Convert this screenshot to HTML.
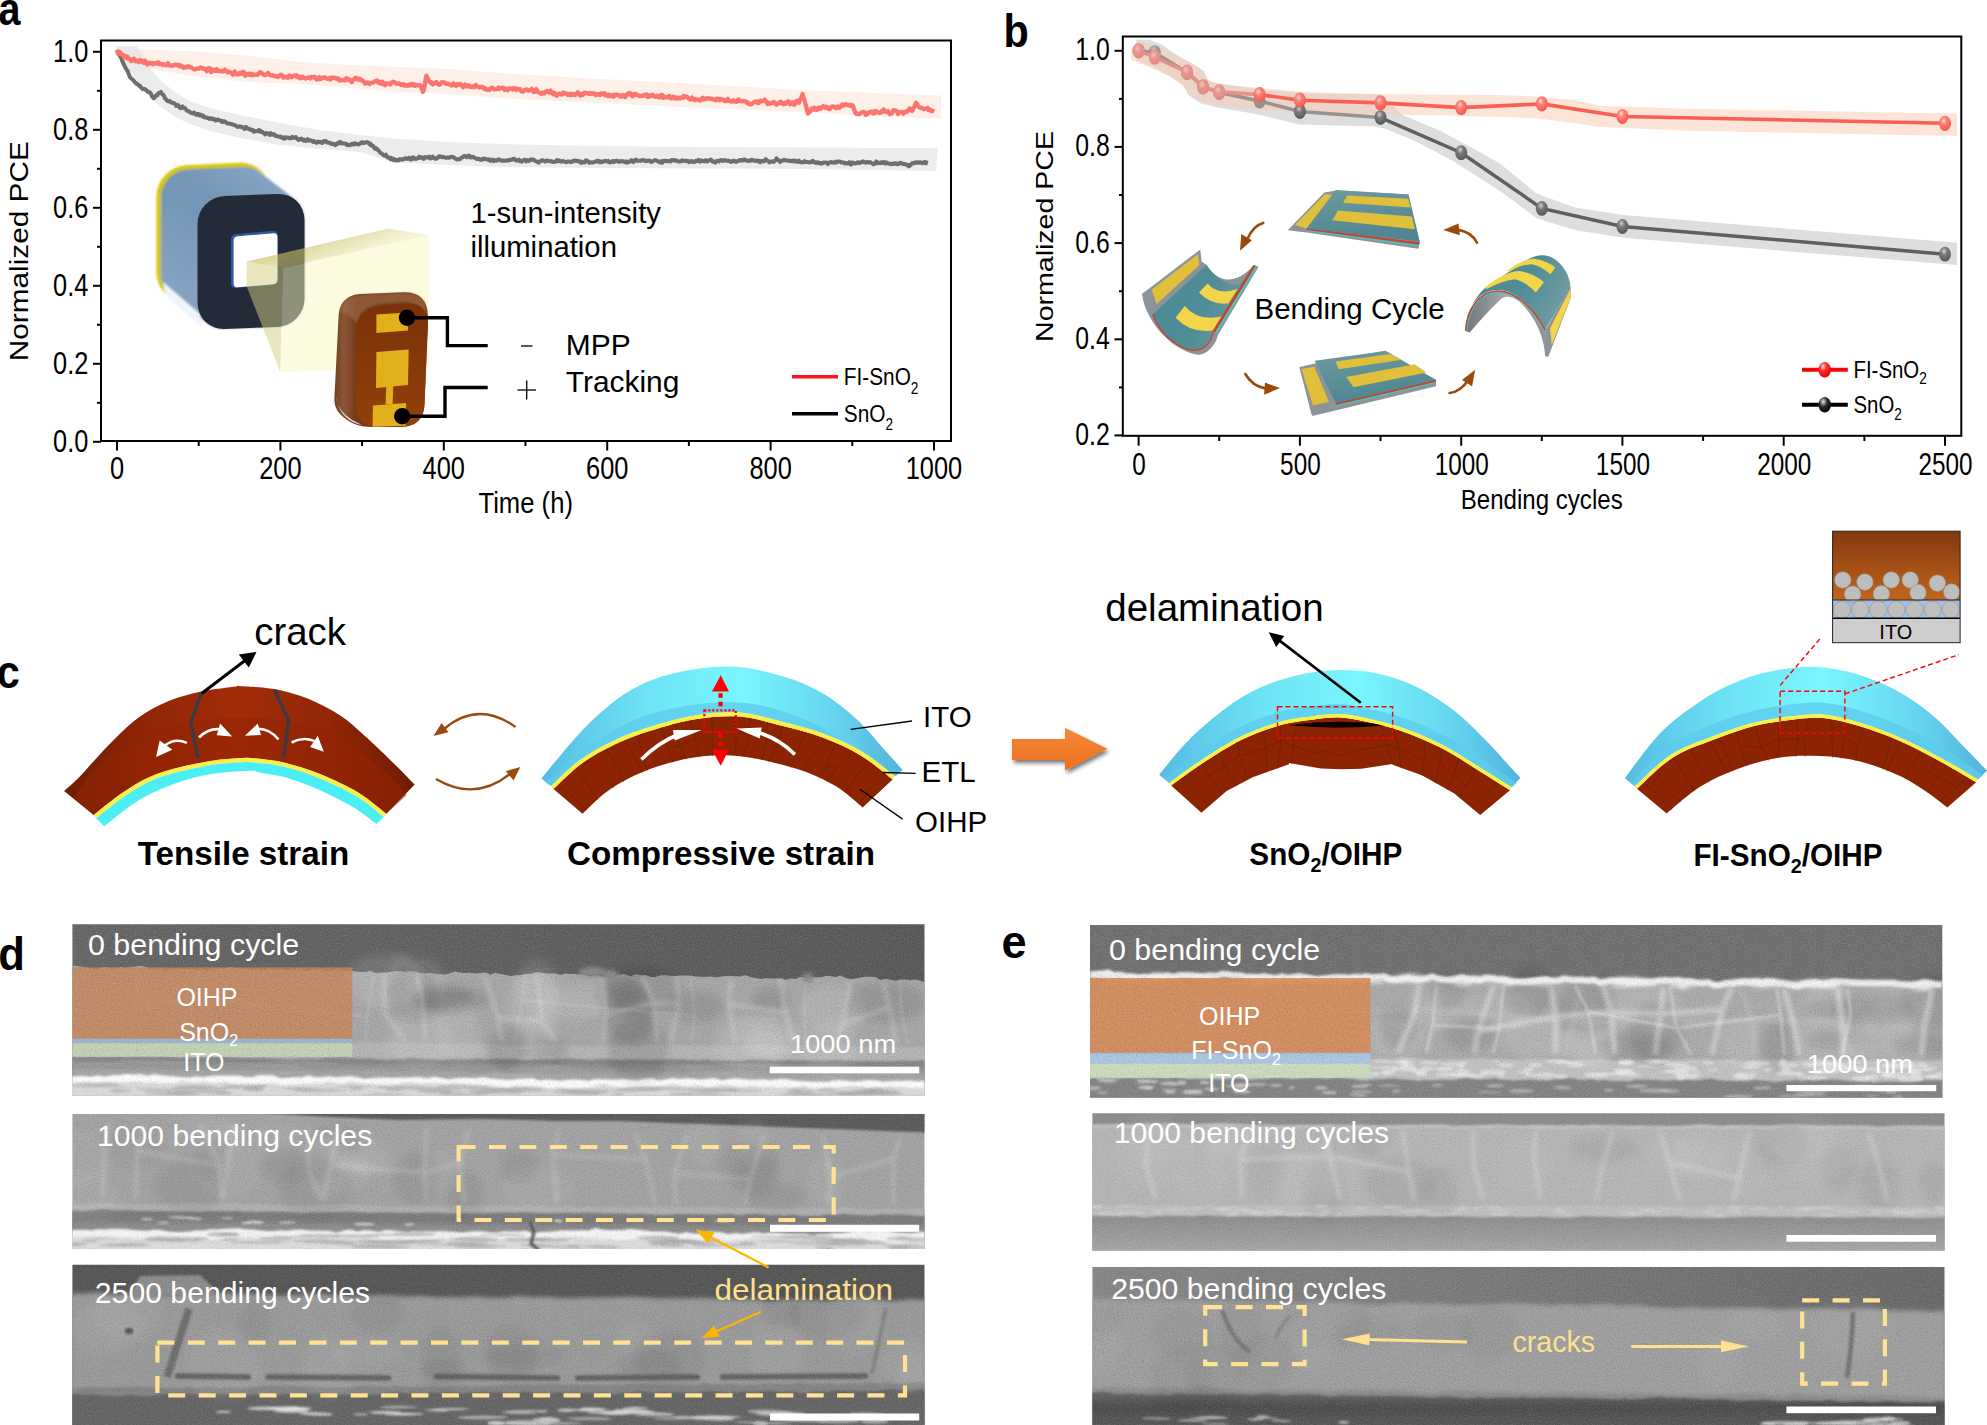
<!DOCTYPE html>
<html lang="en"><head><meta charset="utf-8"><title>Figure</title>
<style>
html,body{margin:0;padding:0;background:#fff;}
body{width:1987px;height:1425px;overflow:hidden;}
svg{display:block;font-family:"Liberation Sans", sans-serif;}
</style></head><body>
<svg width="1987" height="1425" viewBox="0 0 1987 1425">
<defs>

<linearGradient id="lampSide" x1="0" y1="0" x2="1" y2="1">
 <stop offset="0" stop-color="#7293b5"/><stop offset="0.45" stop-color="#86a4c2"/><stop offset="1" stop-color="#9bb5cd"/>
</linearGradient>
<linearGradient id="devSide" x1="0" y1="0" x2="1" y2="0">
 <stop offset="0" stop-color="#70401f"/><stop offset="0.1" stop-color="#8c5636"/><stop offset="0.24" stop-color="#74391a"/><stop offset="1" stop-color="#7c3a10"/>
</linearGradient>
<linearGradient id="devFace" x1="0" y1="0" x2="0" y2="1">
 <stop offset="0" stop-color="#7a3208"/><stop offset="1" stop-color="#93400a"/>
</linearGradient>
<linearGradient id="beamTop" gradientUnits="userSpaceOnUse" x1="330" y1="236" x2="340" y2="262"><stop offset="0" stop-color="#c9c060" stop-opacity="0.62"/><stop offset="1" stop-color="#e6e09a" stop-opacity="0.42"/></linearGradient>
<filter id="blur1"><feGaussianBlur stdDeviation="0.8"/></filter>


<radialGradient id="mkRed" cx="0.4" cy="0.32" r="0.7"><stop offset="0" stop-color="#fdd8d2"/><stop offset="0.35" stop-color="#fb8078"/><stop offset="1" stop-color="#f9544a"/></radialGradient>
<radialGradient id="mkRedP" cx="0.4" cy="0.35" r="0.7"><stop offset="0" stop-color="#eec4be"/><stop offset="0.4" stop-color="#e8958e"/><stop offset="1" stop-color="#e48880"/></radialGradient>
<radialGradient id="mkGrey" cx="0.42" cy="0.3" r="0.65"><stop offset="0" stop-color="#d0d0d0"/><stop offset="0.4" stop-color="#7a7a7a"/><stop offset="1" stop-color="#5c5c5c"/></radialGradient>
<radialGradient id="mkGreyP" cx="0.42" cy="0.3" r="0.65"><stop offset="0" stop-color="#c8c2bc"/><stop offset="0.5" stop-color="#9c948e"/><stop offset="1" stop-color="#948c86"/></radialGradient>
<radialGradient id="lgRed" cx="0.38" cy="0.3" r="0.7"><stop offset="0" stop-color="#ffe0e0"/><stop offset="0.4" stop-color="#fa3030"/><stop offset="1" stop-color="#f00000"/></radialGradient>
<radialGradient id="lgBlk" cx="0.38" cy="0.3" r="0.7"><stop offset="0" stop-color="#e8e8e8"/><stop offset="0.45" stop-color="#303030"/><stop offset="1" stop-color="#000"/></radialGradient>


<linearGradient id="teal1" x1="0" y1="0" x2="0.3" y2="1"><stop offset="0" stop-color="#6e9aa1"/><stop offset="1" stop-color="#4f8690"/></linearGradient>
<linearGradient id="teal2" x1="0" y1="0" x2="1" y2="0.4"><stop offset="0" stop-color="#4a8a94"/><stop offset="0.6" stop-color="#4f8d97"/><stop offset="1" stop-color="#6f9aa0"/></linearGradient>
<linearGradient id="greyIn" x1="0" y1="0" x2="1" y2="0"><stop offset="0" stop-color="#6f777c"/><stop offset="0.5" stop-color="#a4aaae"/><stop offset="1" stop-color="#8c9398"/></linearGradient>


<linearGradient id="brTop" x1="0" y1="0" x2="1" y2="0"><stop offset="0" stop-color="#6e1c04"/><stop offset="0.25" stop-color="#932606"/><stop offset="0.5" stop-color="#a22c08"/><stop offset="0.75" stop-color="#932606"/><stop offset="1" stop-color="#6e1c04"/></linearGradient>
<linearGradient id="brFront" x1="0" y1="0" x2="1" y2="0"><stop offset="0" stop-color="#902404"/><stop offset="0.5" stop-color="#962604"/><stop offset="1" stop-color="#902404"/></linearGradient>
<linearGradient id="cyTop" x1="0" y1="0" x2="1" y2="0"><stop offset="0" stop-color="#56bce2"/><stop offset="0.3" stop-color="#6ee4f6"/><stop offset="0.55" stop-color="#7af6fd"/><stop offset="0.8" stop-color="#66d6f0"/><stop offset="1" stop-color="#52b4dc"/></linearGradient>
<linearGradient id="cyFront" x1="0" y1="0" x2="1" y2="0"><stop offset="0" stop-color="#5cc8ea"/><stop offset="0.5" stop-color="#62d6f2"/><stop offset="1" stop-color="#5cc8ea"/></linearGradient>
<linearGradient id="orArrow" x1="0" y1="0" x2="0" y2="1"><stop offset="0" stop-color="#f28a3c"/><stop offset="1" stop-color="#ee6e1c"/></linearGradient>
<linearGradient id="insBrown" x1="0" y1="0" x2="0" y2="1"><stop offset="0" stop-color="#84380f"/><stop offset="1" stop-color="#c2651a"/></linearGradient>
<filter id="shadow" x="-20%" y="-30%" width="150%" height="170%"><feGaussianBlur in="SourceAlpha" stdDeviation="2.2"/><feOffset dx="1.5" dy="3"/><feComponentTransfer><feFuncA type="linear" slope="0.55"/></feComponentTransfer><feMerge><feMergeNode/><feMergeNode in="SourceGraphic"/></feMerge></filter>


<filter id="semNoise" x="0" y="0" width="100%" height="100%" color-interpolation-filters="sRGB">
 <feTurbulence type="fractalNoise" baseFrequency="0.85" numOctaves="2" seed="11" result="n"/>
 <feColorMatrix in="n" type="matrix" values="0 0 0 0 1  0 0 0 0 1  0 0 0 0 1  1.1 0 0 0 -0.55" result="w"/>
 <feColorMatrix in="n" type="matrix" values="0 0 0 0 0  0 0 0 0 0  0 0 0 0 0  -1.1 0 0 0 0.55" result="k"/>
 <feMerge><feMergeNode in="w"/><feMergeNode in="k"/></feMerge>
</filter>
<filter id="b1" x="-5%" y="-60%" width="110%" height="220%"><feGaussianBlur stdDeviation="1.1"/></filter>
<filter id="b1c" x="-100%" y="-30%" width="300%" height="160%"><feGaussianBlur stdDeviation="1.1"/></filter>
<filter id="b2" x="-5%" y="-30%" width="110%" height="160%"><feGaussianBlur stdDeviation="2.2"/></filter>
<filter id="b4" x="-5%" y="-40%" width="110%" height="180%"><feGaussianBlur stdDeviation="4"/></filter>

<linearGradient id="d1top" x1="0" y1="0" x2="1" y2="0"><stop offset="0" stop-color="#686868"/><stop offset="1" stop-color="#5a5a5a"/></linearGradient>
<linearGradient id="d1sub" x1="0" y1="0" x2="0" y2="1"><stop offset="0" stop-color="#7c7c7c"/><stop offset="0.45" stop-color="#8e8e8e"/><stop offset="1" stop-color="#a4a4a4"/></linearGradient>


<linearGradient id="e2sub" x1="0" y1="0" x2="0" y2="1"><stop offset="0" stop-color="#8c8c8c"/><stop offset="1" stop-color="#a9a9a9"/></linearGradient>
<linearGradient id="e3top" x1="0" y1="0" x2="1" y2="0"><stop offset="0" stop-color="#888"/><stop offset="1" stop-color="#6a6a6a"/></linearGradient>
<linearGradient id="e3bot" x1="0" y1="0" x2="0" y2="1"><stop offset="0" stop-color="#6a6a6a"/><stop offset="0.4" stop-color="#4e4e4e"/><stop offset="1" stop-color="#5a5a5a"/></linearGradient>

</defs>
<rect width="1987" height="1425" fill="#fff"/>
<g id="labels">
<text transform="translate(-1.5,24.5) scale(0.84,1)" font-size="47" text-anchor="start" fill="#000" font-weight="bold" >a</text>
<text transform="translate(1003.5,46.5) scale(0.9,1)" font-size="46" text-anchor="start" fill="#000" font-weight="bold" >b</text>
<text transform="translate(-3.2,688.0) scale(0.9,1)" font-size="46" text-anchor="start" fill="#000" font-weight="bold" >c</text>
<text transform="translate(-1.8,969.6) scale(0.95,1)" font-size="46" text-anchor="start" fill="#000" font-weight="bold" >d</text>
<text transform="translate(1001.6,957.6) scale(0.98,1)" font-size="46" text-anchor="start" fill="#000" font-weight="bold" >e</text>
</g>
<g id="panel_a">
<polygon points="116.0,46.0 135.0,49.0 160.0,50.0 200.0,51.5 250.0,56.0 300.0,62.0 350.0,65.0 400.0,67.0 450.0,69.0 500.0,73.0 600.0,79.0 700.0,84.0 800.0,90.0 900.0,94.0 941.0,95.6 941.0,119.0 900.0,117.5 800.0,112.0 700.0,108.0 600.0,103.0 500.0,98.0 450.0,94.0 400.0,92.0 350.0,88.0 300.0,84.0 250.0,82.0 200.0,77.0 160.0,71.0 135.0,66.0 120.0,58.0 116.0,54.0" fill="#fdf0e8"/>
<polygon points="116.0,47.0 125.0,46.0 136.0,45.5 141.0,52.0 150.0,68.0 160.0,80.0 175.0,92.0 190.0,101.0 210.0,108.0 240.0,115.0 280.0,123.0 320.0,130.0 360.0,135.0 400.0,139.0 450.0,142.0 500.0,144.0 600.0,146.0 700.0,147.0 800.0,147.5 900.0,148.0 938.0,147.8 936.0,171.0 900.0,170.5 800.0,169.0 700.0,168.5 600.0,168.0 500.0,167.0 450.0,165.0 400.0,163.0 380.0,158.0 360.0,152.0 320.0,149.0 280.0,145.0 240.0,138.0 210.0,131.0 190.0,124.0 175.0,117.0 160.0,106.0 150.0,96.0 140.0,85.0 130.0,71.0 120.0,58.0 116.0,52.0" fill="#e4e4e4" fill-opacity="0.72"/>
<polyline points="116.8,50.3 117.7,52.4 118.6,53.8 119.5,55.3 120.4,56.5 121.3,58.4 122.2,60.9 123.1,62.7 124.0,65.0 124.9,66.6 125.8,68.4 126.7,70.1 127.6,70.8 128.5,73.5 129.4,75.7 130.3,77.7 131.2,78.3 132.1,79.2 133.0,79.9 133.9,80.8 134.8,82.1 135.7,82.8 136.6,83.9 137.5,84.0 138.4,84.9 139.3,85.8 140.2,85.9 141.1,87.7 142.0,88.2 142.9,89.2 143.8,88.9 144.7,89.0 145.6,89.6 146.5,90.3 147.4,91.4 148.3,92.1 149.2,92.3 150.1,92.5 151.0,93.9 151.9,96.4 152.8,97.1 153.7,98.3 154.6,97.7 155.5,95.7 156.4,95.2 157.3,95.4 158.2,93.4 159.1,93.0 160.0,92.7 160.9,91.8 161.8,93.5 162.7,94.7 163.6,95.1 164.5,97.3 165.4,98.7 166.3,99.7 167.2,100.8 168.1,101.1 169.0,101.4 169.9,101.0 170.8,102.2 171.7,102.4 172.6,102.9 173.5,103.0 174.4,103.4 175.3,104.3 176.2,106.0 177.1,105.1 178.0,105.0 178.9,106.2 179.8,107.7 180.7,108.2 181.6,107.2 182.5,106.4 183.4,107.8 184.3,108.1 185.2,108.2 186.1,109.7 187.0,110.8 187.9,110.9 188.8,111.3 189.7,111.7 190.6,112.8 191.5,113.0 192.4,113.2 193.3,113.5 194.2,112.6 195.1,113.9 196.0,114.6 196.9,114.9 197.8,113.8 198.7,114.1 199.6,115.3 200.5,114.5 201.4,115.2 202.3,116.4 203.2,115.7 204.1,117.2 205.0,117.5 205.9,117.3 206.8,117.6 207.7,118.1 208.6,118.1 209.5,118.9 210.4,118.3 211.3,118.2 212.2,119.2 213.1,119.2 214.0,118.8 214.9,119.7 215.8,120.7 216.7,120.1 217.6,119.4 218.5,119.8 219.4,120.2 220.3,120.4 221.2,121.6 222.1,120.9 223.0,122.0 223.9,121.2 224.8,121.2 225.7,122.1 226.6,123.0 227.5,123.5 228.4,123.6 229.3,123.6 230.2,123.8 231.1,124.2 232.0,124.1 232.9,124.5 233.8,125.0 234.7,125.0 235.6,125.6 236.5,126.0 237.4,127.1 238.3,126.9 239.2,126.4 240.1,126.3 241.0,126.6 241.9,127.4 242.8,127.3 243.7,127.7 244.6,129.0 245.5,127.1 246.4,127.1 247.3,128.0 248.2,128.8 249.1,129.2 250.0,129.1 250.9,129.9 251.8,130.2 252.7,129.9 253.6,131.7 254.5,131.5 255.4,130.9 256.3,131.0 257.2,131.0 258.1,131.3 259.0,129.9 259.9,130.6 260.8,132.0 261.7,131.5 262.6,132.0 263.5,133.0 264.4,133.6 265.3,134.4 266.2,133.0 267.1,133.2 268.0,133.4 268.9,134.1 269.8,134.9 270.7,133.2 271.6,134.6 272.5,134.0 273.4,135.0 274.3,134.4 275.2,135.1 276.1,136.2 277.0,136.1 277.9,136.3 278.8,136.8 279.7,136.7 280.6,136.6 281.5,137.6 282.4,137.9 283.3,137.3 284.2,138.8 285.1,137.4 286.0,137.9 286.9,137.6 287.8,137.6 288.7,138.1 289.6,138.1 290.5,138.4 291.4,137.4 292.3,136.8 293.2,137.9 294.1,137.6 295.0,137.4 295.9,137.1 296.8,138.6 297.7,139.2 298.6,140.0 299.5,139.1 300.4,139.2 301.3,138.6 302.2,139.5 303.1,140.5 304.0,139.7 304.9,140.7 305.8,141.0 306.7,140.5 307.6,139.2 308.5,140.6 309.4,140.5 310.3,140.2 311.2,140.7 312.1,141.0 313.0,141.9 313.9,140.9 314.8,141.7 315.7,142.4 316.6,142.8 317.5,142.1 318.4,141.5 319.3,142.2 320.2,142.1 321.1,142.1 322.0,143.0 322.9,142.5 323.8,141.0 324.7,141.4 325.6,140.8 326.5,142.2 327.4,142.6 328.3,142.4 329.2,142.7 330.1,143.4 331.0,143.3 331.9,144.1 332.8,143.7 333.7,144.1 334.6,144.7 335.5,145.1 336.4,143.9 337.3,144.3 338.2,142.8 339.1,142.6 340.0,141.9 340.9,143.4 341.8,142.8 342.7,143.3 343.6,143.5 344.5,143.7 345.4,143.5 346.3,143.9 347.2,145.1 348.1,144.7 349.0,144.8 349.9,145.2 350.8,144.7 351.7,143.8 352.6,143.7 353.5,144.6 354.4,143.3 355.3,143.3 356.2,144.1 357.1,144.4 358.0,144.1 358.9,144.3 359.8,144.0 360.7,143.0 361.6,142.2 362.5,142.2 363.4,143.2 364.3,142.9 365.2,142.6 366.1,142.5 367.0,142.0 367.9,142.6 368.8,142.9 369.7,144.3 370.6,143.8 371.5,145.5 372.4,146.1 373.3,146.0 374.2,147.9 375.1,148.7 376.0,148.0 376.9,148.8 377.8,150.1 378.7,150.6 379.6,151.9 380.5,152.8 381.4,153.5 382.3,154.0 383.2,155.0 384.1,155.5 385.0,155.8 385.9,154.7 386.8,156.2 387.7,157.5 388.6,157.4 389.5,157.6 390.4,159.2 391.3,157.8 392.2,158.5 393.1,160.1 394.0,159.0 394.9,159.5 395.8,160.6 396.7,160.0 397.6,160.2 398.5,160.4 399.4,159.3 400.3,159.2 401.2,159.3 402.1,159.7 403.0,159.3 403.9,159.0 404.8,158.3 405.7,158.2 406.6,158.9 407.5,158.8 408.4,158.1 409.3,157.7 410.2,159.6 411.1,159.6 412.0,159.3 412.9,157.2 413.8,157.9 414.7,158.2 415.6,159.0 416.5,158.7 417.4,158.2 418.3,158.2 419.2,156.7 420.1,157.6 421.0,157.8 421.9,157.2 422.8,158.1 423.7,158.9 424.6,157.4 425.5,157.0 426.4,157.4 427.3,157.5 428.2,157.2 429.1,156.7 430.0,158.3 430.9,158.5 431.8,157.3 432.7,156.5 433.6,157.9 434.5,158.3 435.4,158.9 436.3,158.7 437.2,157.6 438.1,157.6 439.0,156.2 439.9,156.2 440.8,156.7 441.7,157.3 442.6,156.8 443.5,157.0 444.4,157.4 445.3,157.5 446.2,157.8 447.1,157.7 448.0,157.3 448.9,157.7 449.8,157.5 450.7,156.9 451.6,156.7 452.5,156.9 453.4,157.2 454.3,157.9 455.2,158.4 456.1,159.0 457.0,159.4 457.9,159.2 458.8,159.2 459.7,159.3 460.6,158.6 461.5,157.6 462.4,157.4 463.3,156.7 464.2,155.8 465.1,156.5 466.0,156.3 466.9,157.3 467.8,156.7 468.7,155.5 469.6,155.9 470.5,157.6 471.4,157.5 472.3,156.8 473.2,156.8 474.1,157.7 475.0,158.1 475.9,158.2 476.8,159.1 477.7,159.1 478.6,158.7 479.5,158.9 480.4,159.7 481.3,159.7 482.2,159.8 483.1,158.6 484.0,158.6 484.9,159.1 485.8,158.8 486.7,159.5 487.6,159.6 488.5,159.9 489.4,159.4 490.3,160.8 491.2,160.8 492.1,160.0 493.0,159.8 493.9,161.2 494.8,160.2 495.7,160.4 496.6,160.7 497.5,160.2 498.4,159.3 499.3,159.6 500.2,160.0 501.1,160.6 502.0,160.8 502.9,160.5 503.8,160.8 504.7,160.8 505.6,160.6 506.5,160.5 507.4,160.2 508.3,160.6 509.2,159.8 510.1,159.7 511.0,160.0 511.9,159.3 512.8,159.5 513.7,158.7 514.6,159.1 515.5,160.0 516.4,160.6 517.3,160.5 518.2,160.4 519.1,159.6 520.0,161.2 520.9,161.3 521.8,161.7 522.7,160.7 523.6,160.6 524.5,159.6 525.4,160.6 526.3,161.3 527.2,160.0 528.1,160.4 529.0,161.0 529.9,159.9 530.8,159.3 531.7,159.5 532.6,159.8 533.5,159.6 534.4,160.3 535.3,160.8 536.2,161.4 537.1,161.7 538.0,162.4 538.9,162.6 539.8,161.3 540.7,161.0 541.6,160.5 542.5,160.3 543.4,160.8 544.3,161.1 545.2,161.6 546.1,160.6 547.0,160.3 547.9,160.9 548.8,161.1 549.7,161.2 550.6,161.4 551.5,161.1 552.4,161.8 553.3,162.0 554.2,161.9 555.1,161.5 556.0,161.6 556.9,160.1 557.8,160.3 558.7,161.1 559.6,160.6 560.5,161.4 561.4,161.7 562.3,161.0 563.2,161.2 564.1,161.3 565.0,161.9 565.9,162.2 566.8,162.0 567.7,161.4 568.6,161.5 569.5,161.6 570.4,162.1 571.3,162.1 572.2,161.5 573.1,160.8 574.0,160.9 574.9,160.8 575.8,160.5 576.7,160.9 577.6,160.9 578.5,161.3 579.4,161.7 580.3,161.4 581.2,162.8 582.1,162.0 583.0,162.4 583.9,162.1 584.8,162.4 585.7,160.5 586.6,160.5 587.5,161.0 588.4,161.5 589.3,162.8 590.2,162.3 591.1,162.6 592.0,162.5 592.9,162.5 593.8,162.2 594.7,161.7 595.6,161.7 596.5,160.8 597.4,161.7 598.3,160.8 599.2,161.1 600.1,162.3 601.0,161.6 601.9,161.4 602.8,161.9 603.7,161.5 604.6,160.8 605.5,161.0 606.4,161.4 607.3,161.6 608.2,160.9 609.1,162.0 610.0,162.5 610.9,161.9 611.8,161.6 612.7,161.1 613.6,161.9 614.5,161.1 615.4,161.4 616.3,161.0 617.2,160.6 618.1,161.2 619.0,161.9 619.9,161.5 620.8,160.9 621.7,161.4 622.6,161.2 623.5,161.3 624.4,162.1 625.3,162.3 626.2,161.4 627.1,162.6 628.0,161.9 628.9,162.0 629.8,161.1 630.7,161.0 631.6,160.0 632.5,161.5 633.4,162.1 634.3,160.9 635.2,160.0 636.1,159.5 637.0,160.9 637.9,160.7 638.8,160.8 639.7,160.7 640.6,160.8 641.5,160.2 642.4,160.6 643.3,159.9 644.2,160.4 645.1,160.8 646.0,161.2 646.9,161.0 647.8,160.4 648.7,160.8 649.6,160.6 650.5,161.7 651.4,161.9 652.3,161.4 653.2,160.9 654.1,160.5 655.0,160.2 655.9,160.3 656.8,160.8 657.7,161.2 658.6,161.5 659.5,162.5 660.4,161.4 661.3,161.2 662.2,162.8 663.1,160.9 664.0,160.6 664.9,160.9 665.8,161.0 666.7,161.3 667.6,161.0 668.5,161.2 669.4,161.2 670.3,161.5 671.2,160.2 672.1,160.0 673.0,160.5 673.9,160.1 674.8,159.9 675.7,160.8 676.6,160.5 677.5,161.1 678.4,161.5 679.3,161.5 680.2,161.6 681.1,161.2 682.0,160.3 682.9,160.6 683.8,161.0 684.7,160.7 685.6,160.8 686.5,161.3 687.4,160.7 688.3,161.2 689.2,162.2 690.1,161.3 691.0,161.3 691.9,161.1 692.8,162.0 693.7,161.7 694.6,161.9 695.5,161.1 696.4,161.0 697.3,161.0 698.2,159.9 699.1,161.3 700.0,161.7 700.9,160.3 701.8,161.1 702.7,161.0 703.6,161.2 704.5,161.4 705.4,160.3 706.3,160.5 707.2,161.6 708.1,161.0 709.0,160.4 709.9,159.8 710.8,159.6 711.7,160.4 712.6,161.7 713.5,161.6 714.4,161.4 715.3,162.6 716.2,161.5 717.1,160.8 718.0,161.2 718.9,161.4 719.8,160.6 720.7,160.0 721.6,160.6 722.5,160.9 723.4,160.1 724.3,160.3 725.2,160.2 726.1,160.8 727.0,160.8 727.9,160.8 728.8,160.6 729.7,161.3 730.6,161.9 731.5,161.2 732.4,161.6 733.3,160.8 734.2,160.8 735.1,161.3 736.0,162.0 736.9,161.2 737.8,161.0 738.7,161.0 739.6,160.0 740.5,160.4 741.4,160.1 742.3,160.7 743.2,160.0 744.1,159.2 745.0,159.9 745.9,160.4 746.8,160.3 747.7,161.0 748.6,160.7 749.5,160.4 750.4,160.8 751.3,159.8 752.2,159.8 753.1,160.2 754.0,160.9 754.9,160.7 755.8,160.9 756.7,160.4 757.6,160.7 758.5,161.7 759.4,160.8 760.3,162.2 761.2,161.1 762.1,160.9 763.0,160.9 763.9,161.4 764.8,160.3 765.7,159.2 766.6,160.2 767.5,160.9 768.4,161.1 769.3,162.5 770.2,161.8 771.1,161.4 772.0,161.6 772.9,161.4 773.8,162.0 774.7,160.6 775.6,160.4 776.5,158.4 777.4,159.9 778.3,160.0 779.2,160.8 780.1,162.0 781.0,161.3 781.9,160.8 782.8,160.4 783.7,160.0 784.6,159.8 785.5,160.5 786.4,160.5 787.3,160.6 788.2,160.4 789.1,161.0 790.0,161.1 790.9,160.8 791.8,161.2 792.7,161.0 793.6,160.3 794.5,161.5 795.4,161.6 796.3,160.9 797.2,161.7 798.1,161.8 799.0,160.7 799.9,162.1 800.8,162.1 801.7,162.5 802.6,162.3 803.5,162.1 804.4,161.1 805.3,162.1 806.2,162.1 807.1,161.9 808.0,162.2 808.9,162.2 809.8,162.5 810.7,162.1 811.6,162.1 812.5,160.8 813.4,161.2 814.3,162.0 815.2,162.9 816.1,162.3 817.0,162.2 817.9,163.1 818.8,162.5 819.7,162.8 820.6,163.6 821.5,163.0 822.4,163.4 823.3,162.5 824.2,162.5 825.1,162.4 826.0,162.4 826.9,163.0 827.8,164.1 828.7,162.9 829.6,162.3 830.5,162.6 831.4,161.9 832.3,162.4 833.2,162.7 834.1,162.4 835.0,162.7 835.9,161.7 836.8,162.5 837.7,161.5 838.6,161.5 839.5,161.6 840.4,161.8 841.3,162.6 842.2,162.6 843.1,162.3 844.0,162.8 844.9,163.6 845.8,163.1 846.7,163.1 847.6,163.6 848.5,163.3 849.4,162.2 850.3,163.9 851.2,164.7 852.1,162.6 853.0,162.6 853.9,162.9 854.8,163.4 855.7,163.5 856.6,163.0 857.5,162.2 858.4,162.5 859.3,163.2 860.2,162.4 861.1,161.9 862.0,162.3 862.9,161.4 863.8,161.8 864.7,162.0 865.6,162.7 866.5,162.3 867.4,162.0 868.3,162.2 869.2,162.5 870.1,162.2 871.0,162.5 871.9,163.2 872.8,163.8 873.7,164.4 874.6,163.3 875.5,162.9 876.4,161.4 877.3,163.3 878.2,162.7 879.1,162.8 880.0,163.2 880.9,162.3 881.8,162.9 882.7,163.0 883.6,161.9 884.5,162.7 885.4,163.6 886.3,162.3 887.2,163.2 888.1,163.3 889.0,163.6 889.9,163.7 890.8,164.3 891.7,163.7 892.6,164.1 893.5,163.5 894.4,163.9 895.3,163.2 896.2,163.2 897.1,164.3 898.0,164.2 898.9,163.8 899.8,163.0 900.7,162.7 901.6,163.2 902.5,163.9 903.4,164.0 904.3,164.1 905.2,163.9 906.1,164.7 907.0,164.7 907.9,165.0 908.8,166.3 909.7,165.8 910.6,164.8 911.5,163.8 912.4,163.1 913.3,163.2 914.2,163.2 915.1,162.3 916.0,162.8 916.9,162.8 917.8,162.1 918.7,162.8 919.6,162.5 920.5,162.3 921.4,162.8 922.3,163.4 923.2,162.5 924.1,162.6 925.0,161.9 925.9,163.4 926.8,162.5 927.7,163.0" fill="none" stroke="#6e6e6e" stroke-width="4" stroke-linejoin="round"/>
<polyline points="116.8,50.0 117.7,51.6 118.6,54.0 119.5,51.9 120.4,52.7 121.3,54.3 122.2,55.0 123.1,55.0 124.0,57.5 124.9,57.5 125.8,56.3 126.7,57.9 127.6,56.9 128.5,58.9 129.4,58.8 130.3,59.6 131.2,61.0 132.1,60.8 133.0,59.5 133.9,58.7 134.8,60.5 135.7,61.3 136.6,60.5 137.5,61.5 138.4,61.8 139.3,62.1 140.2,60.0 141.1,60.5 142.0,61.8 142.9,62.4 143.8,62.9 144.7,60.6 145.6,61.5 146.5,62.3 147.4,64.5 148.3,62.9 149.2,62.6 150.1,62.8 151.0,63.6 151.9,63.0 152.8,64.1 153.7,63.1 154.6,63.5 155.5,63.1 156.4,63.5 157.3,63.1 158.2,62.2 159.1,63.9 160.0,64.2 160.9,63.8 161.8,64.2 162.7,65.1 163.6,64.1 164.5,64.3 165.4,64.9 166.3,65.3 167.2,64.9 168.1,63.3 169.0,65.2 169.9,65.5 170.8,65.5 171.7,65.3 172.6,65.7 173.5,65.4 174.4,64.8 175.3,64.7 176.2,64.9 177.1,65.0 178.0,64.7 178.9,66.0 179.8,65.2 180.7,66.4 181.6,65.7 182.5,66.5 183.4,67.8 184.3,67.7 185.2,66.9 186.1,67.1 187.0,67.4 187.9,66.1 188.8,66.3 189.7,67.1 190.6,67.1 191.5,67.5 192.4,68.4 193.3,68.9 194.2,69.4 195.1,69.4 196.0,68.8 196.9,68.7 197.8,68.5 198.7,68.4 199.6,68.5 200.5,67.4 201.4,67.9 202.3,68.5 203.2,68.1 204.1,68.7 205.0,69.5 205.9,69.4 206.8,71.2 207.7,68.5 208.6,69.0 209.5,68.0 210.4,69.8 211.3,72.1 212.2,69.3 213.1,69.9 214.0,70.6 214.9,70.4 215.8,71.0 216.7,69.1 217.6,70.6 218.5,71.1 219.4,71.1 220.3,70.7 221.2,71.5 222.1,71.1 223.0,71.4 223.9,71.1 224.8,69.6 225.7,70.6 226.6,71.3 227.5,72.2 228.4,71.5 229.3,71.8 230.2,72.5 231.1,72.6 232.0,73.5 232.9,74.7 233.8,73.1 234.7,71.4 235.6,72.8 236.5,74.1 237.4,74.4 238.3,74.5 239.2,73.4 240.1,72.8 241.0,73.8 241.9,73.0 242.8,71.8 243.7,71.9 244.6,74.8 245.5,75.9 246.4,74.5 247.3,73.8 248.2,74.2 249.1,73.7 250.0,75.1 250.9,74.8 251.8,73.8 252.7,75.2 253.6,74.5 254.5,74.7 255.4,74.7 256.3,74.5 257.2,74.9 258.1,74.3 259.0,73.1 259.9,72.1 260.8,72.4 261.7,72.9 262.6,73.8 263.5,74.4 264.4,75.1 265.3,75.2 266.2,74.5 267.1,74.2 268.0,73.0 268.9,73.9 269.8,74.9 270.7,75.5 271.6,75.3 272.5,75.2 273.4,76.0 274.3,75.8 275.2,76.2 276.1,76.4 277.0,76.2 277.9,77.0 278.8,75.9 279.7,75.5 280.6,74.9 281.5,74.7 282.4,76.4 283.3,77.5 284.2,76.8 285.1,76.8 286.0,77.4 286.9,77.4 287.8,77.7 288.7,75.9 289.6,75.5 290.5,76.1 291.4,77.3 292.3,76.9 293.2,75.9 294.1,75.7 295.0,75.5 295.9,75.1 296.8,76.9 297.7,76.2 298.6,76.3 299.5,78.1 300.4,78.3 301.3,77.8 302.2,76.7 303.1,77.0 304.0,78.2 304.9,78.1 305.8,78.6 306.7,77.9 307.6,77.9 308.5,77.4 309.4,77.6 310.3,78.5 311.2,76.8 312.1,77.0 313.0,77.4 313.9,77.0 314.8,77.0 315.7,78.0 316.6,79.5 317.5,79.2 318.4,78.9 319.3,77.2 320.2,79.1 321.1,78.7 322.0,78.5 322.9,77.5 323.8,77.8 324.7,77.2 325.6,77.8 326.5,78.5 327.4,78.6 328.3,78.9 329.2,78.1 330.1,79.6 331.0,78.8 331.9,77.4 332.8,78.0 333.7,77.9 334.6,77.7 335.5,78.1 336.4,78.9 337.3,78.2 338.2,78.7 339.1,80.2 340.0,80.5 340.9,80.0 341.8,80.0 342.7,79.8 343.6,79.8 344.5,80.5 345.4,80.2 346.3,78.3 347.2,79.1 348.1,78.9 349.0,80.1 349.9,79.7 350.8,80.2 351.7,82.1 352.6,80.6 353.5,79.7 354.4,79.1 355.3,77.9 356.2,77.8 357.1,79.5 358.0,79.7 358.9,78.8 359.8,78.7 360.7,80.3 361.6,80.1 362.5,80.4 363.4,81.1 364.3,82.4 365.2,83.6 366.1,83.5 367.0,82.8 367.9,82.5 368.8,83.6 369.7,84.0 370.6,82.8 371.5,82.8 372.4,82.7 373.3,82.5 374.2,82.0 375.1,81.1 376.0,81.2 376.9,80.5 377.8,82.4 378.7,82.9 379.6,81.8 380.5,83.3 381.4,83.8 382.3,81.8 383.2,83.8 384.1,84.1 385.0,85.2 385.9,83.3 386.8,83.7 387.7,83.8 388.6,83.7 389.5,83.7 390.4,84.4 391.3,82.8 392.2,82.1 393.1,81.7 394.0,82.1 394.9,82.4 395.8,83.3 396.7,83.8 397.6,83.9 398.5,83.4 399.4,83.4 400.3,84.5 401.2,85.0 402.1,84.7 403.0,84.3 403.9,85.6 404.8,84.6 405.7,85.1 406.6,85.8 407.5,85.1 408.4,85.6 409.3,84.4 410.2,85.4 411.1,85.4 412.0,83.9 412.9,85.0 413.8,84.3 414.7,85.8 415.6,85.0 416.5,85.0 417.4,85.4 418.3,85.2 419.2,85.6 420.1,85.1 421.0,85.9 421.9,88.8 422.8,91.9 423.7,90.5 424.6,86.1 425.5,79.9 426.4,75.6 427.3,77.6 428.2,79.5 429.1,81.6 430.0,81.6 430.9,83.1 431.8,82.6 432.7,84.4 433.6,83.5 434.5,83.6 435.4,82.9 436.3,82.0 437.2,83.3 438.1,83.9 439.0,84.8 439.9,84.7 440.8,83.6 441.7,82.2 442.6,82.3 443.5,82.3 444.4,82.3 445.3,83.4 446.2,83.9 447.1,83.7 448.0,84.0 448.9,84.0 449.8,84.3 450.7,84.9 451.6,85.5 452.5,84.5 453.4,83.4 454.3,85.1 455.2,85.1 456.1,85.9 457.0,84.1 457.9,84.3 458.8,84.7 459.7,83.8 460.6,84.0 461.5,85.2 462.4,86.2 463.3,87.2 464.2,85.8 465.1,84.6 466.0,85.5 466.9,86.4 467.8,86.4 468.7,85.2 469.6,86.2 470.5,86.8 471.4,87.0 472.3,86.3 473.2,86.6 474.1,87.2 475.0,86.5 475.9,85.1 476.8,86.1 477.7,86.8 478.6,86.9 479.5,87.6 480.4,86.9 481.3,86.9 482.2,86.8 483.1,87.5 484.0,88.7 484.9,88.0 485.8,89.4 486.7,89.8 487.6,89.5 488.5,89.2 489.4,90.0 490.3,89.0 491.2,88.4 492.1,87.5 493.0,88.2 493.9,89.3 494.8,89.3 495.7,89.3 496.6,88.8 497.5,88.8 498.4,87.6 499.3,89.0 500.2,88.6 501.1,87.9 502.0,87.8 502.9,87.7 503.8,89.0 504.7,90.0 505.6,88.6 506.5,89.7 507.4,90.3 508.3,89.5 509.2,88.3 510.1,88.3 511.0,88.4 511.9,89.3 512.8,89.3 513.7,88.0 514.6,89.1 515.5,88.3 516.4,89.8 517.3,89.0 518.2,89.1 519.1,89.0 520.0,89.2 520.9,90.8 521.8,91.4 522.7,91.5 523.6,91.4 524.5,89.9 525.4,89.9 526.3,89.9 527.2,89.6 528.1,90.7 529.0,90.3 529.9,90.1 530.8,89.8 531.7,88.9 532.6,90.5 533.5,92.0 534.4,92.0 535.3,91.0 536.2,89.2 537.1,90.5 538.0,92.1 538.9,92.2 539.8,92.9 540.7,93.7 541.6,93.9 542.5,92.8 543.4,93.4 544.3,93.5 545.2,91.8 546.1,91.8 547.0,91.0 547.9,91.7 548.8,92.6 549.7,91.8 550.6,90.6 551.5,92.7 552.4,93.1 553.3,94.3 554.2,92.7 555.1,93.7 556.0,95.1 556.9,95.8 557.8,94.4 558.7,94.0 559.6,93.5 560.5,94.2 561.4,94.5 562.3,94.0 563.2,92.6 564.1,93.5 565.0,93.0 565.9,93.6 566.8,93.7 567.7,94.8 568.6,95.0 569.5,93.9 570.4,93.9 571.3,95.1 572.2,93.9 573.1,94.0 574.0,94.7 574.9,95.1 575.8,94.8 576.7,93.2 577.6,92.3 578.5,93.0 579.4,93.6 580.3,95.6 581.2,94.0 582.1,94.7 583.0,94.8 583.9,93.0 584.8,92.6 585.7,93.2 586.6,93.0 587.5,93.2 588.4,93.8 589.3,93.1 590.2,93.8 591.1,93.3 592.0,93.1 592.9,93.8 593.8,93.4 594.7,93.8 595.6,95.1 596.5,94.6 597.4,94.1 598.3,94.6 599.2,94.0 600.1,94.9 601.0,93.4 601.9,94.2 602.8,93.7 603.7,93.2 604.6,95.0 605.5,93.9 606.4,95.5 607.3,95.4 608.2,96.1 609.1,94.5 610.0,95.4 610.9,96.1 611.8,95.3 612.7,94.8 613.6,96.7 614.5,95.9 615.4,95.0 616.3,94.4 617.2,94.9 618.1,95.1 619.0,95.1 619.9,96.4 620.8,95.5 621.7,95.6 622.6,96.5 623.5,95.1 624.4,95.9 625.3,97.0 626.2,95.1 627.1,94.3 628.0,93.9 628.9,93.1 629.8,94.5 630.7,93.4 631.6,94.8 632.5,96.3 633.4,94.7 634.3,94.9 635.2,93.7 636.1,95.2 637.0,94.9 637.9,95.1 638.8,95.5 639.7,96.1 640.6,95.8 641.5,95.9 642.4,95.5 643.3,95.9 644.2,95.1 645.1,95.6 646.0,94.4 646.9,94.8 647.8,97.0 648.7,96.8 649.6,95.6 650.5,96.2 651.4,95.6 652.3,94.7 653.2,95.0 654.1,96.3 655.0,96.8 655.9,96.7 656.8,96.0 657.7,95.6 658.6,97.3 659.5,97.3 660.4,96.4 661.3,95.0 662.2,94.9 663.1,97.9 664.0,96.7 664.9,96.9 665.8,97.3 666.7,97.2 667.6,97.1 668.5,96.2 669.4,96.0 670.3,98.1 671.2,97.3 672.1,98.2 673.0,96.6 673.9,97.0 674.8,97.6 675.7,98.6 676.6,97.4 677.5,98.2 678.4,98.5 679.3,97.7 680.2,98.3 681.1,97.6 682.0,97.3 682.9,97.8 683.8,95.9 684.7,97.0 685.6,96.9 686.5,96.5 687.4,97.1 688.3,98.4 689.2,98.3 690.1,99.5 691.0,98.3 691.9,97.5 692.8,99.4 693.7,99.6 694.6,100.1 695.5,99.0 696.4,99.7 697.3,99.7 698.2,100.0 699.1,99.7 700.0,100.6 700.9,99.5 701.8,98.7 702.7,97.9 703.6,99.6 704.5,99.0 705.4,98.5 706.3,98.3 707.2,98.6 708.1,98.1 709.0,98.7 709.9,98.7 710.8,98.8 711.7,98.6 712.6,99.3 713.5,99.3 714.4,99.7 715.3,100.1 716.2,100.4 717.1,98.6 718.0,98.9 718.9,98.9 719.8,100.2 720.7,99.0 721.6,99.1 722.5,99.5 723.4,99.7 724.3,100.9 725.2,100.4 726.1,101.3 727.0,99.9 727.9,98.8 728.8,100.7 729.7,101.1 730.6,101.4 731.5,101.3 732.4,101.5 733.3,100.3 734.2,101.4 735.1,100.9 736.0,101.8 736.9,101.6 737.8,99.8 738.7,99.5 739.6,101.2 740.5,101.2 741.4,101.0 742.3,101.4 743.2,101.1 744.1,100.9 745.0,101.3 745.9,101.5 746.8,102.8 747.7,102.3 748.6,103.6 749.5,104.2 750.4,104.5 751.3,104.2 752.2,103.3 753.1,102.8 754.0,102.3 754.9,101.6 755.8,101.8 756.7,101.4 757.6,103.0 758.5,103.0 759.4,102.3 760.3,100.7 761.2,101.3 762.1,101.4 763.0,100.9 763.9,100.6 764.8,99.6 765.7,101.2 766.6,101.7 767.5,104.0 768.4,103.3 769.3,102.7 770.2,103.7 771.1,103.3 772.0,103.0 772.9,102.5 773.8,102.0 774.7,103.4 775.6,103.8 776.5,104.6 777.4,103.4 778.3,103.1 779.2,102.2 780.1,103.2 781.0,101.8 781.9,102.7 782.8,103.6 783.7,104.3 784.6,102.9 785.5,103.7 786.4,102.7 787.3,102.2 788.2,101.4 789.1,103.0 790.0,104.3 790.9,103.2 791.8,102.5 792.7,102.4 793.6,104.7 794.5,104.7 795.4,103.3 796.3,101.2 797.2,100.7 798.1,101.8 799.0,102.7 799.9,100.4 800.8,98.2 801.7,96.6 802.6,94.0 803.5,97.7 804.4,99.7 805.3,103.7 806.2,106.2 807.1,110.1 808.0,113.6 808.9,112.1 809.8,112.0 810.7,110.8 811.6,108.6 812.5,109.0 813.4,109.6 814.3,107.7 815.2,109.6 816.1,109.6 817.0,109.8 817.9,107.8 818.8,107.6 819.7,107.7 820.6,108.9 821.5,107.5 822.4,107.2 823.3,106.1 824.2,106.9 825.1,107.7 826.0,106.6 826.9,106.8 827.8,107.8 828.7,109.1 829.6,109.1 830.5,108.3 831.4,107.0 832.3,106.5 833.2,106.3 834.1,106.8 835.0,106.9 835.9,108.2 836.8,107.8 837.7,106.4 838.6,107.7 839.5,107.8 840.4,107.2 841.3,106.1 842.2,104.5 843.1,104.3 844.0,105.6 844.9,104.9 845.8,104.1 846.7,104.6 847.6,104.9 848.5,105.2 849.4,105.3 850.3,105.8 851.2,104.9 852.1,106.2 853.0,105.7 853.9,108.8 854.8,111.2 855.7,113.4 856.6,114.0 857.5,113.5 858.4,114.1 859.3,114.2 860.2,113.7 861.1,112.8 862.0,112.2 862.9,112.0 863.8,112.1 864.7,112.3 865.6,114.9 866.5,114.3 867.4,114.2 868.3,112.7 869.2,112.1 870.1,112.0 871.0,112.3 871.9,111.6 872.8,113.2 873.7,112.4 874.6,113.3 875.5,111.0 876.4,111.6 877.3,112.1 878.2,112.4 879.1,112.8 880.0,112.8 880.9,112.7 881.8,110.9 882.7,110.9 883.6,109.6 884.5,111.3 885.4,111.9 886.3,111.8 887.2,111.3 888.1,111.2 889.0,113.0 889.9,114.0 890.8,113.0 891.7,113.6 892.6,111.6 893.5,110.2 894.4,110.6 895.3,110.5 896.2,110.7 897.1,111.4 898.0,114.0 898.9,112.5 899.8,112.2 900.7,112.3 901.6,112.0 902.5,112.6 903.4,113.7 904.3,111.8 905.2,111.9 906.1,111.6 907.0,111.8 907.9,110.4 908.8,109.4 909.7,108.4 910.6,110.0 911.5,110.6 912.4,110.8 913.3,108.4 914.2,107.1 915.1,105.2 916.0,102.8 916.9,103.6 917.8,105.7 918.7,107.0 919.6,107.3 920.5,108.0 921.4,107.7 922.3,108.2 923.2,108.5 924.1,109.0 925.0,108.7 925.9,108.5 926.8,108.5 927.7,108.0 928.6,110.1 929.5,109.8 930.4,109.7 931.3,111.0 932.2,111.1 933.1,108.8" fill="none" stroke="#fb7470" stroke-width="4.3" stroke-linejoin="round"/>
<rect x="101" y="40.5" width="850" height="400.5" fill="none" stroke="#000" stroke-width="2"/>
<line x1="93" y1="51.8" x2="101" y2="51.8" stroke="#000" stroke-width="2"/>
<text transform="translate(88.3,61.5) scale(0.805,1)" font-size="31.5" text-anchor="end" fill="#000" font-weight="normal" >1.0</text>
<line x1="97" y1="90.8" x2="101" y2="90.8" stroke="#000" stroke-width="2"/>
<line x1="93" y1="129.8" x2="101" y2="129.8" stroke="#000" stroke-width="2"/>
<text transform="translate(88.3,139.5) scale(0.805,1)" font-size="31.5" text-anchor="end" fill="#000" font-weight="normal" >0.8</text>
<line x1="97" y1="168.8" x2="101" y2="168.8" stroke="#000" stroke-width="2"/>
<line x1="93" y1="207.8" x2="101" y2="207.8" stroke="#000" stroke-width="2"/>
<text transform="translate(88.3,217.5) scale(0.805,1)" font-size="31.5" text-anchor="end" fill="#000" font-weight="normal" >0.6</text>
<line x1="97" y1="246.8" x2="101" y2="246.8" stroke="#000" stroke-width="2"/>
<line x1="93" y1="285.8" x2="101" y2="285.8" stroke="#000" stroke-width="2"/>
<text transform="translate(88.3,295.5) scale(0.805,1)" font-size="31.5" text-anchor="end" fill="#000" font-weight="normal" >0.4</text>
<line x1="97" y1="324.8" x2="101" y2="324.8" stroke="#000" stroke-width="2"/>
<line x1="93" y1="363.8" x2="101" y2="363.8" stroke="#000" stroke-width="2"/>
<text transform="translate(88.3,373.5) scale(0.805,1)" font-size="31.5" text-anchor="end" fill="#000" font-weight="normal" >0.2</text>
<line x1="97" y1="402.8" x2="101" y2="402.8" stroke="#000" stroke-width="2"/>
<line x1="93" y1="441.8" x2="101" y2="441.8" stroke="#000" stroke-width="2"/>
<text transform="translate(88.3,451.5) scale(0.805,1)" font-size="31.5" text-anchor="end" fill="#000" font-weight="normal" >0.0</text>
<line x1="117.0" y1="441" x2="117.0" y2="450.5" stroke="#000" stroke-width="2"/>
<text transform="translate(117.0,479.3) scale(0.82,1)" font-size="31" text-anchor="middle" fill="#000" font-weight="normal" >0</text>
<line x1="198.7" y1="441" x2="198.7" y2="446" stroke="#000" stroke-width="2"/>
<line x1="280.4" y1="441" x2="280.4" y2="450.5" stroke="#000" stroke-width="2"/>
<text transform="translate(280.4,479.3) scale(0.82,1)" font-size="31" text-anchor="middle" fill="#000" font-weight="normal" >200</text>
<line x1="362.1" y1="441" x2="362.1" y2="446" stroke="#000" stroke-width="2"/>
<line x1="443.8" y1="441" x2="443.8" y2="450.5" stroke="#000" stroke-width="2"/>
<text transform="translate(443.8,479.3) scale(0.82,1)" font-size="31" text-anchor="middle" fill="#000" font-weight="normal" >400</text>
<line x1="525.5" y1="441" x2="525.5" y2="446" stroke="#000" stroke-width="2"/>
<line x1="607.2" y1="441" x2="607.2" y2="450.5" stroke="#000" stroke-width="2"/>
<text transform="translate(607.2,479.3) scale(0.82,1)" font-size="31" text-anchor="middle" fill="#000" font-weight="normal" >600</text>
<line x1="688.9" y1="441" x2="688.9" y2="446" stroke="#000" stroke-width="2"/>
<line x1="770.6" y1="441" x2="770.6" y2="450.5" stroke="#000" stroke-width="2"/>
<text transform="translate(770.6,479.3) scale(0.82,1)" font-size="31" text-anchor="middle" fill="#000" font-weight="normal" >800</text>
<line x1="852.3" y1="441" x2="852.3" y2="446" stroke="#000" stroke-width="2"/>
<line x1="934.0" y1="441" x2="934.0" y2="450.5" stroke="#000" stroke-width="2"/>
<text transform="translate(934.0,479.3) scale(0.82,1)" font-size="31" text-anchor="middle" fill="#000" font-weight="normal" >1000</text>
<text transform="translate(525.7,513.0) scale(0.855,1)" font-size="30" text-anchor="middle" fill="#000" font-weight="normal" >Time (h)</text>
<text transform="translate(28.3,251.2) rotate(-90) scale(1.124,1)" font-size="26.5" text-anchor="middle" fill="#000" font-weight="normal" >Normalized PCE</text>
<line x1="792" y1="376.7" x2="838" y2="376.7" stroke="#f8141c" stroke-width="3.6"/>
<line x1="792" y1="413.8" x2="838" y2="413.8" stroke="#000" stroke-width="3.6"/>
<text transform="translate(843.8,385.4) scale(0.85,1)" font-size="24.5" text-anchor="start" fill="#000" font-weight="normal" >FI-SnO<tspan font-size="16" dy="8.3">2</tspan></text>
<text transform="translate(843.8,421.9) scale(0.85,1)" font-size="24.5" text-anchor="start" fill="#000" font-weight="normal" >SnO<tspan font-size="16" dy="8.3">2</tspan></text>
<text transform="translate(470.4,223.0)" font-size="29.3" text-anchor="start" fill="#000" font-weight="normal" >1-sun-intensity</text>
<text transform="translate(470.4,256.7)" font-size="29.3" text-anchor="start" fill="#000" font-weight="normal" >illumination</text>
<text transform="translate(565.8,354.8)" font-size="29.9" text-anchor="start" fill="#000" font-weight="normal" >MPP</text>
<text transform="translate(565.8,391.5)" font-size="29.9" text-anchor="start" fill="#000" font-weight="normal" >Tracking</text>
<line x1="521" y1="346" x2="532.5" y2="346" stroke="#000" stroke-width="1.3"/>
<line x1="517.5" y1="390" x2="536" y2="390" stroke="#000" stroke-width="1.3"/>
<line x1="526.7" y1="380.5" x2="526.7" y2="399.5" stroke="#000" stroke-width="1.3"/>
</g>
<g id="inset_a">
<g filter="url(#blur1)">
<g transform="translate(156.5,166.5) skewY(-2.6)"><rect x="0" y="0" width="113" height="136" rx="30" fill="#d3c700"/></g>
<g transform="translate(161.0,170.5) skewY(-2.4)"><rect x="0" y="0" width="109.0" height="131.0" rx="27" fill="url(#lampSide)"/></g>
<g transform="translate(163.6,172.4) skewY(-2.4)"><rect x="0" y="0" width="108.9" height="131.1" rx="27" fill="url(#lampSide)"/></g>
<g transform="translate(166.2,174.3) skewY(-2.4)"><rect x="0" y="0" width="108.7" height="131.3" rx="27" fill="url(#lampSide)"/></g>
<g transform="translate(168.8,176.2) skewY(-2.4)"><rect x="0" y="0" width="108.6" height="131.4" rx="27" fill="url(#lampSide)"/></g>
<g transform="translate(171.4,178.1) skewY(-2.4)"><rect x="0" y="0" width="108.4" height="131.6" rx="27" fill="url(#lampSide)"/></g>
<g transform="translate(174.0,180.0) skewY(-2.4)"><rect x="0" y="0" width="108.3" height="131.7" rx="27" fill="url(#lampSide)"/></g>
<g transform="translate(176.6,181.9) skewY(-2.4)"><rect x="0" y="0" width="108.1" height="131.9" rx="27" fill="url(#lampSide)"/></g>
<g transform="translate(179.2,183.8) skewY(-2.4)"><rect x="0" y="0" width="108.0" height="132.0" rx="27" fill="url(#lampSide)"/></g>
<g transform="translate(181.9,185.6) skewY(-2.4)"><rect x="0" y="0" width="107.9" height="132.1" rx="27" fill="url(#lampSide)"/></g>
<g transform="translate(184.5,187.5) skewY(-2.4)"><rect x="0" y="0" width="107.7" height="132.3" rx="27" fill="url(#lampSide)"/></g>
<g transform="translate(187.1,189.4) skewY(-2.4)"><rect x="0" y="0" width="107.6" height="132.4" rx="27" fill="url(#lampSide)"/></g>
<g transform="translate(189.7,191.3) skewY(-2.4)"><rect x="0" y="0" width="107.4" height="132.6" rx="27" fill="url(#lampSide)"/></g>
<g transform="translate(192.3,193.2) skewY(-2.4)"><rect x="0" y="0" width="107.3" height="132.7" rx="27" fill="url(#lampSide)"/></g>
<g transform="translate(194.9,195.1) skewY(-2.4)"><rect x="0" y="0" width="107.1" height="132.9" rx="27" fill="url(#lampSide)"/></g>
<g transform="translate(197.5,197.0) skewY(-2.4)"><rect x="0" y="0" width="107.0" height="133.0" rx="27" fill="url(#lampSide)"/></g>
<path d="M163,282 L200,314 L202,327 L176,305 Q164,297 163,282 Z" fill="#eef4fa"/>
</g>
<g transform="translate(197.5,197) skewY(-2.2)"><rect x="0" y="0" width="107" height="133" rx="27" ry="27" fill="#232b38"/></g>
<g transform="translate(231,234.5) skewY(-5)"><rect x="0" y="0" width="46.5" height="54" rx="4.5" fill="#2d58a6"/><rect x="2.6" y="2.4" width="43.9" height="51" rx="4" fill="#fff"/></g>
</g>
<polygon points="246.5,261.6 282.8,268.1 280.3,372.2 246.5,285.9" fill="#d3cd81" fill-opacity="0.5"/>
<polygon points="246.5,261.6 388.5,228.6 428.8,235 282.8,268.1" fill="url(#beamTop)"/>
<polygon points="282.8,268.1 428.8,235 428.8,366 280.3,372.2" fill="#fbf7c0" fill-opacity="0.5"/>
<path d="M338.5,318 Q338.5,296 360,294 L404,292.3 Q427,292 428,316 L424.5,404 Q424,427 400,427 L372,427 Q352,427 340,414 Q334,408 334.4,398 Z" fill="url(#devSide)"/>
<path d="M336,396 Q337,410 352,420 L362,425 Q352,423 346,417 Q338,410 336,396 Z" fill="#f4e8e0"/>
<path d="M341,312 Q343,296 362,294.5 L404,292.8 Q420,292.5 426,304 L426,318 Q420,302 404,302 L382,304 Q360,306 357,324 Q350,314 341,312 Z" fill="#a27858" fill-opacity="0.5" filter="url(#blur1)"/>
<path d="M356.5,331 Q356.5,308 380,306 L406,303.5 Q428,302 428,325 L424.5,404 Q424,426 400,426.5 L378,427 Q356,427 356,404 Z" fill="url(#devFace)"/>
<polygon points="376.4,314.5 407.9,312.5 407.9,330.5 376.4,333" fill="#e2b01c"/>
<polygon points="376.4,352 408.7,349.5 408,385 376,388" fill="#e2b01c"/>
<polygon points="386.3,386 393.3,385.5 392.6,404 385.6,404.5" fill="#e2b01c"/>
<polygon points="373,405.5 406.2,403 405.6,425.8 372.5,426.8" fill="#e2b01c"/>
<polyline points="407,317.8 447.4,317.8 447.4,345.6 487.7,345.6" fill="none" stroke="#000" stroke-width="3.4"/>
<polyline points="402.2,416.3 445,416.3 445,387.5 487.7,387.5" fill="none" stroke="#000" stroke-width="3.4"/>
<circle cx="407" cy="317.8" r="8.2" fill="#000"/><circle cx="402.2" cy="416.3" r="8.2" fill="#000"/>
</g>
<g id="panel_b">
<polygon points="1136.4,39.4 1149.3,39.8 1161.3,44.3 1177.9,55.7 1193.0,64.0 1203.6,70.8 1208.1,79.8 1215.7,83.1 1261.0,89.6 1306.3,93.4 1380.3,94.6 1402.6,115.0 1440.0,130.8 1478.0,151.0 1500.0,163.6 1537.0,193.8 1575.0,207.6 1623.0,215.0 1957.0,242.8 1957.0,265.0 1623.0,237.8 1575.0,230.0 1537.0,218.4 1500.0,191.0 1453.0,161.0 1415.0,141.0 1386.3,128.9 1374.2,126.2 1336.5,125.4 1298.7,124.4 1268.5,116.8 1245.9,112.3 1215.7,107.0 1200.6,103.2 1188.5,94.9 1184.0,86.6 1173.4,78.3 1155.3,67.7 1136.4,60.2" fill="#dedede"/>
<polygon points="1131.1,49.6 1137.2,40.9 1155.3,45.1 1177.9,56.4 1194.6,64.7 1203.6,72.3 1208.1,80.6 1224.8,85.1 1261.0,88.1 1306.3,91.9 1381.8,94.2 1500.0,95.0 1537.0,96.4 1575.0,100.0 1600.0,105.7 1688.0,108.7 1957.0,113.7 1957.0,135.9 1688.0,130.8 1600.0,127.0 1575.0,123.3 1537.0,118.2 1500.0,117.0 1460.0,115.8 1381.8,114.6 1336.5,113.0 1291.2,111.5 1245.9,108.5 1215.7,104.7 1200.6,101.0 1188.5,93.4 1182.5,84.4 1170.4,76.8 1155.3,70.0 1131.1,59.4" fill="#f9c9ad" fill-opacity="0.5"/>
<polyline points="1138.6,50.8 1154.7,52.6 1187.0,72.5 1203.1,87.0 1219.2,92.5 1259.6,101.0 1299.9,111.5 1380.5,117.6" fill="none" stroke="#9a928c" stroke-width="3.5"/>
<polyline points="1380.5,117.6 1461.2,152.7 1541.8,208.4 1622.4,226.5 1945.0,254.2" fill="none" stroke="#5f5f5f" stroke-width="3.5"/>
<ellipse cx="1138.6" cy="50.8" rx="6" ry="7.4" fill="url(#mkGreyP)"/>
<ellipse cx="1154.7" cy="52.6" rx="6" ry="7.4" fill="url(#mkGreyP)"/>
<ellipse cx="1187.0" cy="72.5" rx="6" ry="7.4" fill="url(#mkGreyP)"/>
<ellipse cx="1203.1" cy="87.0" rx="6" ry="7.4" fill="url(#mkGreyP)"/>
<ellipse cx="1219.2" cy="92.5" rx="6" ry="7.4" fill="url(#mkGreyP)"/>
<ellipse cx="1259.6" cy="101.0" rx="6" ry="7.4" fill="url(#mkGreyP)"/>
<ellipse cx="1299.9" cy="111.5" rx="6" ry="7.4" fill="url(#mkGrey)"/>
<ellipse cx="1380.5" cy="117.6" rx="6" ry="7.4" fill="url(#mkGrey)"/>
<ellipse cx="1461.2" cy="152.7" rx="6" ry="7.4" fill="url(#mkGrey)"/>
<ellipse cx="1541.8" cy="208.4" rx="6" ry="7.4" fill="url(#mkGrey)"/>
<ellipse cx="1622.4" cy="226.5" rx="6" ry="7.4" fill="url(#mkGrey)"/>
<ellipse cx="1945.0" cy="254.2" rx="6" ry="7.4" fill="url(#mkGrey)"/>
<polyline points="1138.6,50.8 1154.7,57.2 1187.0,72.0 1203.1,86.6 1219.2,91.9 1259.6,94.6" fill="none" stroke="#e8908a" stroke-width="3.6"/>
<polyline points="1259.6,94.6 1299.9,100.2 1380.5,102.9 1461.2,107.6 1541.8,103.9 1622.4,116.5 1945.0,123.3" fill="none" stroke="#fa5f55" stroke-width="3.6"/>
<ellipse cx="1138.6" cy="50.8" rx="6" ry="7.6" fill="url(#mkRedP)"/>
<ellipse cx="1154.7" cy="57.2" rx="6" ry="7.6" fill="url(#mkRedP)"/>
<ellipse cx="1187.0" cy="72.0" rx="6" ry="7.6" fill="url(#mkRedP)"/>
<ellipse cx="1203.1" cy="86.6" rx="6" ry="7.6" fill="url(#mkRedP)"/>
<ellipse cx="1219.2" cy="91.9" rx="6" ry="7.6" fill="url(#mkRedP)"/>
<ellipse cx="1259.6" cy="94.6" rx="6" ry="7.6" fill="url(#mkRed)"/>
<ellipse cx="1299.9" cy="100.2" rx="6" ry="7.6" fill="url(#mkRed)"/>
<ellipse cx="1380.5" cy="102.9" rx="6" ry="7.6" fill="url(#mkRed)"/>
<ellipse cx="1461.2" cy="107.6" rx="6" ry="7.6" fill="url(#mkRed)"/>
<ellipse cx="1541.8" cy="103.9" rx="6" ry="7.6" fill="url(#mkRed)"/>
<ellipse cx="1622.4" cy="116.5" rx="6" ry="7.6" fill="url(#mkRed)"/>
<ellipse cx="1945.0" cy="123.3" rx="6" ry="7.6" fill="url(#mkRed)"/>
<rect x="1122.8" y="36.5" width="838.5" height="399.3" fill="none" stroke="#000" stroke-width="2"/>
<line x1="1114.5" y1="50.8" x2="1122.8" y2="50.8" stroke="#000" stroke-width="2"/>
<text transform="translate(1109.8,60.2) scale(0.785,1)" font-size="31.6" text-anchor="end" fill="#000" font-weight="normal" >1.0</text>
<line x1="1119" y1="98.9" x2="1122.8" y2="98.9" stroke="#000" stroke-width="2"/>
<line x1="1114.5" y1="146.9" x2="1122.8" y2="146.9" stroke="#000" stroke-width="2"/>
<text transform="translate(1109.8,156.3) scale(0.785,1)" font-size="31.6" text-anchor="end" fill="#000" font-weight="normal" >0.8</text>
<line x1="1119" y1="195.0" x2="1122.8" y2="195.0" stroke="#000" stroke-width="2"/>
<line x1="1114.5" y1="243.1" x2="1122.8" y2="243.1" stroke="#000" stroke-width="2"/>
<text transform="translate(1109.8,252.5) scale(0.785,1)" font-size="31.6" text-anchor="end" fill="#000" font-weight="normal" >0.6</text>
<line x1="1119" y1="291.2" x2="1122.8" y2="291.2" stroke="#000" stroke-width="2"/>
<line x1="1114.5" y1="339.3" x2="1122.8" y2="339.3" stroke="#000" stroke-width="2"/>
<text transform="translate(1109.8,348.7) scale(0.785,1)" font-size="31.6" text-anchor="end" fill="#000" font-weight="normal" >0.4</text>
<line x1="1119" y1="387.4" x2="1122.8" y2="387.4" stroke="#000" stroke-width="2"/>
<line x1="1114.5" y1="435.4" x2="1122.8" y2="435.4" stroke="#000" stroke-width="2"/>
<text transform="translate(1109.8,444.8) scale(0.785,1)" font-size="31.6" text-anchor="end" fill="#000" font-weight="normal" >0.2</text>
<line x1="1138.6" y1="435.8" x2="1138.6" y2="445.7" stroke="#000" stroke-width="2"/>
<text transform="translate(1139.1,475.2) scale(0.772,1)" font-size="31.5" text-anchor="middle" fill="#000" font-weight="normal" >0</text>
<line x1="1219.2" y1="435.8" x2="1219.2" y2="441" stroke="#000" stroke-width="2"/>
<line x1="1299.9" y1="435.8" x2="1299.9" y2="445.7" stroke="#000" stroke-width="2"/>
<text transform="translate(1300.4,475.2) scale(0.772,1)" font-size="31.5" text-anchor="middle" fill="#000" font-weight="normal" >500</text>
<line x1="1380.5" y1="435.8" x2="1380.5" y2="441" stroke="#000" stroke-width="2"/>
<line x1="1461.2" y1="435.8" x2="1461.2" y2="445.7" stroke="#000" stroke-width="2"/>
<text transform="translate(1461.7,475.2) scale(0.772,1)" font-size="31.5" text-anchor="middle" fill="#000" font-weight="normal" >1000</text>
<line x1="1541.8" y1="435.8" x2="1541.8" y2="441" stroke="#000" stroke-width="2"/>
<line x1="1622.4" y1="435.8" x2="1622.4" y2="445.7" stroke="#000" stroke-width="2"/>
<text transform="translate(1622.9,475.2) scale(0.772,1)" font-size="31.5" text-anchor="middle" fill="#000" font-weight="normal" >1500</text>
<line x1="1703.1" y1="435.8" x2="1703.1" y2="441" stroke="#000" stroke-width="2"/>
<line x1="1783.7" y1="435.8" x2="1783.7" y2="445.7" stroke="#000" stroke-width="2"/>
<text transform="translate(1784.2,475.2) scale(0.772,1)" font-size="31.5" text-anchor="middle" fill="#000" font-weight="normal" >2000</text>
<line x1="1864.4" y1="435.8" x2="1864.4" y2="441" stroke="#000" stroke-width="2"/>
<line x1="1945.0" y1="435.8" x2="1945.0" y2="445.7" stroke="#000" stroke-width="2"/>
<text transform="translate(1945.5,475.2) scale(0.772,1)" font-size="31.5" text-anchor="middle" fill="#000" font-weight="normal" >2500</text>
<text transform="translate(1541.7,509.0) scale(0.86,1)" font-size="28" text-anchor="middle" fill="#000" font-weight="normal" >Bending cycles</text>
<text transform="translate(1053.0,236.5) rotate(-90) scale(1.19,1)" font-size="24" text-anchor="middle" fill="#000" font-weight="normal" >Normalized PCE</text>
<line x1="1802" y1="369.7" x2="1847.8" y2="369.7" stroke="#fb0007" stroke-width="4"/>
<ellipse cx="1824.7" cy="369.7" rx="6.2" ry="7.8" fill="url(#lgRed)"/>
<line x1="1802" y1="404.8" x2="1847.8" y2="404.8" stroke="#000" stroke-width="4"/>
<ellipse cx="1824.7" cy="404.8" rx="6.2" ry="7.8" fill="url(#lgBlk)"/>
<text transform="translate(1853.5,378.0) scale(0.85,1)" font-size="24" text-anchor="start" fill="#000" font-weight="normal" >FI-SnO<tspan font-size="16" dy="6.4">2</tspan></text>
<text transform="translate(1853.5,413.2) scale(0.85,1)" font-size="24" text-anchor="start" fill="#000" font-weight="normal" >SnO<tspan font-size="16" dy="6.4">2</tspan></text>
<text transform="translate(1254.5,319.0)" font-size="29.5" text-anchor="start" fill="#000" font-weight="normal" >Bending Cycle</text>
</g>
<g id="inset_b">
<path d="M 1287.8,230.2 L 1324.3,192.4 L 1336.2,190.4 L 1408.6,194.6 L 1419.8,242.1 L 1418.3,248.8 L 1306.6,232.4 Z" fill="#8c949a" />
<path d="M 1295.1,224.7 L 1325.3,193.9 L 1332.9,195.0 L 1306.3,228.8 Z" fill="#e0c03a" />
<path d="M 1306.6,231.1 L 1418.7,246.6 L 1419.4,243.0 L 1306.6,228.8 Z" fill="#45c6c4" />
<path d="M 1306.6,229.9 L 1419.1,244.8 L 1419.6,242.3 L 1306.6,228.0 Z" fill="#c8422c" />
<path d="M 1306.6,228.4 L 1335.8,190.1 L 1408.3,194.6 L 1419.6,241.5 Z" fill="url(#teal1)" />
<path d="M 1347.2,195.5 L 1408.3,198.8 L 1410.7,207.4 L 1343.1,202.8 Z" fill="#e0c03a" />
<path d="M 1338.0,210.5 L 1411.9,216.5 L 1415.0,229.3 L 1332.2,220.2 Z" fill="#e0c03a" />
<path d="M 1299.3,367.1 L 1315.2,363.4 L 1385.5,350.7 L 1436.0,379.9 L 1436.0,386.2 L 1312.5,416.0 L 1311.2,413.6 Z" fill="#8c949a" />
<path d="M 1301.5,368.9 L 1314.3,366.7 L 1328.9,401.8 L 1313.0,405.4 Z" fill="#e0c03a" />
<path d="M 1336.8,406.5 L 1436.0,383.1 L 1436.0,380.8 L 1335.8,403.6 Z" fill="#45c6c4" />
<path d="M 1336.2,405.0 L 1436.0,381.7 L 1436.0,379.5 L 1335.5,402.5 Z" fill="#c8422c" />
<path d="M 1314.7,360.7 L 1385.5,351.0 L 1436.0,379.9 L 1335.8,403.2 Z" fill="url(#teal1)" />
<path d="M 1335.3,361.6 L 1390.0,353.9 L 1401.9,359.8 L 1338.9,369.3 Z" fill="#e0c03a" />
<path d="M 1346.2,377.1 L 1414.7,364.3 L 1426.5,372.6 L 1353.5,387.2 Z" fill="#e0c03a" />
<path d="M 1141.9,294.1 L 1200.3,249.4 L 1201.5,261.2 L 1206.6,264.9 C 1215.8,279.5 1232.2,288.6 1254.1,264.9 L 1258.6,266.7 L 1218.0,335.1 C 1215.8,345.2 1206.6,355.2 1198.4,354.7 C 1175.6,352.5 1146.4,325.1 1141.9,294.1 Z" fill="#8c949a" />
<path d="M 1151.9,289.5 L 1197.9,254.3 L 1199.3,265.3 L 1156.5,304.1 Z" fill="#e0c03a" />
<path d="M 1152.8,314.2 L 1206.6,264.9 C 1215.8,279.5 1232.2,288.6 1241.3,283.1 L 1253.2,265.8 L 1212.5,330.9 C 1210.3,345.2 1199.3,350.7 1192.0,350.3 C 1175.6,347.9 1157.4,330.6 1152.8,314.2 Z" fill="url(#teal2)" />
<path d="M 1207.6,283.5 Q 1217.6,295.9 1237.7,289.0 L 1228.5,303.2 Q 1212.1,305.9 1199.0,292.6 Z" fill="#f3d54a" />
<path d="M 1184.7,305.9 Q 1198.4,322.4 1224.0,316.0 L 1214.3,330.2 Q 1191.1,334.2 1175.6,317.8 Z" fill="#f3d54a" />
<path d="M 1212.5,330.9 L 1253.2,265.3 L 1255.9,265.8 L 1214.9,332.8 Z" fill="#c8422c" />
<path d="M 1214.9,332.8 L 1255.9,265.8 L 1257.4,266.4 L 1216.3,333.9 Z" fill="#45c6c4" />
<path d="M 1152.8,314.2 C 1157.4,330.6 1175.6,347.9 1192.0,350.3 C 1203.0,351.0 1211.2,343.4 1213.0,332.0" fill="none" stroke="#c8422c" stroke-width="1.4"/>
<path d="M 1465.3,330.9 C 1466.6,308.7 1480.3,292.3 1494.9,290.8 C 1516.8,289.0 1535.9,310.5 1545.4,330.0 L 1547.1,356.5 L 1545.1,356.1 C 1544.5,337.9 1535.0,316.0 1519.5,301.8 C 1512.2,295.9 1505.8,295.5 1501.5,298.5 C 1485.8,313.2 1476.6,325.1 1469.7,332.4 Z" fill="url(#greyIn)" />
<path d="M 1545.4,330.0 L 1570.6,286.8 L 1570.6,298.6 L 1548.2,357.0 L 1545.6,356.1 Z" fill="#8c949a" />
<path d="M 1550.0,328.4 L 1570.4,289.0 L 1570.4,298.6 L 1551.8,344.8 Z" fill="#f3d54a" />
<path d="M 1466.1,325.1 C 1467.9,305.0 1480.3,291.9 1494.9,290.1 C 1516.8,288.2 1535.4,310.1 1545.4,329.3 L 1570.1,288.6 C 1571.5,279.5 1564.2,263.4 1551.5,257.2 C 1542.3,253.6 1535.0,255.4 1527.7,259.4 L 1487.6,285.9 C 1476.6,294.1 1468.4,308.7 1466.1,325.1 Z" fill="url(#teal2)" />
<path d="M 1506.1,271.5 C 1514.7,264.6 1523.9,259.6 1533.0,258.7 C 1542.1,259.6 1549.4,262.8 1555.3,267.4 L 1550.3,274.5 C 1544.9,269.2 1538.5,265.1 1531.2,264.2 C 1523.9,264.6 1516.6,267.4 1511.1,270.6 Z" fill="#f3d54a" />
<path d="M 1484.2,287.9 C 1496.5,278.3 1507.4,271.9 1518.4,271.0 C 1528.4,271.9 1537.6,276.5 1543.9,282.2 L 1535.7,292.5 C 1529.3,285.6 1523.0,281.1 1514.7,279.2 C 1505.6,280.1 1496.5,283.8 1487.4,288.8 Z" fill="#f3d54a" />
<path d="M 1465.7,330.6 C 1466.8,307.8 1480.3,292.6 1494.9,291.2 C 1516.8,289.3 1535.4,310.9 1545.3,330.2" fill="none" stroke="#c8422c" stroke-width="1.6"/>
<path d="M 1467.0,331.3 C 1467.9,309.1 1481.0,294.1 1494.9,292.4 C 1516.1,290.8 1534.3,312.0 1544.2,331.3" fill="none" stroke="#45c6c4" stroke-width="0.9"/>
<path d="M 1263.2,222.9 Q 1253.2,225.7 1247.7,238.4" fill="none" stroke="#9a4a0c" stroke-width="2.6" stroke-linecap="round"/>
<path d="M 1241.3,233.9 L 1251.9,240.3 L 1240.0,250.7 Z" fill="#9a4a0c"/>
<path d="M 1245.3,374.0 Q 1252.3,386.2 1265.9,388.6" fill="none" stroke="#9a4a0c" stroke-width="2.6" stroke-linecap="round"/>
<path d="M 1265.0,382.6 L 1280.0,388.1 L 1264.1,394.8 Z" fill="#9a4a0c"/>
<path d="M 1477.0,242.6 Q 1471.2,232.0 1458.4,229.9" fill="none" stroke="#9a4a0c" stroke-width="2.6" stroke-linecap="round"/>
<path d="M 1458.4,223.5 L 1443.2,229.9 L 1459.9,235.3 Z" fill="#9a4a0c"/>
<path d="M 1449.6,393.0 Q 1460.2,391.7 1468.4,379.9" fill="none" stroke="#9a4a0c" stroke-width="2.6" stroke-linecap="round"/>
<path d="M 1462.0,379.9 L 1475.2,369.8 L 1472.1,386.2 Z" fill="#9a4a0c"/>
</g>
<g id="panel_c">
<path d="M64.1,791.1 C66.7,788.7 72.6,784.0 79.8,776.6 C87.0,769.1 97.5,756.2 107.3,746.4 C117.0,736.6 128.0,725.3 138.3,717.7 C148.6,710.1 158.8,705.2 169.3,700.8 C179.9,696.4 190.4,693.9 201.6,691.5 C212.7,689.1 230.0,687.4 236.2,686.5 C242.3,685.6 232.0,685.7 238.4,686.1 C244.7,686.5 262.6,687.0 274.2,689.1 C285.7,691.2 296.4,694.2 307.6,698.6 C318.7,703.1 331.0,709.4 341.0,715.9 C350.9,722.5 357.9,729.6 367.2,738.0 C376.6,746.5 389.1,758.9 397.1,766.7 C405.0,774.4 411.8,781.6 414.7,784.6 L386.3,813.8 C381.8,810.3 370.0,799.6 358.9,792.9 C347.7,786.2 332.0,778.9 319.5,773.8 C307.0,768.7 294.6,765.1 283.7,762.5 C272.8,759.9 261.0,759.0 253.9,758.3 C246.7,757.6 249.1,757.5 240.9,758.1 C232.8,758.7 219.1,759.3 205.1,761.9 C191.2,764.5 170.9,768.8 157.4,773.8 C143.9,778.8 134.6,784.9 124.0,791.7 C113.3,798.6 98.6,811.1 93.6,815.0 Z" fill="url(#brTop)"/>
<path d="M73.9,796.5 C78.6,790.8 90.6,772.4 102.5,762.5 C114.4,752.5 131.3,743.5 145.5,736.8 C159.6,730.2 169.8,725.7 187.2,722.5 C204.7,719.3 233.9,717.9 250.0,717.7 C266.1,717.5 271.1,718.9 283.7,721.3 C296.3,723.7 312.5,726.9 325.5,732.1 C338.4,737.2 349.7,744.2 361.3,752.3 C372.8,760.5 387.1,773.8 394.7,781.0 C402.2,788.1 404.6,792.9 406.6,795.3 L386.3,813.8 C381.8,810.3 370.0,799.6 358.9,792.9 C347.7,786.2 332.0,778.9 319.5,773.8 C307.0,768.7 294.6,765.1 283.7,762.5 C272.8,759.9 261.0,759.0 253.9,758.3 C246.7,757.6 249.1,757.5 240.9,758.1 C232.8,758.7 219.1,759.3 205.1,761.9 C191.2,764.5 170.9,768.8 157.4,773.8 C143.9,778.8 134.6,784.9 124.0,791.7 C113.3,798.6 98.6,811.1 93.6,815.0 Z" fill="#942504" fill-opacity="0.55"/>
<path d="M93.6,815.0 C98.6,811.1 113.3,798.6 124.0,791.7 C134.6,784.9 143.9,778.8 157.4,773.8 C170.9,768.8 191.2,764.5 205.1,761.9 C219.1,759.3 232.8,758.7 240.9,758.1 C249.1,757.5 246.7,757.6 253.9,758.3 C261.0,759.0 272.8,759.9 283.7,762.5 C294.6,765.1 307.0,768.7 319.5,773.8 C332.0,778.9 347.7,786.2 358.9,792.9 C370.0,799.6 381.8,810.3 386.3,813.8 L383.8,817.1 C379.3,813.7 367.7,803.1 356.7,796.5 C345.7,789.9 330.3,782.7 317.9,777.7 C305.6,772.7 293.5,769.1 282.7,766.6 C272.0,764.0 260.4,763.2 253.4,762.5 C246.5,761.8 249.2,761.7 241.2,762.3 C233.3,762.8 219.6,763.4 205.9,766.0 C192.2,768.6 172.1,772.9 158.8,777.8 C145.6,782.6 136.7,788.5 126.3,795.2 C115.8,802.0 101.1,814.5 96.1,818.3 Z" fill="#fbf04a"/>
<path d="M96.1,818.3 C101.1,814.5 115.8,802.0 126.3,795.2 C136.7,788.5 145.6,782.6 158.8,777.8 C172.1,772.9 192.2,768.6 205.9,766.0 C219.6,763.4 233.3,762.8 241.2,762.3 C249.2,761.7 246.5,761.8 253.4,762.5 C260.4,763.2 272.0,764.0 282.7,766.6 C293.5,769.1 305.6,772.7 317.9,777.7 C330.3,782.7 345.7,789.9 356.7,796.5 C367.7,803.1 379.3,813.7 383.8,817.1 L376.5,823.9 C373.0,821.4 364.6,814.0 355.3,808.4 C346.0,802.9 332.0,795.6 320.7,790.5 C309.4,785.5 297.4,781.0 287.3,778.0 C277.1,775.0 266.0,773.8 259.8,772.6 C253.6,771.4 259.1,770.4 250.0,770.8 C240.9,771.2 219.4,772.2 205.1,775.0 C190.9,777.8 176.5,782.8 164.6,787.5 C152.6,792.3 143.6,797.2 133.5,803.7 C123.5,810.1 109.2,822.5 104.3,826.3 Z" fill="#4ceef6"/>
<path d="M201.4,692.2 L190.9,722.8 L198.0,758.2" fill="none" stroke="#3b3a40" stroke-width="3.3" stroke-linejoin="round"/>
<path d="M274.5,689.8 L288.6,720.8 L283.5,758.2" fill="none" stroke="#3b3a40" stroke-width="3.3" stroke-linejoin="round"/>
<path d="M186.9,742.9 Q174.8,737.5 164.7,745.6" fill="none" stroke="#fff" stroke-width="2.6"/>
<polygon points="159.7,740.5 156.1,757.0 172.4,749.8" fill="#fff"/>
<path d="M199.0,737.5 Q209.0,727.4 221.1,729.5" fill="none" stroke="#fff" stroke-width="2.6"/>
<polygon points="220.1,723.6 232.2,736.5 216.7,735.3" fill="#fff"/>
<path d="M278.5,739.5 Q269.4,728.4 257.3,728.8" fill="none" stroke="#fff" stroke-width="2.6"/>
<polygon points="257.8,723.6 244.9,735.7 261.0,734.9" fill="#fff"/>
<path d="M291.6,742.5 Q302.6,736.5 314.1,740.9" fill="none" stroke="#fff" stroke-width="2.6"/>
<polygon points="317.7,735.7 323.8,751.8 310.1,747.0" fill="#fff"/>
<line x1="201.6" y1="693.5" x2="247" y2="659" stroke="#000" stroke-width="3"/>
<polygon points="256.5,652 248.8,667.5 238.8,654.5" fill="#000"/>
<text transform="translate(254.2,644.9)" font-size="38.4" text-anchor="start" fill="#000" font-weight="normal" >crack</text>
<text transform="translate(243.5,865.3)" font-size="33.2" text-anchor="middle" fill="#000" font-weight="bold" >Tensile strain</text>
<path d="M515.5,727 Q478,700 444,729" fill="none" stroke="#9a4a0c" stroke-width="2.4"/>
<polygon points="433.4,736 441.6,723 448.4,732.2" fill="#9a4a0c"/>
<path d="M436,779 Q475,802 510,774" fill="none" stroke="#9a4a0c" stroke-width="2.4"/>
<polygon points="520.3,767 513.6,780.4 505.8,771.2" fill="#9a4a0c"/>
<path d="M541.3,778.6 C544.4,774.9 552.6,764.7 559.8,756.2 C567.1,747.7 576.3,736.3 584.9,727.6 C593.4,718.8 602.4,710.6 611.1,703.7 C619.9,696.8 628.1,691.2 637.4,686.4 C646.7,681.6 656.9,678.0 667.2,675.1 C677.6,672.1 687.9,669.9 699.5,668.5 C711.0,667.1 724.6,666.0 736.3,666.7 C748.0,667.4 758.5,669.9 769.7,672.7 C780.8,675.5 792.7,679.0 803.1,683.4 C813.4,687.8 822.4,692.6 831.7,698.9 C841.1,705.3 851.0,713.8 859.2,721.6 C867.3,729.4 873.4,737.4 880.6,745.5 C887.9,753.5 899.0,765.9 902.7,769.9 L895.0,776.3 C889.6,772.2 874.7,759.1 862.7,752.0 C850.8,744.9 836.9,738.6 823.4,733.5 C809.8,728.5 795.5,725.1 781.6,721.6 C767.7,718.1 754.3,713.7 739.8,712.6 C725.3,711.6 709.8,713.0 694.7,715.4 C679.6,717.8 662.9,722.8 649.3,727.0 C635.8,731.2 625.1,735.2 613.5,740.7 C602.0,746.2 590.6,752.2 580.1,759.8 C569.7,767.3 555.8,781.7 550.9,786.0 Z" fill="url(#cyTop)"/>
<path d="M545.5,781.9 C548.9,779.0 558.0,770.8 565.8,764.6 C573.6,758.3 582.9,750.6 592.1,744.3 C601.2,737.9 611.1,731.3 620.7,726.4 C630.2,721.4 639.6,717.6 649.3,714.4 C659.1,711.3 669.2,709.2 679.2,707.3 C689.1,705.4 697.9,703.8 709.0,703.1 C720.1,702.4 733.7,701.8 745.8,703.1 C757.9,704.4 769.7,707.2 781.6,710.9 C793.5,714.5 806.5,719.6 817.4,725.2 C828.3,730.7 837.3,737.7 847.2,744.3 C857.2,750.8 868.5,759.6 877.1,764.6 C885.6,769.5 895.0,772.5 898.5,774.1 L895.0,776.3 C889.6,772.2 874.7,759.1 862.7,752.0 C850.8,744.9 836.9,738.6 823.4,733.5 C809.8,728.5 795.5,725.1 781.6,721.6 C767.7,718.1 754.3,713.7 739.8,712.6 C725.3,711.6 709.8,713.0 694.7,715.4 C679.6,717.8 662.9,722.8 649.3,727.0 C635.8,731.2 625.1,735.2 613.5,740.7 C602.0,746.2 590.6,752.2 580.1,759.8 C569.7,767.3 555.8,781.7 550.9,786.0 Z" fill="url(#cyFront)"/>
<path d="M553.5,788.9 C558.3,784.6 572.1,770.4 582.4,762.9 C592.7,755.5 603.9,749.6 615.2,744.2 C626.6,738.8 637.1,734.9 650.5,730.7 C663.8,726.5 680.4,721.6 695.3,719.2 C710.1,716.9 725.3,715.5 739.6,716.5 C753.8,717.6 766.9,721.9 780.7,725.4 C794.4,728.8 808.6,732.2 822.0,737.2 C835.3,742.2 849.0,748.3 860.7,755.4 C872.5,762.4 887.3,775.4 892.6,779.4 L862.7,807.5 C858.4,804.0 846.0,792.6 836.5,786.6 C826.9,780.7 816.2,775.8 805.5,771.7 C794.7,767.6 783.0,764.8 772.1,762.2 C761.1,759.6 751.3,757.2 739.8,756.2 C728.3,755.2 715.1,755.0 703.0,756.2 C690.9,757.4 678.6,760.2 667.2,763.4 C655.9,766.5 645.2,770.5 635.0,775.3 C624.9,780.1 615.1,785.6 606.4,792.0 C597.6,798.4 586.5,810.1 582.5,813.7 Z" fill="#8c2403"/>
<path d="M558.2,784.7 L571.9,796.3 L586.7,809.9 M575.3,769.3 L584.9,780.2 L597.5,800.1 M571.9,796.3 L584.9,780.2 M586.5,760.6 L601.5,773.9 L613.7,787.8 M606.6,749.1 L617.6,766.9 L623.5,782.0 M624.5,740.7 L632.4,752.4 L642.4,772.6 M637.3,735.8 L643.3,757.1 L647.4,770.7 M661.1,728.0 L668.1,749.4 L673.1,762.2 M674.4,724.6 L679.7,746.0 L686.3,759.5 M668.1,749.4 L679.7,746.0 M690.0,720.6 L695.3,738.0 L699.6,756.9 M679.7,746.0 L695.3,738.0 M711.7,718.2 L712.4,735.5 L712.3,756.2 M734.8,716.8 L736.2,741.6 L734.2,756.2 M750.5,718.9 L748.0,741.9 L742.6,756.7 M767.6,722.6 L766.9,738.2 L761.8,760.3 M782.7,726.0 L776.6,747.5 L768.5,761.5 M766.9,738.2 L776.6,747.5 M806.2,732.7 L799.2,746.5 L791.1,767.6 M824.7,738.5 L811.0,755.9 L803.3,771.1 M836.1,743.8 L825.6,766.2 L819.8,778.6 M852.8,751.6 L836.7,767.7 L826.8,782.0 M825.6,766.2 L836.7,767.7 M869.5,761.9 L857.4,774.4 L844.8,793.2 M883.5,772.5 L867.5,792.2 L858.7,804.3" fill="none" stroke="#6a1802" stroke-width="0.9" stroke-opacity="0.6"/>
<path d="M550.9,786.0 C555.8,781.7 569.7,767.3 580.1,759.8 C590.6,752.2 602.0,746.2 613.5,740.7 C625.1,735.2 635.8,731.2 649.3,727.0 C662.9,722.8 679.6,717.8 694.7,715.4 C709.8,713.0 725.3,711.6 739.8,712.6 C754.3,713.7 767.7,718.1 781.6,721.6 C795.5,725.1 809.8,728.5 823.4,733.5 C836.9,738.6 850.8,744.9 862.7,752.0 C874.7,759.1 889.6,772.2 895.0,776.3 L892.6,779.4 C887.3,775.4 872.5,762.4 860.7,755.4 C849.0,748.3 835.3,742.2 822.0,737.2 C808.6,732.2 794.4,728.8 780.7,725.4 C766.9,721.9 753.8,717.6 739.6,716.5 C725.3,715.5 710.1,716.9 695.3,719.2 C680.4,721.6 663.8,726.5 650.5,730.7 C637.1,734.9 626.6,738.8 615.2,744.2 C603.9,749.6 592.7,755.5 582.4,762.9 C572.1,770.4 558.3,784.6 553.5,788.9 Z" fill="#fbf04a"/>
<path d="M641.4,759.5 Q659.1,741.8 679.2,734.3" fill="none" stroke="#fff" stroke-width="3.6"/>
<polygon points="672.9,730.0 701.8,730.0 674.7,740.6" fill="#fff"/>
<path d="M794.9,754.4 Q779.8,739.3 759.7,733.0" fill="none" stroke="#fff" stroke-width="3.6"/>
<polygon points="761.7,727.5 736.6,728.5 759.7,738.6" fill="#fff"/>
<rect x="704.3" y="710.4" width="31.5" height="21.4" fill="none" stroke="#f00" stroke-width="2.2" stroke-dasharray="2.2,1.8"/>
<line x1="720.5" y1="693.3" x2="720.5" y2="709.9" stroke="#f00" stroke-width="4.2" stroke-dasharray="4.5,4"/>
<polygon points="711.9,691.5 720.7,675.2 729.0,691.5" fill="#f00"/>
<line x1="720.5" y1="733.0" x2="720.5" y2="749.6" stroke="#f00" stroke-width="4.2" stroke-dasharray="4.5,4"/>
<polygon points="711.9,749.4 729.0,749.4 720.7,765.8" fill="#f00"/>
<line x1="850.8" y1="729.3" x2="912" y2="721" stroke="#000" stroke-width="1.3"/>
<line x1="883" y1="772.5" x2="915.7" y2="773.3" stroke="#000" stroke-width="1.3"/>
<line x1="859.9" y1="789.2" x2="902.6" y2="819.1" stroke="#000" stroke-width="1.3"/>
<text transform="translate(923.0,727.3)" font-size="29.5" text-anchor="start" fill="#000" font-weight="normal" >ITO</text>
<text transform="translate(921.5,781.7)" font-size="29.5" text-anchor="start" fill="#000" font-weight="normal" >ETL</text>
<text transform="translate(915.0,832.1)" font-size="29.5" text-anchor="start" fill="#000" font-weight="normal" >OIHP</text>
<text transform="translate(721.0,865.3)" font-size="33.2" text-anchor="middle" fill="#000" font-weight="bold" >Compressive strain</text>
<polygon points="1012,739 1065,739 1065,727.7 1107.2,748.8 1065,770.6 1065,760 1012,760" fill="url(#orArrow)" filter="url(#shadow)"/>
<path d="M1159.1,774.8 C1164.3,768.8 1178.4,750.3 1190.3,738.6 C1202.2,726.9 1218.2,713.6 1230.6,704.8 C1243.0,695.9 1253.1,690.7 1264.8,685.6 C1276.6,680.6 1289.0,677.0 1301.0,674.4 C1313.1,671.7 1324.5,670.1 1337.3,669.9 C1350.0,669.8 1364.1,670.4 1377.5,673.4 C1391.0,676.3 1405.1,681.2 1417.8,687.4 C1430.6,693.7 1442.6,701.7 1454.0,710.6 C1465.4,719.5 1477.2,731.7 1486.3,740.8 C1495.3,749.8 1502.7,758.8 1508.4,764.9 C1514.1,771.1 1518.5,775.7 1520.5,777.8 L1511.8,787.3 C1506.9,784.2 1493.9,775.9 1482.2,768.8 C1470.6,761.7 1455.4,751.5 1442.0,744.6 C1428.5,737.7 1414.1,731.9 1401.7,727.5 C1389.3,723.1 1377.9,720.7 1367.5,718.4 C1357.1,716.2 1348.7,714.4 1339.3,714.0 C1329.9,713.7 1320.8,715.2 1311.1,716.4 C1301.4,717.7 1292.7,718.1 1280.9,721.5 C1269.2,724.8 1254.1,730.0 1240.7,736.6 C1227.2,743.1 1212.3,753.0 1200.4,760.7 C1188.5,768.4 1174.4,779.2 1169.2,782.9 Z" fill="url(#cyTop)"/>
<path d="M1165.2,779.2 C1171.0,774.5 1187.8,759.4 1200.4,750.7 C1213.0,741.9 1227.2,733.0 1240.7,726.5 C1254.1,720.0 1269.2,714.8 1280.9,711.4 C1292.7,708.0 1301.4,707.6 1311.1,706.4 C1320.8,705.1 1329.9,703.6 1339.3,704.0 C1348.7,704.3 1357.1,706.1 1367.5,708.4 C1377.9,710.6 1389.3,713.1 1401.7,717.4 C1414.1,721.8 1428.5,727.5 1442.0,734.5 C1455.4,741.6 1469.8,751.7 1482.2,759.7 C1494.6,767.8 1510.7,779.0 1516.4,782.9 L1511.8,787.3 C1506.9,784.2 1493.9,775.9 1482.2,768.8 C1470.6,761.7 1455.4,751.5 1442.0,744.6 C1428.5,737.7 1414.1,731.9 1401.7,727.5 C1389.3,723.1 1377.9,720.7 1367.5,718.4 C1357.1,716.2 1348.7,714.4 1339.3,714.0 C1329.9,713.7 1320.8,715.2 1311.1,716.4 C1301.4,717.7 1292.7,718.1 1280.9,721.5 C1269.2,724.8 1254.1,730.0 1240.7,736.6 C1227.2,743.1 1212.3,753.0 1200.4,760.7 C1188.5,768.4 1174.4,779.2 1169.2,782.9 Z" fill="url(#cyFront)"/>
<path d="M1171.2,785.6 C1176.3,782.0 1190.4,771.2 1202.2,763.6 C1214.1,755.9 1228.9,746.1 1242.1,739.6 C1255.4,733.1 1270.3,728.0 1281.9,724.7 C1293.4,721.4 1302.0,721.0 1311.5,719.8 C1321.1,718.6 1330.0,717.1 1339.2,717.4 C1348.4,717.7 1356.5,719.6 1366.8,721.8 C1377.0,724.0 1388.3,726.4 1400.6,730.7 C1412.8,735.0 1427.1,740.8 1440.4,747.6 C1453.7,754.5 1468.9,764.6 1480.5,771.7 C1492.1,778.8 1505.1,787.1 1510.0,790.2 L1480.2,815.1 L1454.0,793.3 L1421.8,775.2 L1392.6,764.7 L1392.6,763.9 L1361.4,768.8 L1341.3,769.2 L1321.2,768.4 L1289.0,763.1 L1289.0,764.3 L1252.7,777.2 L1226.6,790.9 L1201.4,812.7 Z" fill="#8c2403"/>
<path d="M1181.7,778.2 L1200.0,794.6 L1209.1,806.0 M1201.3,764.3 L1208.8,775.0 L1222.6,794.3 M1219.4,753.3 L1225.4,765.9 L1235.5,786.3 M1208.8,775.0 L1225.4,765.9 M1237.4,742.4 L1239.7,755.6 L1247.9,779.7 M1225.4,765.9 L1239.7,755.6 M1262.7,731.9 L1265.9,747.9 L1266.9,772.2 M1239.7,755.6 L1265.9,747.9 M1280.0,725.4 L1280.9,740.5 L1277.4,768.5 M1265.9,747.9 L1280.9,740.5 M1296.7,722.3 L1292.7,747.8 L1291.9,764.1" fill="none" stroke="#6a1802" stroke-width="0.9" stroke-opacity="0.6"/>
<path d="M1381.7,725.7 L1386.3,745.2 L1393.5,765.0 M1393.3,728.8 L1398.3,747.9 L1401.0,767.7 M1386.3,745.2 L1398.3,747.9 M1424.3,740.8 L1424.1,761.2 L1421.9,775.3 M1398.3,747.9 L1424.1,761.2 M1442.3,748.8 L1439.7,762.6 L1435.3,782.8 M1458.7,758.6 L1454.1,775.8 L1447.4,789.6 M1439.7,762.6 L1454.1,775.8 M1476.2,769.1 L1465.9,786.0 L1459.3,797.7 M1454.1,775.8 L1465.9,786.0 M1496.8,781.9 L1488.3,793.5 L1472.1,808.3" fill="none" stroke="#6a1802" stroke-width="0.9" stroke-opacity="0.6"/>
<polyline points="1280.9,740.6 1311.1,752.7 1327.2,750.7 1341.3,755.7 1361.4,749.6 1391.6,744.6" fill="none" stroke="#6a1802" stroke-width="0.8" stroke-opacity="0.7"/>
<path d="M1169.2,782.9 C1174.4,779.2 1188.5,768.4 1200.4,760.7 C1212.3,753.0 1227.2,743.1 1240.7,736.6 C1254.1,730.0 1269.2,724.8 1280.9,721.5 C1292.7,718.1 1301.4,717.7 1311.1,716.4 C1320.8,715.2 1329.9,713.7 1339.3,714.0 C1348.7,714.4 1357.1,716.2 1367.5,718.4 C1377.9,720.7 1389.3,723.1 1401.7,727.5 C1414.1,731.9 1428.5,737.7 1442.0,744.6 C1455.4,751.5 1470.6,761.7 1482.2,768.8 C1493.9,775.9 1506.9,784.2 1511.8,787.3 L1510.0,790.2 C1505.1,787.1 1492.1,778.8 1480.5,771.7 C1468.9,764.6 1453.7,754.5 1440.4,747.6 C1427.1,740.8 1412.8,735.0 1400.6,730.7 C1388.3,726.4 1377.0,724.0 1366.8,721.8 C1356.5,719.6 1348.4,717.7 1339.2,717.4 C1330.0,717.1 1321.1,718.6 1311.5,719.8 C1302.0,721.0 1293.4,721.4 1281.9,724.7 C1270.3,728.0 1255.4,733.1 1242.1,739.6 C1228.9,746.1 1214.1,755.9 1202.2,763.6 C1190.4,771.2 1176.3,782.0 1171.2,785.6 Z" fill="#fbf04a"/>
<path d="M1288.6,725.3 Q1338.3,718.4 1389.2,725.3 Q1338.3,730.1 1288.6,725.3 Z" fill="#0c0000"/>
<path d="M1281.2,723.0 C1286.2,722.2 1301.6,719.3 1311.3,718.0 C1321.0,716.8 1329.9,715.3 1339.2,715.6 C1348.5,715.9 1356.8,717.8 1367.1,720.0 C1377.5,722.2 1395.6,727.5 1401.3,729.1" fill="none" stroke="#fbf04a" stroke-width="3.2"/>
<rect x="1277.5" y="706.8" width="115.1" height="31.2" fill="none" stroke="#f00" stroke-width="1.4" stroke-dasharray="5,3"/>
<line x1="1360.8" y1="702.7" x2="1274.7" y2="636.9" stroke="#000" stroke-width="2.6"/>
<polygon points="1268.7,632.3 1284.2,635.9 1276.2,646.9" fill="#000"/>
<text transform="translate(1105.3,620.5)" font-size="38.5" text-anchor="start" fill="#000" font-weight="normal" >delamination</text>
<text transform="translate(1325.8,865.2) scale(0.94,1)" font-size="31.6" text-anchor="middle" fill="#000" font-weight="bold" >SnO<tspan font-size="21" dy="7">2</tspan><tspan dy="-7">/OIHP</tspan></text>
<path d="M1624.8,778.2 C1630.7,770.7 1647.5,746.2 1660.0,733.4 C1672.6,720.6 1686.7,710.2 1700.1,701.4 C1713.4,692.6 1726.7,685.9 1740.1,680.6 C1753.4,675.3 1767.2,671.9 1780.1,669.6 C1793.0,667.4 1805.0,666.3 1817.4,667.0 C1829.9,667.6 1841.9,669.9 1854.8,673.6 C1867.7,677.4 1881.9,682.8 1894.8,689.6 C1907.7,696.5 1920.6,705.4 1932.1,715.0 C1943.7,724.5 1955.0,737.7 1964.1,747.0 C1973.3,756.3 1983.2,766.8 1987.1,770.7 L1978.0,779.3 C1971.7,775.6 1953.1,764.4 1940.1,757.4 C1927.1,750.4 1913.4,743.2 1900.1,737.4 C1886.8,731.6 1872.5,726.5 1860.1,722.7 C1847.6,718.9 1836.5,715.8 1825.4,714.7 C1814.3,713.6 1805.4,714.7 1793.4,716.1 C1781.4,717.4 1766.7,719.4 1753.4,722.7 C1740.1,726.1 1727.2,730.7 1713.4,736.1 C1699.6,741.4 1683.8,746.4 1670.7,754.7 C1657.6,763.1 1640.7,781.0 1634.7,786.2 Z" fill="url(#cyTop)"/>
<path d="M1630.7,782.7 C1637.4,776.5 1656.9,755.2 1670.7,745.4 C1684.5,735.6 1699.6,729.8 1713.4,724.1 C1727.2,718.3 1740.1,714.1 1753.4,710.7 C1766.7,707.4 1781.4,705.3 1793.4,704.0 C1805.4,702.8 1814.3,701.9 1825.4,703.0 C1836.5,704.1 1847.6,707.0 1860.1,710.7 C1872.5,714.5 1886.8,719.6 1900.1,725.4 C1913.4,731.2 1926.3,737.0 1940.1,745.4 C1953.9,753.8 1975.7,770.5 1982.8,775.5 L1978.0,779.3 C1971.7,775.6 1953.1,764.4 1940.1,757.4 C1927.1,750.4 1913.4,743.2 1900.1,737.4 C1886.8,731.6 1872.5,726.5 1860.1,722.7 C1847.6,718.9 1836.5,715.8 1825.4,714.7 C1814.3,713.6 1805.4,714.7 1793.4,716.1 C1781.4,717.4 1766.7,719.4 1753.4,722.7 C1740.1,726.1 1727.2,730.7 1713.4,736.1 C1699.6,741.4 1683.8,746.4 1670.7,754.7 C1657.6,763.1 1640.7,781.0 1634.7,786.2 Z" fill="url(#cyFront)"/>
<path d="M1637.0,788.8 C1642.9,783.6 1659.7,765.9 1672.6,757.7 C1685.5,749.4 1701.0,744.6 1714.7,739.3 C1728.3,734.1 1741.1,729.4 1754.2,726.1 C1767.4,722.8 1782.0,720.9 1793.8,719.5 C1805.6,718.2 1814.2,717.1 1825.1,718.2 C1836.0,719.3 1846.8,722.3 1859.1,726.1 C1871.4,729.8 1885.5,734.9 1898.7,740.6 C1911.9,746.3 1925.5,753.5 1938.5,760.5 C1951.4,767.4 1969.9,778.7 1976.2,782.3 L1947.3,807.5 C1943.9,805.0 1934.6,797.3 1926.8,792.1 C1918.9,786.8 1911.2,781.2 1900.1,776.1 C1889.0,771.0 1873.4,764.7 1860.1,761.4 C1846.8,758.1 1833.4,756.7 1820.1,756.1 C1806.7,755.4 1793.4,755.4 1780.1,757.4 C1766.7,759.4 1753.4,763.2 1740.1,768.1 C1726.7,773.0 1712.3,779.2 1700.1,786.7 C1687.8,794.3 1672.3,809.0 1666.7,813.4 Z" fill="#8c2403"/>
<path d="M1643.7,783.0 L1656.4,793.4 L1671.5,809.5 M1653.8,774.1 L1668.7,791.3 L1681.2,801.8 M1673.0,757.5 L1683.9,773.2 L1694.3,791.3 M1691.1,749.6 L1696.8,763.4 L1709.2,782.5 M1710.2,741.3 L1720.3,760.0 L1728.5,773.5 M1719.0,737.9 L1727.9,756.4 L1733.1,771.3 M1720.3,760.0 L1727.9,756.4 M1736.4,732.1 L1739.8,746.2 L1747.1,766.2 M1755.3,725.9 L1761.2,747.1 L1768.5,760.5 M1739.8,746.2 L1761.2,747.1 M1776.8,722.4 L1779.6,739.3 L1778.3,757.9 M1761.2,747.1 L1779.6,739.3 M1796.3,719.4 L1797.9,739.0 L1795.5,756.9 M1779.6,739.3 L1797.9,739.0 M1808.3,718.9 L1804.3,738.2 L1805.2,756.6 M1797.9,739.0 L1804.3,738.2 M1832.1,719.8 L1831.9,737.9 L1832.7,757.7 M1845.9,723.0 L1844.5,737.4 L1841.1,758.9 M1863.4,727.6 L1857.6,745.3 L1855.8,760.8 M1844.5,737.4 L1857.6,745.3 M1890.7,737.6 L1888.5,750.0 L1882.5,769.6 M1900.1,741.3 L1894.7,752.2 L1887.1,771.3 M1920.2,751.4 L1913.9,761.9 L1905.5,779.3 M1936.8,759.6 L1929.5,771.9 L1916.1,785.7 M1947.5,765.7 L1938.2,777.8 L1927.5,792.6 M1929.5,771.9 L1938.2,777.8 M1967.7,777.3 L1957.7,786.5 L1939.5,801.6 M1938.2,777.8 L1957.7,786.5" fill="none" stroke="#6a1802" stroke-width="0.9" stroke-opacity="0.6"/>
<path d="M1634.7,786.2 C1640.7,781.0 1657.6,763.1 1670.7,754.7 C1683.8,746.4 1699.6,741.4 1713.4,736.1 C1727.2,730.7 1740.1,726.1 1753.4,722.7 C1766.7,719.4 1781.4,717.4 1793.4,716.1 C1805.4,714.7 1814.3,713.6 1825.4,714.7 C1836.5,715.8 1847.6,718.9 1860.1,722.7 C1872.5,726.5 1886.8,731.6 1900.1,737.4 C1913.4,743.2 1927.1,750.4 1940.1,757.4 C1953.1,764.4 1971.7,775.6 1978.0,779.3 L1976.2,782.3 C1969.9,778.7 1951.4,767.4 1938.5,760.5 C1925.5,753.5 1911.9,746.3 1898.7,740.6 C1885.5,734.9 1871.4,729.8 1859.1,726.1 C1846.8,722.3 1836.0,719.3 1825.1,718.2 C1814.2,717.1 1805.6,718.2 1793.8,719.5 C1782.0,720.9 1767.4,722.8 1754.2,726.1 C1741.1,729.4 1728.3,734.1 1714.7,739.3 C1701.0,744.6 1685.5,749.4 1672.6,757.7 C1659.7,765.9 1642.9,783.6 1637.0,788.8 Z" fill="#fbf04a"/>
<rect x="1780.1" y="691.2" width="64.8" height="42.1" fill="none" stroke="#f00" stroke-width="1.4" stroke-dasharray="5,3"/>
<line x1="1780.1" y1="685.4" x2="1820.1" y2="638.7" stroke="#f00" stroke-width="1.4" stroke-dasharray="5,3"/>
<line x1="1844.9" y1="693.9" x2="1958.8" y2="654.7" stroke="#f00" stroke-width="1.4" stroke-dasharray="5,3"/>
<rect x="1832.6" y="531.2" width="127.5" height="68.8" fill="url(#insBrown)"/>
<rect x="1832.6" y="600.0" width="127.5" height="18.1" fill="#9fc0ea"/>
<rect x="1832.6" y="618.2" width="127.5" height="24.5" fill="#cfcdcd"/>
<clipPath id="insClip"><rect x="1832.6" y="531.2" width="127.5" height="111.5"/></clipPath>
<g clip-path="url(#insClip)">
<circle cx="1842.8" cy="580.0" r="8.3" fill="#bdbdbd" stroke="#8f8f8f" stroke-width="0.6"/>
<circle cx="1864.9" cy="582.1" r="8.3" fill="#bdbdbd" stroke="#8f8f8f" stroke-width="0.6"/>
<circle cx="1852.6" cy="594.2" r="8.3" fill="#bdbdbd" stroke="#8f8f8f" stroke-width="0.6"/>
<circle cx="1881.4" cy="593.9" r="8.3" fill="#bdbdbd" stroke="#8f8f8f" stroke-width="0.6"/>
<circle cx="1891.3" cy="580.0" r="8.3" fill="#bdbdbd" stroke="#8f8f8f" stroke-width="0.6"/>
<circle cx="1910.2" cy="580.0" r="8.3" fill="#bdbdbd" stroke="#8f8f8f" stroke-width="0.6"/>
<circle cx="1918.0" cy="592.6" r="8.3" fill="#bdbdbd" stroke="#8f8f8f" stroke-width="0.6"/>
<circle cx="1937.4" cy="583.2" r="8.3" fill="#bdbdbd" stroke="#8f8f8f" stroke-width="0.6"/>
<circle cx="1951.6" cy="592.0" r="8.3" fill="#bdbdbd" stroke="#8f8f8f" stroke-width="0.6"/>
<circle cx="1842.0" cy="609.6" r="8.6" fill="#bfbfbf" stroke="#8f8f8f" stroke-width="0.6"/>
<circle cx="1860.1" cy="609.6" r="8.6" fill="#bfbfbf" stroke="#8f8f8f" stroke-width="0.6"/>
<circle cx="1878.2" cy="609.6" r="8.6" fill="#bfbfbf" stroke="#8f8f8f" stroke-width="0.6"/>
<circle cx="1896.4" cy="609.6" r="8.6" fill="#bfbfbf" stroke="#8f8f8f" stroke-width="0.6"/>
<circle cx="1914.5" cy="609.6" r="8.6" fill="#bfbfbf" stroke="#8f8f8f" stroke-width="0.6"/>
<circle cx="1932.6" cy="609.6" r="8.6" fill="#bfbfbf" stroke="#8f8f8f" stroke-width="0.6"/>
<circle cx="1950.8" cy="609.6" r="8.6" fill="#bfbfbf" stroke="#8f8f8f" stroke-width="0.6"/>
</g>
<line x1="1832.6" y1="600.0" x2="1960.1" y2="600.0" stroke="#222" stroke-width="1"/>
<line x1="1832.6" y1="618.2" x2="1960.1" y2="618.2" stroke="#000" stroke-width="1.6"/>
<rect x="1832.6" y="531.2" width="127.5" height="111.5" fill="none" stroke="#222" stroke-width="1"/>
<text transform="translate(1895.8,638.7) scale(0.95,1)" font-size="21" text-anchor="middle" fill="#000" font-weight="normal" >ITO</text>
<text transform="translate(1788.0,866.0) scale(0.94,1)" font-size="31.6" text-anchor="middle" fill="#000" font-weight="bold" >FI-SnO<tspan font-size="21" dy="7">2</tspan><tspan dy="-7">/OIHP</tspan></text>
</g>
<g id="panel_d">
<clipPath id="clip_d1"><rect x="72.4" y="924.2" width="852.1" height="171.4"/></clipPath>
<g clip-path="url(#clip_d1)">
<polygon points="70.4,919.2 76.4,919.2 82.4,919.2 88.4,919.2 94.4,919.2 100.4,919.2 106.4,919.2 112.4,919.2 118.4,919.2 124.4,919.2 130.4,919.2 136.4,919.2 142.4,919.2 148.4,919.2 154.4,919.2 160.4,919.2 166.4,919.2 172.4,919.2 178.4,919.2 184.4,919.2 190.4,919.2 196.4,919.2 202.4,919.2 208.4,919.2 214.4,919.2 220.4,919.2 226.4,919.2 232.4,919.2 238.4,919.2 244.4,919.2 250.4,919.2 256.4,919.2 262.4,919.2 268.4,919.2 274.4,919.2 280.4,919.2 286.4,919.2 292.4,919.2 298.4,919.2 304.4,919.2 310.4,919.2 316.4,919.2 322.4,919.2 328.4,919.2 334.4,919.2 340.4,919.2 346.4,919.2 352.4,919.2 358.4,919.2 364.4,919.2 370.4,919.2 376.4,919.2 382.4,919.2 388.4,919.2 394.4,919.2 400.4,919.2 406.4,919.2 412.4,919.2 418.4,919.2 424.4,919.2 430.4,919.2 436.4,919.2 442.4,919.2 448.4,919.2 454.4,919.2 460.4,919.2 466.4,919.2 472.4,919.2 478.4,919.2 484.4,919.2 490.4,919.2 496.4,919.2 502.4,919.2 508.4,919.2 514.4,919.2 520.4,919.2 526.4,919.2 532.4,919.2 538.4,919.2 544.4,919.2 550.4,919.2 556.4,919.2 562.4,919.2 568.4,919.2 574.4,919.2 580.4,919.2 586.4,919.2 592.4,919.2 598.4,919.2 604.4,919.2 610.4,919.2 616.4,919.2 622.4,919.2 628.4,919.2 634.4,919.2 640.4,919.2 646.4,919.2 652.4,919.2 658.4,919.2 664.4,919.2 670.4,919.2 676.4,919.2 682.4,919.2 688.4,919.2 694.4,919.2 700.4,919.2 706.4,919.2 712.4,919.2 718.4,919.2 724.4,919.2 730.4,919.2 736.4,919.2 742.4,919.2 748.4,919.2 754.4,919.2 760.4,919.2 766.4,919.2 772.4,919.2 778.4,919.2 784.4,919.2 790.4,919.2 796.4,919.2 802.4,919.2 808.4,919.2 814.4,919.2 820.4,919.2 826.4,919.2 832.4,919.2 838.4,919.2 844.4,919.2 850.4,919.2 856.4,919.2 862.4,919.2 868.4,919.2 874.4,919.2 880.4,919.2 886.4,919.2 892.4,919.2 898.4,919.2 904.4,919.2 910.4,919.2 916.4,919.2 922.4,919.2 926.5,919.2 926.5,1097.6 70.4,1097.6" fill="url(#d1top)"/>
<polygon points="70.4,965.6 75.4,965.8 80.4,966.4 85.4,967.2 90.4,969.1 95.4,970.1 100.4,967.9 105.4,967.1 110.4,968.5 115.4,968.6 120.4,967.1 125.4,967.9 130.4,966.9 135.4,966.6 140.4,966.1 145.4,966.7 150.4,969.4 155.4,969.3 160.4,968.9 165.4,971.0 170.4,969.7 175.4,969.1 180.4,968.8 185.4,969.2 190.4,968.8 195.4,970.2 200.4,969.5 205.4,969.9 210.4,969.8 215.4,968.8 220.4,968.2 225.4,968.7 230.4,966.9 235.4,968.0 240.4,968.8 245.4,969.3 250.4,969.4 255.4,970.0 260.4,969.7 265.4,970.4 270.4,968.8 275.4,970.2 280.4,969.5 285.4,970.3 290.4,969.9 295.4,969.8 300.4,969.4 305.4,971.1 310.4,970.0 315.4,969.3 320.4,970.1 325.4,970.7 330.4,970.9 335.4,970.1 340.4,970.0 345.4,971.3 350.4,970.4 355.4,971.4 360.4,972.1 365.4,972.0 370.4,970.8 375.4,972.9 380.4,972.6 385.4,972.5 390.4,971.9 395.4,971.1 400.4,971.3 405.4,971.8 410.4,971.3 415.4,971.8 420.4,973.1 425.4,973.2 430.4,972.9 435.4,973.7 440.4,974.2 445.4,974.4 450.4,973.1 455.4,971.4 460.4,972.8 465.4,973.0 470.4,972.7 475.4,973.4 480.4,973.0 485.4,972.6 490.4,974.6 495.4,972.7 500.4,973.9 505.4,974.7 510.4,975.9 515.4,975.3 520.4,975.2 525.4,973.9 530.4,974.0 535.4,972.2 540.4,972.5 545.4,973.2 550.4,973.6 555.4,973.5 560.4,975.0 565.4,973.4 570.4,974.1 575.4,974.0 580.4,974.4 585.4,974.6 590.4,976.5 595.4,975.0 600.4,976.3 605.4,977.1 610.4,976.3 615.4,975.4 620.4,974.3 625.4,974.0 630.4,976.5 635.4,974.2 640.4,975.3 645.4,974.9 650.4,977.0 655.4,976.9 660.4,975.3 665.4,975.2 670.4,975.8 675.4,976.1 680.4,975.4 685.4,975.5 690.4,975.5 695.4,976.4 700.4,976.8 705.4,977.0 710.4,976.4 715.4,977.3 720.4,976.7 725.4,976.1 730.4,976.1 735.4,976.3 740.4,976.4 745.4,975.1 750.4,977.2 755.4,977.9 760.4,979.0 765.4,978.1 770.4,978.6 775.4,978.5 780.4,978.3 785.4,979.8 790.4,978.5 795.4,978.9 800.4,977.1 805.4,978.1 810.4,978.0 815.4,977.3 820.4,977.2 825.4,975.9 830.4,976.0 835.4,977.3 840.4,975.5 845.4,977.8 850.4,979.2 855.4,978.4 860.4,977.4 865.4,976.8 870.4,976.7 875.4,977.1 880.4,980.0 885.4,978.8 890.4,979.8 895.4,980.8 900.4,979.5 905.4,979.4 910.4,980.2 915.4,979.5 920.4,980.8 925.4,982.5 926.5,980.0 926.5,1097.6 70.4,1097.6" fill="#a7a7a7"/>
<polygon points="70.4,1041.0 76.4,1040.6 82.4,1041.1 88.4,1041.3 94.4,1040.9 100.4,1041.0 106.4,1041.2 112.4,1041.5 118.4,1042.0 124.4,1041.6 130.4,1040.9 136.4,1040.3 142.4,1041.7 148.4,1041.5 154.4,1041.3 160.4,1042.7 166.4,1042.9 172.4,1043.6 178.4,1042.8 184.4,1042.1 190.4,1041.7 196.4,1042.1 202.4,1042.3 208.4,1042.4 214.4,1043.4 220.4,1043.6 226.4,1042.5 232.4,1042.6 238.4,1042.7 244.4,1042.2 250.4,1043.4 256.4,1043.4 262.4,1043.8 268.4,1043.0 274.4,1042.2 280.4,1042.7 286.4,1042.6 292.4,1042.3 298.4,1042.4 304.4,1042.6 310.4,1042.7 316.4,1042.7 322.4,1043.0 328.4,1044.4 334.4,1044.4 340.4,1043.6 346.4,1044.4 352.4,1043.6 358.4,1042.6 364.4,1042.1 370.4,1041.5 376.4,1042.8 382.4,1042.4 388.4,1042.0 394.4,1042.3 400.4,1042.6 406.4,1042.3 412.4,1042.5 418.4,1042.9 424.4,1043.5 430.4,1043.0 436.4,1043.6 442.4,1043.7 448.4,1044.0 454.4,1043.6 460.4,1043.1 466.4,1043.9 472.4,1044.2 478.4,1043.7 484.4,1043.4 490.4,1044.0 496.4,1045.0 502.4,1044.8 508.4,1045.8 514.4,1045.3 520.4,1045.0 526.4,1045.0 532.4,1045.2 538.4,1044.1 544.4,1044.3 550.4,1045.0 556.4,1044.0 562.4,1044.3 568.4,1044.8 574.4,1045.6 580.4,1046.0 586.4,1045.4 592.4,1046.2 598.4,1045.1 604.4,1044.3 610.4,1045.2 616.4,1045.4 622.4,1044.6 628.4,1045.3 634.4,1045.6 640.4,1045.8 646.4,1045.3 652.4,1044.6 658.4,1044.0 664.4,1044.4 670.4,1044.6 676.4,1044.7 682.4,1044.6 688.4,1045.4 694.4,1044.8 700.4,1044.7 706.4,1046.0 712.4,1045.5 718.4,1045.2 724.4,1045.9 730.4,1044.9 736.4,1046.1 742.4,1045.3 748.4,1045.1 754.4,1044.7 760.4,1044.7 766.4,1044.8 772.4,1045.8 778.4,1045.8 784.4,1046.6 790.4,1046.8 796.4,1045.9 802.4,1046.0 808.4,1045.8 814.4,1045.8 820.4,1046.1 826.4,1046.4 832.4,1046.6 838.4,1045.5 844.4,1045.8 850.4,1045.9 856.4,1047.1 862.4,1046.8 868.4,1046.7 874.4,1046.7 880.4,1047.1 886.4,1046.4 892.4,1046.5 898.4,1046.6 904.4,1046.7 910.4,1046.7 916.4,1046.5 922.4,1046.8 926.5,1047.0 926.5,1097.6 70.4,1097.6" fill="#b4b4b4" filter="url(#b1)"/>
<polygon points="70.4,1056.0 76.4,1056.9 82.4,1056.8 88.4,1056.0 94.4,1056.1 100.4,1056.7 106.4,1056.7 112.4,1056.6 118.4,1055.8 124.4,1056.8 130.4,1056.8 136.4,1056.1 142.4,1056.2 148.4,1057.1 154.4,1057.2 160.4,1056.5 166.4,1056.5 172.4,1056.8 178.4,1057.8 184.4,1057.6 190.4,1057.7 196.4,1057.4 202.4,1057.3 208.4,1056.9 214.4,1056.5 220.4,1056.3 226.4,1056.5 232.4,1057.4 238.4,1057.4 244.4,1057.9 250.4,1058.0 256.4,1057.9 262.4,1057.6 268.4,1058.4 274.4,1058.6 280.4,1058.7 286.4,1059.3 292.4,1059.3 298.4,1058.7 304.4,1058.5 310.4,1058.5 316.4,1059.1 322.4,1058.2 328.4,1057.3 334.4,1057.4 340.4,1057.6 346.4,1057.5 352.4,1058.1 358.4,1058.3 364.4,1058.2 370.4,1058.2 376.4,1059.0 382.4,1059.5 388.4,1059.7 394.4,1058.9 400.4,1059.2 406.4,1058.4 412.4,1057.6 418.4,1058.6 424.4,1058.9 430.4,1059.0 436.4,1059.4 442.4,1059.7 448.4,1059.3 454.4,1059.1 460.4,1059.2 466.4,1059.3 472.4,1059.1 478.4,1058.4 484.4,1059.5 490.4,1058.9 496.4,1058.6 502.4,1059.0 508.4,1058.9 514.4,1059.1 520.4,1060.0 526.4,1060.2 532.4,1059.5 538.4,1059.4 544.4,1059.3 550.4,1059.7 556.4,1059.1 562.4,1058.7 568.4,1058.2 574.4,1058.8 580.4,1059.2 586.4,1059.5 592.4,1059.8 598.4,1059.1 604.4,1059.1 610.4,1058.8 616.4,1059.5 622.4,1059.9 628.4,1059.1 634.4,1059.5 640.4,1059.6 646.4,1059.6 652.4,1059.9 658.4,1059.6 664.4,1059.5 670.4,1059.3 676.4,1059.2 682.4,1059.0 688.4,1059.8 694.4,1060.1 700.4,1059.9 706.4,1059.2 712.4,1060.4 718.4,1060.3 724.4,1060.2 730.4,1060.4 736.4,1061.0 742.4,1060.5 748.4,1059.4 754.4,1059.6 760.4,1059.8 766.4,1059.8 772.4,1060.5 778.4,1060.3 784.4,1060.4 790.4,1060.1 796.4,1060.5 802.4,1060.2 808.4,1060.6 814.4,1060.6 820.4,1060.6 826.4,1060.7 832.4,1060.0 838.4,1060.1 844.4,1060.4 850.4,1060.3 856.4,1061.0 862.4,1061.2 868.4,1060.8 874.4,1061.2 880.4,1061.0 886.4,1061.2 892.4,1061.5 898.4,1060.8 904.4,1060.6 910.4,1060.7 916.4,1060.7 922.4,1060.2 926.5,1061.0 926.5,1097.6 70.4,1097.6" fill="#868686" filter="url(#b1)"/>
<polygon points="70.4,1062.3 76.4,1062.3 82.4,1062.3 88.4,1062.4 94.4,1062.6 100.4,1062.1 106.4,1062.3 112.4,1062.2 118.4,1062.0 124.4,1061.8 130.4,1062.6 136.4,1061.5 142.4,1061.6 148.4,1062.3 154.4,1062.3 160.4,1062.1 166.4,1062.8 172.4,1062.3 178.4,1062.4 184.4,1062.7 190.4,1062.5 196.4,1062.4 202.4,1062.6 208.4,1063.1 214.4,1062.7 220.4,1063.0 226.4,1063.0 232.4,1062.8 238.4,1062.4 244.4,1063.4 250.4,1063.5 256.4,1063.5 262.4,1063.2 268.4,1063.9 274.4,1063.4 280.4,1062.9 286.4,1062.8 292.4,1063.0 298.4,1063.3 304.4,1062.5 310.4,1063.0 316.4,1063.3 322.4,1063.8 328.4,1063.6 334.4,1064.2 340.4,1064.8 346.4,1064.1 352.4,1063.9 358.4,1064.2 364.4,1064.5 370.4,1064.2 376.4,1064.6 382.4,1063.7 388.4,1064.1 394.4,1064.3 400.4,1064.5 406.4,1064.5 412.4,1064.6 418.4,1064.2 424.4,1064.7 430.4,1063.7 436.4,1064.0 442.4,1063.8 448.4,1064.8 454.4,1064.2 460.4,1064.3 466.4,1064.3 472.4,1064.7 478.4,1064.6 484.4,1064.1 490.4,1064.2 496.4,1064.8 502.4,1065.0 508.4,1064.6 514.4,1064.1 520.4,1063.8 526.4,1064.2 532.4,1064.3 538.4,1064.4 544.4,1064.4 550.4,1064.6 556.4,1065.3 562.4,1065.6 568.4,1065.2 574.4,1065.4 580.4,1065.2 586.4,1065.7 592.4,1065.9 598.4,1066.0 604.4,1066.5 610.4,1066.4 616.4,1066.3 622.4,1066.5 628.4,1065.6 634.4,1065.4 640.4,1065.3 646.4,1065.7 652.4,1065.6 658.4,1065.1 664.4,1065.0 670.4,1065.1 676.4,1065.1 682.4,1065.2 688.4,1064.8 694.4,1065.2 700.4,1064.9 706.4,1065.1 712.4,1065.1 718.4,1065.3 724.4,1066.1 730.4,1065.9 736.4,1065.8 742.4,1064.9 748.4,1065.0 754.4,1065.5 760.4,1065.6 766.4,1066.2 772.4,1066.0 778.4,1066.4 784.4,1066.5 790.4,1066.8 796.4,1066.5 802.4,1066.8 808.4,1066.5 814.4,1066.1 820.4,1066.7 826.4,1066.1 832.4,1065.9 838.4,1066.8 844.4,1066.8 850.4,1066.9 856.4,1066.9 862.4,1066.8 868.4,1067.6 874.4,1067.3 880.4,1067.7 886.4,1067.3 892.4,1066.9 898.4,1066.8 904.4,1066.9 910.4,1067.9 916.4,1067.3 922.4,1067.4 926.5,1067.0 926.5,1097.6 70.4,1097.6" fill="#959595" filter="url(#b2)"/>
<polygon points="70.4,1068.4 76.4,1068.9 82.4,1068.9 88.4,1069.2 94.4,1069.2 100.4,1069.1 106.4,1069.2 112.4,1069.2 118.4,1069.7 124.4,1069.6 130.4,1069.5 136.4,1068.9 142.4,1069.5 148.4,1069.5 154.4,1069.1 160.4,1069.8 166.4,1070.1 172.4,1069.9 178.4,1069.9 184.4,1069.3 190.4,1068.5 196.4,1069.1 202.4,1068.8 208.4,1069.5 214.4,1069.5 220.4,1069.8 226.4,1069.6 232.4,1070.0 238.4,1070.3 244.4,1070.3 250.4,1070.5 256.4,1070.7 262.4,1070.4 268.4,1069.7 274.4,1070.2 280.4,1070.0 286.4,1069.7 292.4,1069.2 298.4,1069.0 304.4,1070.1 310.4,1071.0 316.4,1071.3 322.4,1071.8 328.4,1070.6 334.4,1070.9 340.4,1070.2 346.4,1069.8 352.4,1070.4 358.4,1070.9 364.4,1070.5 370.4,1070.0 376.4,1069.7 382.4,1070.1 388.4,1070.8 394.4,1071.6 400.4,1071.6 406.4,1070.9 412.4,1070.5 418.4,1070.8 424.4,1071.2 430.4,1070.4 436.4,1070.8 442.4,1070.7 448.4,1071.3 454.4,1070.6 460.4,1071.3 466.4,1071.9 472.4,1072.3 478.4,1072.5 484.4,1072.2 490.4,1071.9 496.4,1071.3 502.4,1071.4 508.4,1071.2 514.4,1071.6 520.4,1071.9 526.4,1071.8 532.4,1072.4 538.4,1071.6 544.4,1071.5 550.4,1072.3 556.4,1072.0 562.4,1072.3 568.4,1071.1 574.4,1072.1 580.4,1071.8 586.4,1071.6 592.4,1072.2 598.4,1072.2 604.4,1071.5 610.4,1072.3 616.4,1071.9 622.4,1071.9 628.4,1071.8 634.4,1071.8 640.4,1071.9 646.4,1071.9 652.4,1071.9 658.4,1073.2 664.4,1073.0 670.4,1073.1 676.4,1072.6 682.4,1073.3 688.4,1073.3 694.4,1073.1 700.4,1072.7 706.4,1073.0 712.4,1072.3 718.4,1072.2 724.4,1072.3 730.4,1072.7 736.4,1072.8 742.4,1072.3 748.4,1072.8 754.4,1072.7 760.4,1072.6 766.4,1072.9 772.4,1072.9 778.4,1072.8 784.4,1072.8 790.4,1073.2 796.4,1073.3 802.4,1073.4 808.4,1073.1 814.4,1073.7 820.4,1073.6 826.4,1073.3 832.4,1073.8 838.4,1073.1 844.4,1073.0 850.4,1073.6 856.4,1073.4 862.4,1073.4 868.4,1073.4 874.4,1073.5 880.4,1073.8 886.4,1074.0 892.4,1073.7 898.4,1073.6 904.4,1072.9 910.4,1073.1 916.4,1073.7 922.4,1073.8 926.5,1074.0 926.5,1097.6 70.4,1097.6" fill="#a6a6a6" filter="url(#b2)"/>
<polygon points="70.4,1076.5 77.4,1075.9 84.4,1076.0 91.4,1076.7 98.4,1075.3 105.4,1076.7 112.4,1075.1 119.4,1075.1 126.4,1073.8 133.4,1074.4 140.4,1074.1 147.4,1075.7 154.4,1074.1 161.4,1075.3 168.4,1076.0 175.4,1076.6 182.4,1077.3 189.4,1077.6 196.4,1076.3 203.4,1076.9 210.4,1076.0 217.4,1075.6 224.4,1075.7 231.4,1075.6 238.4,1075.5 245.4,1076.9 252.4,1076.9 259.4,1075.1 266.4,1075.1 273.4,1075.3 280.4,1078.0 287.4,1077.8 294.4,1077.0 301.4,1077.4 308.4,1075.2 315.4,1077.3 322.4,1076.9 329.4,1076.2 336.4,1077.3 343.4,1076.6 350.4,1075.9 357.4,1077.2 364.4,1079.0 371.4,1078.1 378.4,1077.8 385.4,1077.6 392.4,1077.9 399.4,1077.5 406.4,1077.7 413.4,1077.0 420.4,1077.2 427.4,1078.2 434.4,1076.7 441.4,1077.8 448.4,1079.4 455.4,1078.2 462.4,1077.8 469.4,1078.0 476.4,1078.0 483.4,1077.1 490.4,1078.3 497.4,1078.9 504.4,1079.5 511.4,1079.7 518.4,1078.7 525.4,1078.4 532.4,1077.9 539.4,1080.5 546.4,1079.4 553.4,1079.9 560.4,1080.7 567.4,1079.8 574.4,1079.6 581.4,1079.7 588.4,1080.8 595.4,1079.0 602.4,1079.2 609.4,1079.5 616.4,1079.7 623.4,1078.8 630.4,1079.7 637.4,1079.9 644.4,1078.8 651.4,1078.1 658.4,1080.3 665.4,1079.4 672.4,1078.0 679.4,1079.0 686.4,1078.2 693.4,1078.7 700.4,1079.5 707.4,1078.8 714.4,1077.9 721.4,1080.3 728.4,1078.9 735.4,1078.2 742.4,1078.9 749.4,1079.7 756.4,1079.7 763.4,1079.0 770.4,1080.2 777.4,1079.2 784.4,1078.8 791.4,1080.0 798.4,1081.0 805.4,1081.1 812.4,1081.6 819.4,1081.4 826.4,1081.7 833.4,1080.6 840.4,1079.9 847.4,1080.7 854.4,1081.5 861.4,1080.8 868.4,1080.1 875.4,1080.2 882.4,1081.4 889.4,1081.1 896.4,1080.8 903.4,1080.7 910.4,1080.5 917.4,1081.2 924.4,1080.8 926.5,1081.0 926.5,1097.6 70.4,1097.6" fill="#fbfbfb" filter="url(#b1)"/>
<polygon points="70.4,1082.6 77.4,1082.4 84.4,1081.8 91.4,1082.2 98.4,1082.7 105.4,1081.2 112.4,1082.1 119.4,1082.6 126.4,1082.6 133.4,1081.8 140.4,1081.7 147.4,1082.9 154.4,1082.2 161.4,1083.4 168.4,1083.0 175.4,1083.4 182.4,1080.7 189.4,1082.2 196.4,1082.8 203.4,1081.6 210.4,1083.3 217.4,1082.9 224.4,1082.1 231.4,1083.9 238.4,1085.1 245.4,1085.4 252.4,1085.5 259.4,1085.8 266.4,1083.5 273.4,1083.5 280.4,1084.9 287.4,1085.0 294.4,1084.7 301.4,1084.2 308.4,1083.9 315.4,1083.3 322.4,1083.6 329.4,1081.3 336.4,1083.4 343.4,1083.8 350.4,1081.5 357.4,1082.7 364.4,1083.6 371.4,1083.8 378.4,1084.7 385.4,1085.4 392.4,1085.6 399.4,1083.7 406.4,1082.2 413.4,1082.5 420.4,1084.2 427.4,1082.8 434.4,1083.2 441.4,1083.4 448.4,1083.9 455.4,1082.9 462.4,1084.3 469.4,1084.4 476.4,1085.5 483.4,1085.5 490.4,1085.4 497.4,1086.2 504.4,1087.0 511.4,1086.8 518.4,1085.6 525.4,1085.9 532.4,1086.7 539.4,1086.9 546.4,1087.9 553.4,1088.0 560.4,1086.8 567.4,1088.3 574.4,1087.9 581.4,1087.7 588.4,1087.2 595.4,1085.6 602.4,1084.0 609.4,1085.4 616.4,1086.6 623.4,1087.9 630.4,1086.5 637.4,1086.3 644.4,1085.9 651.4,1086.6 658.4,1085.9 665.4,1085.4 672.4,1084.5 679.4,1085.1 686.4,1086.6 693.4,1085.5 700.4,1085.6 707.4,1087.3 714.4,1086.4 721.4,1084.7 728.4,1084.7 735.4,1086.3 742.4,1086.6 749.4,1085.9 756.4,1085.7 763.4,1087.4 770.4,1086.0 777.4,1087.7 784.4,1087.1 791.4,1087.7 798.4,1086.6 805.4,1086.1 812.4,1088.7 819.4,1088.1 826.4,1086.9 833.4,1087.6 840.4,1087.0 847.4,1086.3 854.4,1086.1 861.4,1086.2 868.4,1088.0 875.4,1086.4 882.4,1087.4 889.4,1086.1 896.4,1087.3 903.4,1087.1 910.4,1088.0 917.4,1087.8 924.4,1088.7 926.5,1088.0 926.5,1097.6 70.4,1097.6" fill="#dadada" filter="url(#b1)"/>
<ellipse cx="442.5" cy="998.3" rx="30.1" ry="13.8" fill="#000" fill-opacity="0.1" filter="url(#b4)"/>
<ellipse cx="540.2" cy="1033.1" rx="18.5" ry="24.9" fill="#fff" fill-opacity="0.1" filter="url(#b4)"/>
<ellipse cx="620.0" cy="994.2" rx="23.7" ry="19.0" fill="#000" fill-opacity="0.1" filter="url(#b4)"/>
<ellipse cx="643.1" cy="991.0" rx="38.0" ry="26.5" fill="#000" fill-opacity="0.1" filter="url(#b4)"/>
<ellipse cx="458.3" cy="1032.4" rx="23.0" ry="32.0" fill="#fff" fill-opacity="0.1" filter="url(#b4)"/>
<ellipse cx="830.8" cy="1049.1" rx="26.6" ry="28.9" fill="#fff" fill-opacity="0.1" filter="url(#b4)"/>
<ellipse cx="885.3" cy="1002.0" rx="39.9" ry="20.3" fill="#000" fill-opacity="0.1" filter="url(#b4)"/>
<ellipse cx="426.3" cy="982.5" rx="19.0" ry="23.9" fill="#fff" fill-opacity="0.1" filter="url(#b4)"/>
<ellipse cx="695.2" cy="1006.8" rx="27.6" ry="15.5" fill="#000" fill-opacity="0.1" filter="url(#b4)"/>
<ellipse cx="748.7" cy="1046.1" rx="35.6" ry="30.7" fill="#fff" fill-opacity="0.1" filter="url(#b4)"/>
<ellipse cx="549.1" cy="1050.0" rx="19.2" ry="12.4" fill="#000" fill-opacity="0.1" filter="url(#b4)"/>
<ellipse cx="770.5" cy="999.0" rx="19.3" ry="11.7" fill="#000" fill-opacity="0.1" filter="url(#b4)"/>
<ellipse cx="404.7" cy="989.6" rx="18.4" ry="35.4" fill="#fff" fill-opacity="0.1" filter="url(#b4)"/>
<ellipse cx="453.3" cy="999.0" rx="37.1" ry="11.2" fill="#000" fill-opacity="0.1" filter="url(#b4)"/>
<ellipse cx="532.8" cy="1000.6" rx="26.8" ry="28.6" fill="#fff" fill-opacity="0.1" filter="url(#b4)"/>
<ellipse cx="638.4" cy="1049.5" rx="29.9" ry="33.6" fill="#000" fill-opacity="0.1" filter="url(#b4)"/>
<ellipse cx="385.0" cy="980.1" rx="39.8" ry="27.1" fill="#fff" fill-opacity="0.1" filter="url(#b4)"/>
<ellipse cx="831.9" cy="1010.0" rx="32.6" ry="25.4" fill="#fff" fill-opacity="0.1" filter="url(#b4)"/>
<ellipse cx="772.4" cy="1036.5" rx="35.2" ry="20.6" fill="#fff" fill-opacity="0.1" filter="url(#b4)"/>
<ellipse cx="628.8" cy="1014.8" rx="26.9" ry="31.2" fill="#000" fill-opacity="0.1" filter="url(#b4)"/>
<ellipse cx="536.9" cy="985.0" rx="20.3" ry="26.5" fill="#fff" fill-opacity="0.1" filter="url(#b4)"/>
<ellipse cx="578.4" cy="1002.0" rx="36.6" ry="18.8" fill="#fff" fill-opacity="0.1" filter="url(#b4)"/>
<ellipse cx="507.4" cy="1049.2" rx="20.4" ry="20.6" fill="#000" fill-opacity="0.1" filter="url(#b4)"/>
<ellipse cx="412.2" cy="995.0" rx="25.5" ry="28.1" fill="#000" fill-opacity="0.1" filter="url(#b4)"/>
<ellipse cx="419.4" cy="1040.2" rx="31.8" ry="28.2" fill="#fff" fill-opacity="0.1" filter="url(#b4)"/>
<ellipse cx="769.4" cy="1043.8" rx="25.1" ry="12.4" fill="#fff" fill-opacity="0.1" filter="url(#b4)"/>
<path d="M383.6,973.7 L384.9,1013.6 L405.2,1040.2 M416.1,974.2 L422.7,999.7 L425.1,1040.4 M484.3,975.3 L498.1,1017.5 L501.8,1040.9 M537.4,976.1 L542.0,1021.1 L555.6,1041.3 M498.1,1017.5 L542.0,1021.1 M602.5,977.1 L605.6,1014.6 L603.1,1041.7 M642.6,977.7 L654.4,1002.7 L656.6,1042.0 M605.6,1014.6 L654.4,1002.7 M676.1,978.2 L679.4,1003.0 L670.3,1042.3 M654.4,1002.7 L679.4,1003.0 M730.7,979.0 L728.7,1004.2 L734.9,1042.6 M781.0,979.8 L785.1,1012.0 L793.1,1043.0 M728.7,1004.2 L785.1,1012.0 M850.8,980.9 L842.4,1024.0 L835.5,1043.5 M882.8,981.4 L889.8,1007.3 L895.9,1043.7 M842.4,1024.0 L889.8,1007.3" fill="none" stroke="#fff" stroke-opacity="0.26" stroke-width="3.6" stroke-linejoin="round" filter="url(#b2)"/>
<path d="M135.6,970.0 L138.2,1008.3 L128.8,1038.4 M198.1,970.9 L191.9,997.2 L192.8,1038.9 M138.2,1008.3 L191.9,997.2 M374.0,973.6 L366.8,1016.6 L365.3,1040.1 M191.9,997.2 L366.8,1016.6 M524.7,975.9 L522.4,1000.3 L514.6,1041.2 M690.7,978.4 L694.9,1016.2 L691.1,1042.4 M522.4,1000.3 L694.9,1016.2 M805.3,980.2 L804.3,1018.2 L805.9,1043.2 M900.2,981.6 L900.9,1012.4 L908.4,1043.8" fill="none" stroke="#fff" stroke-opacity="0.12" stroke-width="2.5" stroke-linejoin="round" filter="url(#b1)"/>
<ellipse cx="592" cy="972" rx="13" ry="5" fill="#8a8a8a" filter="url(#b2)"/>
<ellipse cx="610" cy="975" rx="9" ry="5" fill="#8a8a8a" filter="url(#b2)"/>
<ellipse cx="808" cy="978" rx="6" ry="5" fill="#8a8a8a" filter="url(#b2)"/>
<g filter="url(#b1)">
<ellipse cx="617.5" cy="1095.3" rx="6.6" ry="2.2" fill="#a8a8a8" fill-opacity="0.5" transform="rotate(-0.9 617.5 1095.3)"/>
<ellipse cx="492.6" cy="1090.0" rx="26.5" ry="1.7" fill="#a8a8a8" fill-opacity="0.5" transform="rotate(0.5 492.6 1090.0)"/>
<ellipse cx="319.1" cy="1090.3" rx="26.7" ry="1.9" fill="#a8a8a8" fill-opacity="0.5" transform="rotate(0.3 319.1 1090.3)"/>
<ellipse cx="194.2" cy="1086.9" rx="19.3" ry="1.8" fill="#a8a8a8" fill-opacity="0.5" transform="rotate(-0.7 194.2 1086.9)"/>
<ellipse cx="302.0" cy="1089.7" rx="17.5" ry="0.9" fill="#a8a8a8" fill-opacity="0.5" transform="rotate(1.3 302.0 1089.7)"/>
<ellipse cx="161.7" cy="1089.9" rx="27.2" ry="1.4" fill="#a8a8a8" fill-opacity="0.5" transform="rotate(1.3 161.7 1089.9)"/>
<ellipse cx="182.9" cy="1093.6" rx="16.4" ry="1.8" fill="#a8a8a8" fill-opacity="0.5" transform="rotate(-0.5 182.9 1093.6)"/>
<ellipse cx="638.5" cy="1089.2" rx="23.1" ry="2.0" fill="#a8a8a8" fill-opacity="0.5" transform="rotate(-0.9 638.5 1089.2)"/>
<ellipse cx="497.3" cy="1089.5" rx="15.8" ry="1.5" fill="#a8a8a8" fill-opacity="0.5" transform="rotate(2.0 497.3 1089.5)"/>
<ellipse cx="581.7" cy="1090.7" rx="27.2" ry="1.5" fill="#a8a8a8" fill-opacity="0.5" transform="rotate(1.6 581.7 1090.7)"/>
<ellipse cx="876.5" cy="1091.2" rx="24.0" ry="2.1" fill="#a8a8a8" fill-opacity="0.5" transform="rotate(1.0 876.5 1091.2)"/>
<ellipse cx="169.3" cy="1092.9" rx="26.8" ry="1.3" fill="#a8a8a8" fill-opacity="0.5" transform="rotate(1.7 169.3 1092.9)"/>
<ellipse cx="854.7" cy="1094.6" rx="18.7" ry="2.1" fill="#a8a8a8" fill-opacity="0.5" transform="rotate(2.4 854.7 1094.6)"/>
<ellipse cx="526.9" cy="1088.4" rx="16.6" ry="1.7" fill="#a8a8a8" fill-opacity="0.5" transform="rotate(0.4 526.9 1088.4)"/>
<ellipse cx="803.1" cy="1091.1" rx="13.8" ry="1.5" fill="#a8a8a8" fill-opacity="0.5" transform="rotate(1.7 803.1 1091.1)"/>
<ellipse cx="878.8" cy="1090.5" rx="10.4" ry="0.9" fill="#a8a8a8" fill-opacity="0.5" transform="rotate(-0.2 878.8 1090.5)"/>
<ellipse cx="713.8" cy="1090.4" rx="25.9" ry="1.9" fill="#a8a8a8" fill-opacity="0.5" transform="rotate(-0.8 713.8 1090.4)"/>
<ellipse cx="445.9" cy="1092.3" rx="6.1" ry="1.9" fill="#a8a8a8" fill-opacity="0.5" transform="rotate(1.7 445.9 1092.3)"/>
<ellipse cx="494.1" cy="1092.6" rx="25.0" ry="1.0" fill="#a8a8a8" fill-opacity="0.5" transform="rotate(1.0 494.1 1092.6)"/>
<ellipse cx="216.6" cy="1092.7" rx="16.1" ry="1.0" fill="#a8a8a8" fill-opacity="0.5" transform="rotate(0.2 216.6 1092.7)"/>
<ellipse cx="852.4" cy="1092.7" rx="12.7" ry="1.2" fill="#a8a8a8" fill-opacity="0.5" transform="rotate(1.8 852.4 1092.7)"/>
<ellipse cx="581.7" cy="1092.5" rx="18.2" ry="1.9" fill="#a8a8a8" fill-opacity="0.5" transform="rotate(1.2 581.7 1092.5)"/>
<ellipse cx="709.5" cy="1091.5" rx="9.9" ry="1.0" fill="#a8a8a8" fill-opacity="0.5" transform="rotate(-0.3 709.5 1091.5)"/>
<ellipse cx="205.1" cy="1090.9" rx="22.1" ry="2.1" fill="#a8a8a8" fill-opacity="0.5" transform="rotate(-0.8 205.1 1090.9)"/>
<ellipse cx="463.4" cy="1086.8" rx="26.7" ry="2.0" fill="#a8a8a8" fill-opacity="0.5" transform="rotate(0.8 463.4 1086.8)"/>
<ellipse cx="704.8" cy="1094.8" rx="24.2" ry="1.7" fill="#a8a8a8" fill-opacity="0.5" transform="rotate(2.2 704.8 1094.8)"/>
<ellipse cx="395.3" cy="1089.0" rx="9.4" ry="2.1" fill="#a8a8a8" fill-opacity="0.5" transform="rotate(-1.0 395.3 1089.0)"/>
<ellipse cx="400.5" cy="1087.6" rx="25.8" ry="2.0" fill="#a8a8a8" fill-opacity="0.5" transform="rotate(1.1 400.5 1087.6)"/>
<ellipse cx="354.4" cy="1086.5" rx="17.9" ry="0.9" fill="#a8a8a8" fill-opacity="0.5" transform="rotate(0.0 354.4 1086.5)"/>
<ellipse cx="521.2" cy="1090.8" rx="28.6" ry="1.4" fill="#a8a8a8" fill-opacity="0.5" transform="rotate(-0.3 521.2 1090.8)"/>
<ellipse cx="680.9" cy="1094.4" rx="11.7" ry="1.6" fill="#a8a8a8" fill-opacity="0.5" transform="rotate(-0.3 680.9 1094.4)"/>
<ellipse cx="482.3" cy="1093.8" rx="7.5" ry="1.2" fill="#a8a8a8" fill-opacity="0.5" transform="rotate(2.4 482.3 1093.8)"/>
<ellipse cx="578.7" cy="1092.6" rx="28.0" ry="2.1" fill="#a8a8a8" fill-opacity="0.5" transform="rotate(1.0 578.7 1092.6)"/>
<ellipse cx="259.5" cy="1085.7" rx="7.0" ry="1.2" fill="#a8a8a8" fill-opacity="0.5" transform="rotate(1.0 259.5 1085.7)"/>
<ellipse cx="104.2" cy="1086.1" rx="20.4" ry="1.0" fill="#a8a8a8" fill-opacity="0.5" transform="rotate(-0.4 104.2 1086.1)"/>
<ellipse cx="356.2" cy="1088.6" rx="7.3" ry="2.0" fill="#a8a8a8" fill-opacity="0.5" transform="rotate(-0.1 356.2 1088.6)"/>
<ellipse cx="230.9" cy="1087.8" rx="21.3" ry="1.1" fill="#a8a8a8" fill-opacity="0.5" transform="rotate(-0.2 230.9 1087.8)"/>
<ellipse cx="223.4" cy="1093.3" rx="7.8" ry="1.7" fill="#a8a8a8" fill-opacity="0.5" transform="rotate(1.9 223.4 1093.3)"/>
<ellipse cx="93.4" cy="1085.0" rx="25.5" ry="1.8" fill="#a8a8a8" fill-opacity="0.5" transform="rotate(-0.5 93.4 1085.0)"/>
<ellipse cx="461.3" cy="1094.9" rx="22.9" ry="1.7" fill="#a8a8a8" fill-opacity="0.5" transform="rotate(0.9 461.3 1094.9)"/>
<ellipse cx="868.3" cy="1090.5" rx="6.9" ry="1.9" fill="#a8a8a8" fill-opacity="0.5" transform="rotate(-0.3 868.3 1090.5)"/>
<ellipse cx="882.7" cy="1093.8" rx="21.1" ry="2.0" fill="#a8a8a8" fill-opacity="0.5" transform="rotate(-0.1 882.7 1093.8)"/>
<ellipse cx="875.6" cy="1090.0" rx="9.0" ry="2.0" fill="#a8a8a8" fill-opacity="0.5" transform="rotate(1.9 875.6 1090.0)"/>
<ellipse cx="810.5" cy="1094.6" rx="24.6" ry="0.8" fill="#a8a8a8" fill-opacity="0.5" transform="rotate(-0.4 810.5 1094.6)"/>
<ellipse cx="795.3" cy="1090.5" rx="7.6" ry="2.1" fill="#a8a8a8" fill-opacity="0.5" transform="rotate(-0.8 795.3 1090.5)"/>
<ellipse cx="798.5" cy="1093.2" rx="13.6" ry="1.4" fill="#a8a8a8" fill-opacity="0.5" transform="rotate(0.4 798.5 1093.2)"/>
<ellipse cx="616.9" cy="1091.2" rx="23.4" ry="0.9" fill="#a8a8a8" fill-opacity="0.5" transform="rotate(0.0 616.9 1091.2)"/>
<ellipse cx="718.3" cy="1089.5" rx="21.5" ry="1.3" fill="#a8a8a8" fill-opacity="0.5" transform="rotate(-0.7 718.3 1089.5)"/>
<ellipse cx="444.1" cy="1092.0" rx="22.5" ry="1.0" fill="#a8a8a8" fill-opacity="0.5" transform="rotate(0.8 444.1 1092.0)"/>
<ellipse cx="245.1" cy="1086.0" rx="22.2" ry="2.0" fill="#a8a8a8" fill-opacity="0.5" transform="rotate(-0.3 245.1 1086.0)"/>
<ellipse cx="515.1" cy="1091.5" rx="8.4" ry="2.2" fill="#a8a8a8" fill-opacity="0.5" transform="rotate(0.3 515.1 1091.5)"/>
<ellipse cx="876.0" cy="1092.9" rx="21.9" ry="1.8" fill="#a8a8a8" fill-opacity="0.5" transform="rotate(1.2 876.0 1092.9)"/>
<ellipse cx="297.2" cy="1088.1" rx="20.0" ry="0.8" fill="#a8a8a8" fill-opacity="0.5" transform="rotate(1.4 297.2 1088.1)"/>
<ellipse cx="649.5" cy="1089.7" rx="11.5" ry="1.1" fill="#a8a8a8" fill-opacity="0.5" transform="rotate(2.1 649.5 1089.7)"/>
<ellipse cx="194.1" cy="1087.6" rx="22.7" ry="1.4" fill="#a8a8a8" fill-opacity="0.5" transform="rotate(-0.8 194.1 1087.6)"/>
<ellipse cx="183.3" cy="1090.9" rx="9.6" ry="1.0" fill="#a8a8a8" fill-opacity="0.5" transform="rotate(1.8 183.3 1090.9)"/>
<ellipse cx="120.6" cy="1090.7" rx="11.0" ry="2.1" fill="#a8a8a8" fill-opacity="0.5" transform="rotate(-0.7 120.6 1090.7)"/>
<ellipse cx="252.4" cy="1089.0" rx="9.7" ry="2.1" fill="#a8a8a8" fill-opacity="0.5" transform="rotate(0.3 252.4 1089.0)"/>
<ellipse cx="173.3" cy="1094.8" rx="25.5" ry="0.9" fill="#a8a8a8" fill-opacity="0.5" transform="rotate(1.9 173.3 1094.8)"/>
<ellipse cx="672.0" cy="1088.8" rx="25.6" ry="1.5" fill="#a8a8a8" fill-opacity="0.5" transform="rotate(1.5 672.0 1088.8)"/>
<ellipse cx="851.9" cy="1092.9" rx="22.9" ry="1.8" fill="#a8a8a8" fill-opacity="0.5" transform="rotate(0.7 851.9 1092.9)"/>
<ellipse cx="434.6" cy="1088.2" rx="27.5" ry="1.3" fill="#a8a8a8" fill-opacity="0.5" transform="rotate(1.7 434.6 1088.2)"/>
<ellipse cx="484.6" cy="1091.9" rx="16.1" ry="1.4" fill="#a8a8a8" fill-opacity="0.5" transform="rotate(-0.9 484.6 1091.9)"/>
<ellipse cx="435.0" cy="1090.8" rx="17.6" ry="2.2" fill="#a8a8a8" fill-opacity="0.5" transform="rotate(-0.4 435.0 1090.8)"/>
<ellipse cx="826.1" cy="1090.4" rx="9.7" ry="1.9" fill="#a8a8a8" fill-opacity="0.5" transform="rotate(-1.0 826.1 1090.4)"/>
<ellipse cx="832.1" cy="1094.9" rx="23.2" ry="1.0" fill="#a8a8a8" fill-opacity="0.5" transform="rotate(1.5 832.1 1094.9)"/>
<ellipse cx="743.7" cy="1090.9" rx="18.7" ry="1.3" fill="#a8a8a8" fill-opacity="0.5" transform="rotate(-0.5 743.7 1090.9)"/>
<ellipse cx="384.0" cy="1094.8" rx="24.3" ry="1.4" fill="#a8a8a8" fill-opacity="0.5" transform="rotate(-0.4 384.0 1094.8)"/>
<ellipse cx="255.0" cy="1088.5" rx="9.9" ry="2.1" fill="#a8a8a8" fill-opacity="0.5" transform="rotate(1.9 255.0 1088.5)"/>
<ellipse cx="799.6" cy="1095.7" rx="23.7" ry="1.6" fill="#a8a8a8" fill-opacity="0.5" transform="rotate(2.3 799.6 1095.7)"/>
</g>
<g filter="url(#b1)">
<ellipse cx="269.7" cy="1065.4" rx="32.5" ry="1.3" fill="#b8b8b8" fill-opacity="0.35" transform="rotate(1.5 269.7 1065.4)"/>
<ellipse cx="710.7" cy="1072.5" rx="22.9" ry="1.5" fill="#b8b8b8" fill-opacity="0.35" transform="rotate(2.3 710.7 1072.5)"/>
<ellipse cx="82.1" cy="1063.5" rx="44.6" ry="1.1" fill="#b8b8b8" fill-opacity="0.35" transform="rotate(1.2 82.1 1063.5)"/>
<ellipse cx="504.0" cy="1075.5" rx="32.1" ry="1.4" fill="#b8b8b8" fill-opacity="0.35" transform="rotate(-0.8 504.0 1075.5)"/>
<ellipse cx="867.3" cy="1073.2" rx="23.4" ry="1.5" fill="#b8b8b8" fill-opacity="0.35" transform="rotate(-1.0 867.3 1073.2)"/>
<ellipse cx="511.6" cy="1075.9" rx="32.3" ry="1.0" fill="#b8b8b8" fill-opacity="0.35" transform="rotate(1.2 511.6 1075.9)"/>
<ellipse cx="155.8" cy="1062.3" rx="42.4" ry="1.4" fill="#b8b8b8" fill-opacity="0.35" transform="rotate(1.1 155.8 1062.3)"/>
<ellipse cx="84.7" cy="1070.8" rx="43.4" ry="1.0" fill="#b8b8b8" fill-opacity="0.35" transform="rotate(-0.4 84.7 1070.8)"/>
<ellipse cx="697.9" cy="1067.1" rx="17.8" ry="1.4" fill="#b8b8b8" fill-opacity="0.35" transform="rotate(-0.8 697.9 1067.1)"/>
<ellipse cx="766.3" cy="1065.5" rx="49.0" ry="1.4" fill="#b8b8b8" fill-opacity="0.35" transform="rotate(1.4 766.3 1065.5)"/>
<ellipse cx="545.1" cy="1068.6" rx="37.4" ry="1.2" fill="#b8b8b8" fill-opacity="0.35" transform="rotate(-0.8 545.1 1068.6)"/>
<ellipse cx="523.8" cy="1074.9" rx="42.4" ry="0.8" fill="#b8b8b8" fill-opacity="0.35" transform="rotate(1.7 523.8 1074.9)"/>
<ellipse cx="549.5" cy="1066.6" rx="14.0" ry="1.2" fill="#b8b8b8" fill-opacity="0.35" transform="rotate(0.1 549.5 1066.6)"/>
<ellipse cx="271.2" cy="1072.7" rx="40.4" ry="0.8" fill="#b8b8b8" fill-opacity="0.35" transform="rotate(-0.1 271.2 1072.7)"/>
<ellipse cx="894.0" cy="1073.7" rx="37.1" ry="1.0" fill="#b8b8b8" fill-opacity="0.35" transform="rotate(0.1 894.0 1073.7)"/>
<ellipse cx="305.6" cy="1062.6" rx="34.9" ry="1.0" fill="#b8b8b8" fill-opacity="0.35" transform="rotate(2.1 305.6 1062.6)"/>
</g>
<rect x="72.4" y="967.3" width="279.9" height="71.5" fill="#c88459" fill-opacity="0.8"/>
<rect x="72.4" y="1038.8" width="279.9" height="4.4" fill="#9db5d2" fill-opacity="0.95"/>
<rect x="72.4" y="1043.2" width="279.9" height="13.6" fill="#c3d4b3" fill-opacity="0.95"/>
<rect x="72.4" y="924.2" width="852.1" height="171.4" filter="url(#semNoise)" opacity="0.3"/>
</g>
<text transform="translate(88.0,954.9)" font-size="30.4" text-anchor="start" fill="#fff" font-weight="normal" >0 bending cycle</text>
<text transform="translate(176.4,1005.8)" font-size="25" text-anchor="start" fill="#fff" font-weight="normal" >OIHP</text>
<text transform="translate(179.2,1040.8)" font-size="25" text-anchor="start" fill="#fff" font-weight="normal" >SnO<tspan font-size="16" dy="5.5">2</tspan></text>
<text transform="translate(183.3,1071.1)" font-size="25" text-anchor="start" fill="#fff" font-weight="normal" >ITO</text>
<text transform="translate(790.0,1052.7) scale(1.05,1)" font-size="26" text-anchor="start" fill="#fff" font-weight="normal" >1000 nm</text>
<rect x="769.7" y="1066.7" width="149.5" height="6.6" fill="#fff"/>
<clipPath id="clip_d2"><rect x="72.4" y="1113.9" width="852.1" height="135.1"/></clipPath>
<g clip-path="url(#clip_d2)">
<polygon points="70.4,1108.9 76.4,1108.9 82.4,1108.9 88.4,1108.9 94.4,1108.9 100.4,1108.9 106.4,1108.9 112.4,1108.9 118.4,1108.9 124.4,1108.9 130.4,1108.9 136.4,1108.9 142.4,1108.9 148.4,1108.9 154.4,1108.9 160.4,1108.9 166.4,1108.9 172.4,1108.9 178.4,1108.9 184.4,1108.9 190.4,1108.9 196.4,1108.9 202.4,1108.9 208.4,1108.9 214.4,1108.9 220.4,1108.9 226.4,1108.9 232.4,1108.9 238.4,1108.9 244.4,1108.9 250.4,1108.9 256.4,1108.9 262.4,1108.9 268.4,1108.9 274.4,1108.9 280.4,1108.9 286.4,1108.9 292.4,1108.9 298.4,1108.9 304.4,1108.9 310.4,1108.9 316.4,1108.9 322.4,1108.9 328.4,1108.9 334.4,1108.9 340.4,1108.9 346.4,1108.9 352.4,1108.9 358.4,1108.9 364.4,1108.9 370.4,1108.9 376.4,1108.9 382.4,1108.9 388.4,1108.9 394.4,1108.9 400.4,1108.9 406.4,1108.9 412.4,1108.9 418.4,1108.9 424.4,1108.9 430.4,1108.9 436.4,1108.9 442.4,1108.9 448.4,1108.9 454.4,1108.9 460.4,1108.9 466.4,1108.9 472.4,1108.9 478.4,1108.9 484.4,1108.9 490.4,1108.9 496.4,1108.9 502.4,1108.9 508.4,1108.9 514.4,1108.9 520.4,1108.9 526.4,1108.9 532.4,1108.9 538.4,1108.9 544.4,1108.9 550.4,1108.9 556.4,1108.9 562.4,1108.9 568.4,1108.9 574.4,1108.9 580.4,1108.9 586.4,1108.9 592.4,1108.9 598.4,1108.9 604.4,1108.9 610.4,1108.9 616.4,1108.9 622.4,1108.9 628.4,1108.9 634.4,1108.9 640.4,1108.9 646.4,1108.9 652.4,1108.9 658.4,1108.9 664.4,1108.9 670.4,1108.9 676.4,1108.9 682.4,1108.9 688.4,1108.9 694.4,1108.9 700.4,1108.9 706.4,1108.9 712.4,1108.9 718.4,1108.9 724.4,1108.9 730.4,1108.9 736.4,1108.9 742.4,1108.9 748.4,1108.9 754.4,1108.9 760.4,1108.9 766.4,1108.9 772.4,1108.9 778.4,1108.9 784.4,1108.9 790.4,1108.9 796.4,1108.9 802.4,1108.9 808.4,1108.9 814.4,1108.9 820.4,1108.9 826.4,1108.9 832.4,1108.9 838.4,1108.9 844.4,1108.9 850.4,1108.9 856.4,1108.9 862.4,1108.9 868.4,1108.9 874.4,1108.9 880.4,1108.9 886.4,1108.9 892.4,1108.9 898.4,1108.9 904.4,1108.9 910.4,1108.9 916.4,1108.9 922.4,1108.9 926.5,1108.9 926.5,1251.0 70.4,1251.0" fill="#a3a3a3"/>
<polygon points="70.4,1203.4 76.4,1204.4 82.4,1204.6 88.4,1204.1 94.4,1203.1 100.4,1203.1 106.4,1202.9 112.4,1203.1 118.4,1203.8 124.4,1203.7 130.4,1202.9 136.4,1203.8 142.4,1203.7 148.4,1204.4 154.4,1203.6 160.4,1204.9 166.4,1203.8 172.4,1203.9 178.4,1204.3 184.4,1202.8 190.4,1202.8 196.4,1202.5 202.4,1203.9 208.4,1204.3 214.4,1203.7 220.4,1203.0 226.4,1202.6 232.4,1203.3 238.4,1203.3 244.4,1203.9 250.4,1203.8 256.4,1203.1 262.4,1204.6 268.4,1204.8 274.4,1204.3 280.4,1204.2 286.4,1205.0 292.4,1205.3 298.4,1204.4 304.4,1205.3 310.4,1204.7 316.4,1205.1 322.4,1204.3 328.4,1204.2 334.4,1204.9 340.4,1204.3 346.4,1204.6 352.4,1205.0 358.4,1204.7 364.4,1205.6 370.4,1205.8 376.4,1205.5 382.4,1205.9 388.4,1206.4 394.4,1206.6 400.4,1206.0 406.4,1206.2 412.4,1206.1 418.4,1205.3 424.4,1205.2 430.4,1206.4 436.4,1205.7 442.4,1205.9 448.4,1206.7 454.4,1206.1 460.4,1206.0 466.4,1205.6 472.4,1205.9 478.4,1205.3 484.4,1205.8 490.4,1205.5 496.4,1205.9 502.4,1205.1 508.4,1204.9 514.4,1205.9 520.4,1206.3 526.4,1204.8 532.4,1206.1 538.4,1205.8 544.4,1206.5 550.4,1207.0 556.4,1206.7 562.4,1206.4 568.4,1205.5 574.4,1206.2 580.4,1207.3 586.4,1206.4 592.4,1207.1 598.4,1207.3 604.4,1207.6 610.4,1206.8 616.4,1206.8 622.4,1207.0 628.4,1207.8 634.4,1207.0 640.4,1206.8 646.4,1206.5 652.4,1207.2 658.4,1206.4 664.4,1206.6 670.4,1206.2 676.4,1206.5 682.4,1207.2 688.4,1207.0 694.4,1207.5 700.4,1207.3 706.4,1207.3 712.4,1207.3 718.4,1207.0 724.4,1207.5 730.4,1207.9 736.4,1207.4 742.4,1207.9 748.4,1207.9 754.4,1207.7 760.4,1207.8 766.4,1208.3 772.4,1208.5 778.4,1209.1 784.4,1208.8 790.4,1208.6 796.4,1207.7 802.4,1207.6 808.4,1208.1 814.4,1207.6 820.4,1207.4 826.4,1208.7 832.4,1208.5 838.4,1207.9 844.4,1207.1 850.4,1207.2 856.4,1208.9 862.4,1208.8 868.4,1209.0 874.4,1209.2 880.4,1208.8 886.4,1208.9 892.4,1208.9 898.4,1208.7 904.4,1209.3 910.4,1208.7 916.4,1208.4 922.4,1208.3 926.5,1209.0 926.5,1251.0 70.4,1251.0" fill="#b0b0b0" filter="url(#b1)"/>
<polygon points="70.4,1210.9 76.4,1210.5 82.4,1211.2 88.4,1210.4 94.4,1210.1 100.4,1209.2 106.4,1209.4 112.4,1210.0 118.4,1210.6 124.4,1210.2 130.4,1210.3 136.4,1211.1 142.4,1210.8 148.4,1210.9 154.4,1211.2 160.4,1210.7 166.4,1211.3 172.4,1211.1 178.4,1211.4 184.4,1211.2 190.4,1211.3 196.4,1211.8 202.4,1211.6 208.4,1210.8 214.4,1210.9 220.4,1210.9 226.4,1211.0 232.4,1211.3 238.4,1210.7 244.4,1211.7 250.4,1211.3 256.4,1211.9 262.4,1211.7 268.4,1211.5 274.4,1211.5 280.4,1211.5 286.4,1211.8 292.4,1212.3 298.4,1212.8 304.4,1213.2 310.4,1212.2 316.4,1212.4 322.4,1212.4 328.4,1212.2 334.4,1212.3 340.4,1212.2 346.4,1211.7 352.4,1211.6 358.4,1212.2 364.4,1212.2 370.4,1212.8 376.4,1212.4 382.4,1212.2 388.4,1212.3 394.4,1212.4 400.4,1212.8 406.4,1212.5 412.4,1212.8 418.4,1212.9 424.4,1212.4 430.4,1212.5 436.4,1212.5 442.4,1213.0 448.4,1213.4 454.4,1213.4 460.4,1213.0 466.4,1213.2 472.4,1213.2 478.4,1212.9 484.4,1213.2 490.4,1212.8 496.4,1212.8 502.4,1212.5 508.4,1212.2 514.4,1212.7 520.4,1212.3 526.4,1212.4 532.4,1212.6 538.4,1213.1 544.4,1212.9 550.4,1213.4 556.4,1213.1 562.4,1212.9 568.4,1212.8 574.4,1212.9 580.4,1212.9 586.4,1212.6 592.4,1212.7 598.4,1212.8 604.4,1213.6 610.4,1213.2 616.4,1213.6 622.4,1213.3 628.4,1213.9 634.4,1213.9 640.4,1213.7 646.4,1214.3 652.4,1214.8 658.4,1215.1 664.4,1215.1 670.4,1214.7 676.4,1214.2 682.4,1214.0 688.4,1213.9 694.4,1214.3 700.4,1214.1 706.4,1214.3 712.4,1214.4 718.4,1214.4 724.4,1214.2 730.4,1213.9 736.4,1215.2 742.4,1214.9 748.4,1214.1 754.4,1213.9 760.4,1213.9 766.4,1215.0 772.4,1215.0 778.4,1214.5 784.4,1215.4 790.4,1214.4 796.4,1215.1 802.4,1216.2 808.4,1215.7 814.4,1215.8 820.4,1215.8 826.4,1214.4 832.4,1214.8 838.4,1214.8 844.4,1213.8 850.4,1214.8 856.4,1214.8 862.4,1215.1 868.4,1215.4 874.4,1215.2 880.4,1214.3 886.4,1214.6 892.4,1214.7 898.4,1214.6 904.4,1214.6 910.4,1215.0 916.4,1215.9 922.4,1215.9 926.5,1215.7 926.5,1251.0 70.4,1251.0" fill="#7c7c7c" filter="url(#b1)"/>
<polygon points="70.4,1222.1 76.4,1222.5 82.4,1222.5 88.4,1222.3 94.4,1222.0 100.4,1221.6 106.4,1222.2 112.4,1222.2 118.4,1222.7 124.4,1222.3 130.4,1222.1 136.4,1222.4 142.4,1223.0 148.4,1222.7 154.4,1222.4 160.4,1222.7 166.4,1222.1 172.4,1222.8 178.4,1222.2 184.4,1221.8 190.4,1222.2 196.4,1222.2 202.4,1223.0 208.4,1223.3 214.4,1223.3 220.4,1222.3 226.4,1222.5 232.4,1222.4 238.4,1221.8 244.4,1223.1 250.4,1222.3 256.4,1222.2 262.4,1222.2 268.4,1222.3 274.4,1222.8 280.4,1223.1 286.4,1222.7 292.4,1223.1 298.4,1223.5 304.4,1223.6 310.4,1224.2 316.4,1223.7 322.4,1223.5 328.4,1223.3 334.4,1222.9 340.4,1223.2 346.4,1223.8 352.4,1224.0 358.4,1223.9 364.4,1223.9 370.4,1224.4 376.4,1224.6 382.4,1223.6 388.4,1223.2 394.4,1223.9 400.4,1224.2 406.4,1224.4 412.4,1224.6 418.4,1223.9 424.4,1223.5 430.4,1223.9 436.4,1223.5 442.4,1223.9 448.4,1224.8 454.4,1223.9 460.4,1224.3 466.4,1224.9 472.4,1225.2 478.4,1224.7 484.4,1224.2 490.4,1224.3 496.4,1223.9 502.4,1224.2 508.4,1224.2 514.4,1224.3 520.4,1224.8 526.4,1224.7 532.4,1224.5 538.4,1224.5 544.4,1224.5 550.4,1224.5 556.4,1224.5 562.4,1225.0 568.4,1224.8 574.4,1225.3 580.4,1225.5 586.4,1225.7 592.4,1225.6 598.4,1224.9 604.4,1226.0 610.4,1225.5 616.4,1224.9 622.4,1225.1 628.4,1225.3 634.4,1224.5 640.4,1224.3 646.4,1224.6 652.4,1224.8 658.4,1224.6 664.4,1224.6 670.4,1224.9 676.4,1224.8 682.4,1225.3 688.4,1225.5 694.4,1225.4 700.4,1226.2 706.4,1226.6 712.4,1225.7 718.4,1225.7 724.4,1226.3 730.4,1225.8 736.4,1225.0 742.4,1225.0 748.4,1225.1 754.4,1225.2 760.4,1225.6 766.4,1226.0 772.4,1226.3 778.4,1225.4 784.4,1225.4 790.4,1226.2 796.4,1226.0 802.4,1225.6 808.4,1225.8 814.4,1226.9 820.4,1226.1 826.4,1226.1 832.4,1226.1 838.4,1225.9 844.4,1226.1 850.4,1226.0 856.4,1225.7 862.4,1225.9 868.4,1226.0 874.4,1226.1 880.4,1226.4 886.4,1226.8 892.4,1227.0 898.4,1227.1 904.4,1226.5 910.4,1226.7 916.4,1226.7 922.4,1226.4 926.5,1227.0 926.5,1251.0 70.4,1251.0" fill="#8e8e8e" filter="url(#b2)"/>
<polygon points="70.4,1230.0 77.4,1229.8 84.4,1229.7 91.4,1230.2 98.4,1229.0 105.4,1229.4 112.4,1228.8 119.4,1228.9 126.4,1228.9 133.4,1230.0 140.4,1230.6 147.4,1230.8 154.4,1229.5 161.4,1229.9 168.4,1231.5 175.4,1232.1 182.4,1231.9 189.4,1231.4 196.4,1230.3 203.4,1230.6 210.4,1229.2 217.4,1229.6 224.4,1228.7 231.4,1228.6 238.4,1228.1 245.4,1229.3 252.4,1229.5 259.4,1230.2 266.4,1230.9 273.4,1231.1 280.4,1230.3 287.4,1230.7 294.4,1229.5 301.4,1229.6 308.4,1230.5 315.4,1230.4 322.4,1230.7 329.4,1230.8 336.4,1232.8 343.4,1230.4 350.4,1229.6 357.4,1231.4 364.4,1230.1 371.4,1230.5 378.4,1232.1 385.4,1230.0 392.4,1230.3 399.4,1231.2 406.4,1232.3 413.4,1231.3 420.4,1231.8 427.4,1231.2 434.4,1231.6 441.4,1231.0 448.4,1231.6 455.4,1232.1 462.4,1232.6 469.4,1231.8 476.4,1231.0 483.4,1231.4 490.4,1232.3 497.4,1232.5 504.4,1231.3 511.4,1231.4 518.4,1231.4 525.4,1230.7 532.4,1233.1 539.4,1232.3 546.4,1231.7 553.4,1231.5 560.4,1230.4 567.4,1230.5 574.4,1230.5 581.4,1230.2 588.4,1230.4 595.4,1228.0 602.4,1229.5 609.4,1230.2 616.4,1230.0 623.4,1229.9 630.4,1228.7 637.4,1229.4 644.4,1230.6 651.4,1231.3 658.4,1231.5 665.4,1231.4 672.4,1232.8 679.4,1233.8 686.4,1231.9 693.4,1233.5 700.4,1233.4 707.4,1231.7 714.4,1231.7 721.4,1232.2 728.4,1234.1 735.4,1233.1 742.4,1233.8 749.4,1232.7 756.4,1232.3 763.4,1233.6 770.4,1232.7 777.4,1232.9 784.4,1233.4 791.4,1233.7 798.4,1233.7 805.4,1233.8 812.4,1235.4 819.4,1234.0 826.4,1234.3 833.4,1233.0 840.4,1232.9 847.4,1232.3 854.4,1230.7 861.4,1229.9 868.4,1231.7 875.4,1229.6 882.4,1230.4 889.4,1230.9 896.4,1232.4 903.4,1232.7 910.4,1233.3 917.4,1232.2 924.4,1231.4 926.5,1233.0 926.5,1251.0 70.4,1251.0" fill="#f4f4f4" filter="url(#b1)"/>
<polygon points="70.4,1236.9 77.4,1237.2 84.4,1238.0 91.4,1239.0 98.4,1237.8 105.4,1239.3 112.4,1239.1 119.4,1238.4 126.4,1236.8 133.4,1237.8 140.4,1238.5 147.4,1238.2 154.4,1236.9 161.4,1236.1 168.4,1238.9 175.4,1238.0 182.4,1239.9 189.4,1239.9 196.4,1240.0 203.4,1240.7 210.4,1239.7 217.4,1239.3 224.4,1237.0 231.4,1236.8 238.4,1236.6 245.4,1237.9 252.4,1237.1 259.4,1239.1 266.4,1238.5 273.4,1239.2 280.4,1238.9 287.4,1239.1 294.4,1238.6 301.4,1239.8 308.4,1239.4 315.4,1238.2 322.4,1236.0 329.4,1238.3 336.4,1238.1 343.4,1238.0 350.4,1237.2 357.4,1238.6 364.4,1237.5 371.4,1238.9 378.4,1239.7 385.4,1240.1 392.4,1239.8 399.4,1238.4 406.4,1240.3 413.4,1239.9 420.4,1240.3 427.4,1239.2 434.4,1238.8 441.4,1238.1 448.4,1238.7 455.4,1238.5 462.4,1237.1 469.4,1236.3 476.4,1236.5 483.4,1236.0 490.4,1237.3 497.4,1238.7 504.4,1239.3 511.4,1238.4 518.4,1240.4 525.4,1239.0 532.4,1239.0 539.4,1238.0 546.4,1236.5 553.4,1238.3 560.4,1237.2 567.4,1237.2 574.4,1236.6 581.4,1236.8 588.4,1237.4 595.4,1237.9 602.4,1239.1 609.4,1238.6 616.4,1239.8 623.4,1240.0 630.4,1239.2 637.4,1238.7 644.4,1239.4 651.4,1239.1 658.4,1239.3 665.4,1238.0 672.4,1237.4 679.4,1238.9 686.4,1238.7 693.4,1239.7 700.4,1240.9 707.4,1240.4 714.4,1239.4 721.4,1240.7 728.4,1240.8 735.4,1239.5 742.4,1240.3 749.4,1238.3 756.4,1238.1 763.4,1239.2 770.4,1239.9 777.4,1241.1 784.4,1240.9 791.4,1241.9 798.4,1241.9 805.4,1240.2 812.4,1239.3 819.4,1239.3 826.4,1241.3 833.4,1241.6 840.4,1241.7 847.4,1241.6 854.4,1239.7 861.4,1240.2 868.4,1240.2 875.4,1239.8 882.4,1241.2 889.4,1242.2 896.4,1243.0 903.4,1242.7 910.4,1240.8 917.4,1241.4 924.4,1240.0 926.5,1240.0 926.5,1251.0 70.4,1251.0" fill="#dcdcdc" filter="url(#b1)"/>
<polygon points="250,1111.9 926.5,1111.9 926.5,1132.5 780,1127 620,1121 560,1121 480,1119 400,1120 330,1117" fill="#5c5c5c" filter="url(#b1)"/>
<ellipse cx="208.8" cy="1157.8" rx="15.6" ry="21.8" fill="#000" fill-opacity="0.06" filter="url(#b4)"/>
<ellipse cx="416.6" cy="1178.9" rx="24.0" ry="27.4" fill="#000" fill-opacity="0.06" filter="url(#b4)"/>
<ellipse cx="328.6" cy="1169.7" rx="18.3" ry="35.3" fill="#fff" fill-opacity="0.06" filter="url(#b4)"/>
<ellipse cx="136.4" cy="1151.4" rx="33.5" ry="21.0" fill="#000" fill-opacity="0.06" filter="url(#b4)"/>
<ellipse cx="322.2" cy="1152.6" rx="23.1" ry="17.3" fill="#fff" fill-opacity="0.06" filter="url(#b4)"/>
<ellipse cx="74.0" cy="1157.7" rx="36.9" ry="27.9" fill="#fff" fill-opacity="0.06" filter="url(#b4)"/>
<ellipse cx="538.4" cy="1189.2" rx="35.9" ry="22.0" fill="#fff" fill-opacity="0.06" filter="url(#b4)"/>
<ellipse cx="227.8" cy="1160.8" rx="36.6" ry="36.7" fill="#fff" fill-opacity="0.06" filter="url(#b4)"/>
<ellipse cx="754.6" cy="1175.3" rx="22.2" ry="23.3" fill="#000" fill-opacity="0.06" filter="url(#b4)"/>
<ellipse cx="140.9" cy="1154.2" rx="36.4" ry="22.6" fill="#fff" fill-opacity="0.06" filter="url(#b4)"/>
<ellipse cx="277.8" cy="1134.9" rx="26.0" ry="11.3" fill="#fff" fill-opacity="0.06" filter="url(#b4)"/>
<ellipse cx="442.0" cy="1171.4" rx="21.6" ry="20.5" fill="#fff" fill-opacity="0.06" filter="url(#b4)"/>
<ellipse cx="189.9" cy="1183.2" rx="36.2" ry="28.5" fill="#000" fill-opacity="0.06" filter="url(#b4)"/>
<ellipse cx="749.8" cy="1163.6" rx="32.0" ry="22.4" fill="#000" fill-opacity="0.06" filter="url(#b4)"/>
<ellipse cx="363.1" cy="1154.4" rx="22.7" ry="22.3" fill="#fff" fill-opacity="0.06" filter="url(#b4)"/>
<ellipse cx="703.6" cy="1142.8" rx="16.9" ry="23.1" fill="#fff" fill-opacity="0.06" filter="url(#b4)"/>
<ellipse cx="753.3" cy="1140.9" rx="15.2" ry="24.7" fill="#fff" fill-opacity="0.06" filter="url(#b4)"/>
<ellipse cx="519.3" cy="1165.1" rx="20.1" ry="17.3" fill="#000" fill-opacity="0.06" filter="url(#b4)"/>
<ellipse cx="331.3" cy="1141.9" rx="30.5" ry="19.2" fill="#000" fill-opacity="0.06" filter="url(#b4)"/>
<ellipse cx="321.8" cy="1143.6" rx="25.1" ry="17.8" fill="#fff" fill-opacity="0.06" filter="url(#b4)"/>
<ellipse cx="87.5" cy="1197.1" rx="32.3" ry="25.1" fill="#fff" fill-opacity="0.06" filter="url(#b4)"/>
<ellipse cx="774.9" cy="1196.6" rx="30.4" ry="14.2" fill="#000" fill-opacity="0.06" filter="url(#b4)"/>
<ellipse cx="464.5" cy="1194.6" rx="19.5" ry="24.9" fill="#000" fill-opacity="0.06" filter="url(#b4)"/>
<ellipse cx="333.4" cy="1174.4" rx="37.6" ry="20.9" fill="#fff" fill-opacity="0.06" filter="url(#b4)"/>
<ellipse cx="206.7" cy="1128.7" rx="32.3" ry="12.9" fill="#fff" fill-opacity="0.06" filter="url(#b4)"/>
<ellipse cx="375.2" cy="1163.5" rx="25.8" ry="12.5" fill="#fff" fill-opacity="0.06" filter="url(#b4)"/>
<ellipse cx="315.0" cy="1187.8" rx="37.2" ry="30.3" fill="#000" fill-opacity="0.06" filter="url(#b4)"/>
<ellipse cx="350.3" cy="1160.8" rx="16.0" ry="10.2" fill="#fff" fill-opacity="0.06" filter="url(#b4)"/>
<ellipse cx="826.0" cy="1181.6" rx="18.2" ry="25.8" fill="#fff" fill-opacity="0.06" filter="url(#b4)"/>
<ellipse cx="295.7" cy="1167.1" rx="37.9" ry="17.1" fill="#000" fill-opacity="0.06" filter="url(#b4)"/>
<path d="M109.2,1122.7 L104.8,1151.8 L102.4,1198.3 M144.6,1123.4 L137.1,1150.9 L135.8,1198.7 M200.4,1124.4 L219.8,1165.7 L221.2,1199.2 M137.1,1150.9 L219.8,1165.7 M232.9,1125.0 L229.9,1153.3 L223.2,1199.5 M308.6,1126.4 L308.5,1171.8 L322.4,1200.2 M339.4,1127.0 L330.4,1165.4 L323.0,1200.5 M426.4,1128.6 L424.5,1172.7 L426.4,1201.3 M330.4,1165.4 L424.5,1172.7 M468.8,1129.4 L460.0,1163.2 L464.3,1201.7 M424.5,1172.7 L460.0,1163.2 M558.7,1131.1 L552.7,1154.8 L556.8,1202.6 M634.9,1132.6 L645.7,1159.0 L655.3,1203.3 M552.7,1154.8 L645.7,1159.0 M686.9,1133.5 L674.5,1173.2 L676.0,1203.8 M763.9,1135.0 L750.2,1178.9 L745.2,1204.5 M674.5,1173.2 L750.2,1178.9 M823.4,1136.1 L830.4,1176.5 L829.1,1205.1 M900.3,1137.5 L893.4,1159.2 L893.7,1205.8 M830.4,1176.5 L893.4,1159.2" fill="none" stroke="#fff" stroke-opacity="0.22" stroke-width="3.2" stroke-linejoin="round" filter="url(#b2)"/>
<g filter="url(#b1)">
<ellipse cx="354.0" cy="1236.1" rx="25.8" ry="1.6" fill="#9c9c9c" fill-opacity="0.55" transform="rotate(1.1 354.0 1236.1)"/>
<ellipse cx="601.8" cy="1246.8" rx="18.9" ry="1.6" fill="#9c9c9c" fill-opacity="0.55" transform="rotate(1.4 601.8 1246.8)"/>
<ellipse cx="414.4" cy="1234.2" rx="21.6" ry="2.1" fill="#9c9c9c" fill-opacity="0.55" transform="rotate(0.3 414.4 1234.2)"/>
<ellipse cx="169.9" cy="1240.4" rx="29.6" ry="1.0" fill="#9c9c9c" fill-opacity="0.55" transform="rotate(1.3 169.9 1240.4)"/>
<ellipse cx="903.3" cy="1237.2" rx="7.0" ry="1.1" fill="#9c9c9c" fill-opacity="0.55" transform="rotate(0.4 903.3 1237.2)"/>
<ellipse cx="324.6" cy="1241.6" rx="31.8" ry="2.1" fill="#9c9c9c" fill-opacity="0.55" transform="rotate(2.0 324.6 1241.6)"/>
<ellipse cx="674.4" cy="1241.9" rx="26.7" ry="2.1" fill="#9c9c9c" fill-opacity="0.55" transform="rotate(-0.0 674.4 1241.9)"/>
<ellipse cx="747.9" cy="1243.6" rx="8.9" ry="1.7" fill="#9c9c9c" fill-opacity="0.55" transform="rotate(2.4 747.9 1243.6)"/>
<ellipse cx="908.1" cy="1239.2" rx="22.7" ry="2.0" fill="#9c9c9c" fill-opacity="0.55" transform="rotate(1.2 908.1 1239.2)"/>
<ellipse cx="365.6" cy="1245.0" rx="31.7" ry="1.0" fill="#9c9c9c" fill-opacity="0.55" transform="rotate(2.1 365.6 1245.0)"/>
<ellipse cx="816.8" cy="1240.6" rx="20.0" ry="0.9" fill="#9c9c9c" fill-opacity="0.55" transform="rotate(-0.7 816.8 1240.6)"/>
<ellipse cx="781.1" cy="1240.9" rx="22.9" ry="1.4" fill="#9c9c9c" fill-opacity="0.55" transform="rotate(0.1 781.1 1240.9)"/>
<ellipse cx="229.1" cy="1234.2" rx="9.8" ry="1.9" fill="#9c9c9c" fill-opacity="0.55" transform="rotate(-0.7 229.1 1234.2)"/>
<ellipse cx="100.6" cy="1238.3" rx="19.3" ry="1.0" fill="#9c9c9c" fill-opacity="0.55" transform="rotate(0.6 100.6 1238.3)"/>
<ellipse cx="384.5" cy="1242.6" rx="26.1" ry="1.1" fill="#9c9c9c" fill-opacity="0.55" transform="rotate(2.1 384.5 1242.6)"/>
<ellipse cx="258.9" cy="1242.4" rx="27.3" ry="1.2" fill="#9c9c9c" fill-opacity="0.55" transform="rotate(-0.1 258.9 1242.4)"/>
<ellipse cx="217.1" cy="1234.4" rx="10.6" ry="2.1" fill="#9c9c9c" fill-opacity="0.55" transform="rotate(0.2 217.1 1234.4)"/>
<ellipse cx="658.2" cy="1237.8" rx="21.6" ry="2.2" fill="#9c9c9c" fill-opacity="0.55" transform="rotate(-0.2 658.2 1237.8)"/>
<ellipse cx="826.6" cy="1238.9" rx="26.5" ry="1.0" fill="#9c9c9c" fill-opacity="0.55" transform="rotate(1.7 826.6 1238.9)"/>
<ellipse cx="712.4" cy="1240.0" rx="8.1" ry="1.7" fill="#9c9c9c" fill-opacity="0.55" transform="rotate(2.2 712.4 1240.0)"/>
<ellipse cx="905.3" cy="1246.6" rx="22.8" ry="1.5" fill="#9c9c9c" fill-opacity="0.55" transform="rotate(1.5 905.3 1246.6)"/>
<ellipse cx="672.1" cy="1245.2" rx="12.1" ry="1.5" fill="#9c9c9c" fill-opacity="0.55" transform="rotate(2.3 672.1 1245.2)"/>
<ellipse cx="780.8" cy="1237.5" rx="29.4" ry="1.2" fill="#9c9c9c" fill-opacity="0.55" transform="rotate(2.1 780.8 1237.5)"/>
<ellipse cx="474.1" cy="1239.4" rx="24.4" ry="1.8" fill="#9c9c9c" fill-opacity="0.55" transform="rotate(1.5 474.1 1239.4)"/>
<ellipse cx="824.6" cy="1247.9" rx="10.6" ry="1.4" fill="#9c9c9c" fill-opacity="0.55" transform="rotate(1.9 824.6 1247.9)"/>
<ellipse cx="292.3" cy="1236.9" rx="21.0" ry="0.9" fill="#9c9c9c" fill-opacity="0.55" transform="rotate(2.2 292.3 1236.9)"/>
<ellipse cx="808.2" cy="1236.5" rx="26.9" ry="1.5" fill="#9c9c9c" fill-opacity="0.55" transform="rotate(0.7 808.2 1236.5)"/>
<ellipse cx="899.0" cy="1247.7" rx="10.2" ry="1.7" fill="#9c9c9c" fill-opacity="0.55" transform="rotate(-0.3 899.0 1247.7)"/>
<ellipse cx="682.9" cy="1241.1" rx="23.5" ry="1.5" fill="#9c9c9c" fill-opacity="0.55" transform="rotate(2.1 682.9 1241.1)"/>
<ellipse cx="76.0" cy="1244.2" rx="9.8" ry="2.0" fill="#9c9c9c" fill-opacity="0.55" transform="rotate(0.0 76.0 1244.2)"/>
<ellipse cx="319.7" cy="1235.9" rx="21.6" ry="1.8" fill="#9c9c9c" fill-opacity="0.55" transform="rotate(1.8 319.7 1235.9)"/>
<ellipse cx="703.4" cy="1244.5" rx="12.1" ry="1.8" fill="#9c9c9c" fill-opacity="0.55" transform="rotate(-0.4 703.4 1244.5)"/>
<ellipse cx="420.9" cy="1241.4" rx="21.2" ry="1.8" fill="#9c9c9c" fill-opacity="0.55" transform="rotate(-0.7 420.9 1241.4)"/>
<ellipse cx="230.9" cy="1240.0" rx="7.6" ry="1.3" fill="#9c9c9c" fill-opacity="0.55" transform="rotate(2.0 230.9 1240.0)"/>
<ellipse cx="573.4" cy="1246.3" rx="7.7" ry="1.5" fill="#9c9c9c" fill-opacity="0.55" transform="rotate(-0.4 573.4 1246.3)"/>
<ellipse cx="448.1" cy="1244.5" rx="31.4" ry="0.8" fill="#9c9c9c" fill-opacity="0.55" transform="rotate(-0.0 448.1 1244.5)"/>
<ellipse cx="850.2" cy="1239.8" rx="18.2" ry="1.6" fill="#9c9c9c" fill-opacity="0.55" transform="rotate(-0.1 850.2 1239.8)"/>
<ellipse cx="384.4" cy="1234.7" rx="20.6" ry="1.1" fill="#9c9c9c" fill-opacity="0.55" transform="rotate(0.0 384.4 1234.7)"/>
<ellipse cx="818.0" cy="1244.2" rx="29.7" ry="0.9" fill="#9c9c9c" fill-opacity="0.55" transform="rotate(1.5 818.0 1244.2)"/>
<ellipse cx="559.0" cy="1246.4" rx="25.6" ry="1.0" fill="#9c9c9c" fill-opacity="0.55" transform="rotate(1.9 559.0 1246.4)"/>
<ellipse cx="89.9" cy="1241.3" rx="7.8" ry="1.3" fill="#9c9c9c" fill-opacity="0.55" transform="rotate(-0.3 89.9 1241.3)"/>
<ellipse cx="275.5" cy="1238.6" rx="18.0" ry="1.8" fill="#9c9c9c" fill-opacity="0.55" transform="rotate(1.6 275.5 1238.6)"/>
<ellipse cx="466.8" cy="1243.7" rx="21.9" ry="2.0" fill="#9c9c9c" fill-opacity="0.55" transform="rotate(0.0 466.8 1243.7)"/>
<ellipse cx="173.9" cy="1239.0" rx="28.7" ry="2.2" fill="#9c9c9c" fill-opacity="0.55" transform="rotate(0.6 173.9 1239.0)"/>
<ellipse cx="386.7" cy="1241.7" rx="31.3" ry="1.5" fill="#9c9c9c" fill-opacity="0.55" transform="rotate(1.2 386.7 1241.7)"/>
<ellipse cx="658.2" cy="1244.1" rx="8.8" ry="1.6" fill="#9c9c9c" fill-opacity="0.55" transform="rotate(0.1 658.2 1244.1)"/>
<ellipse cx="229.5" cy="1234.5" rx="11.0" ry="1.5" fill="#9c9c9c" fill-opacity="0.55" transform="rotate(1.7 229.5 1234.5)"/>
<ellipse cx="729.0" cy="1245.1" rx="17.1" ry="1.0" fill="#9c9c9c" fill-opacity="0.55" transform="rotate(-0.1 729.0 1245.1)"/>
<ellipse cx="844.5" cy="1244.1" rx="20.9" ry="1.1" fill="#9c9c9c" fill-opacity="0.55" transform="rotate(1.6 844.5 1244.1)"/>
<ellipse cx="827.9" cy="1242.3" rx="12.8" ry="0.9" fill="#9c9c9c" fill-opacity="0.55" transform="rotate(0.1 827.9 1242.3)"/>
<ellipse cx="547.8" cy="1239.9" rx="21.9" ry="1.7" fill="#9c9c9c" fill-opacity="0.55" transform="rotate(0.2 547.8 1239.9)"/>
<ellipse cx="525.9" cy="1239.5" rx="22.5" ry="1.9" fill="#9c9c9c" fill-opacity="0.55" transform="rotate(-0.6 525.9 1239.5)"/>
<ellipse cx="127.4" cy="1244.4" rx="23.2" ry="1.0" fill="#9c9c9c" fill-opacity="0.55" transform="rotate(-0.9 127.4 1244.4)"/>
<ellipse cx="503.2" cy="1234.8" rx="23.0" ry="1.1" fill="#9c9c9c" fill-opacity="0.55" transform="rotate(0.8 503.2 1234.8)"/>
<ellipse cx="201.1" cy="1238.9" rx="8.0" ry="1.7" fill="#9c9c9c" fill-opacity="0.55" transform="rotate(2.2 201.1 1238.9)"/>
<ellipse cx="381.0" cy="1246.8" rx="30.4" ry="1.6" fill="#9c9c9c" fill-opacity="0.55" transform="rotate(-0.7 381.0 1246.8)"/>
<ellipse cx="536.1" cy="1245.4" rx="17.2" ry="1.2" fill="#9c9c9c" fill-opacity="0.55" transform="rotate(1.7 536.1 1245.4)"/>
<ellipse cx="856.5" cy="1242.0" rx="30.5" ry="1.9" fill="#9c9c9c" fill-opacity="0.55" transform="rotate(2.3 856.5 1242.0)"/>
<ellipse cx="123.3" cy="1245.2" rx="25.1" ry="1.1" fill="#9c9c9c" fill-opacity="0.55" transform="rotate(0.4 123.3 1245.2)"/>
<ellipse cx="480.3" cy="1246.5" rx="26.0" ry="1.5" fill="#9c9c9c" fill-opacity="0.55" transform="rotate(-0.9 480.3 1246.5)"/>
</g>
<g filter="url(#b1)">
<ellipse cx="409.3" cy="1224.3" rx="4.9" ry="1.1" fill="#f4f4f4" fill-opacity="0.7" transform="rotate(-1.0 409.3 1224.3)"/>
<ellipse cx="255.0" cy="1222.2" rx="9.0" ry="1.4" fill="#f4f4f4" fill-opacity="0.7" transform="rotate(1.7 255.0 1222.2)"/>
<ellipse cx="147.2" cy="1219.2" rx="6.3" ry="1.0" fill="#f4f4f4" fill-opacity="0.7" transform="rotate(2.2 147.2 1219.2)"/>
<ellipse cx="781.6" cy="1226.9" rx="6.0" ry="1.3" fill="#f4f4f4" fill-opacity="0.7" transform="rotate(-0.5 781.6 1226.9)"/>
<ellipse cx="286.9" cy="1222.4" rx="8.4" ry="1.0" fill="#f4f4f4" fill-opacity="0.7" transform="rotate(-0.1 286.9 1222.4)"/>
<ellipse cx="227.2" cy="1218.2" rx="6.1" ry="0.8" fill="#f4f4f4" fill-opacity="0.7" transform="rotate(-0.9 227.2 1218.2)"/>
<ellipse cx="558.4" cy="1220.8" rx="4.3" ry="1.4" fill="#f4f4f4" fill-opacity="0.7" transform="rotate(1.2 558.4 1220.8)"/>
<ellipse cx="163.0" cy="1222.6" rx="6.5" ry="0.8" fill="#f4f4f4" fill-opacity="0.7" transform="rotate(1.0 163.0 1222.6)"/>
<ellipse cx="195.7" cy="1218.7" rx="7.4" ry="1.0" fill="#f4f4f4" fill-opacity="0.7" transform="rotate(2.1 195.7 1218.7)"/>
<ellipse cx="840.3" cy="1227.0" rx="11.5" ry="0.9" fill="#f4f4f4" fill-opacity="0.7" transform="rotate(-0.7 840.3 1227.0)"/>
<ellipse cx="245.9" cy="1223.1" rx="4.4" ry="1.1" fill="#f4f4f4" fill-opacity="0.7" transform="rotate(0.3 245.9 1223.1)"/>
<ellipse cx="722.6" cy="1221.1" rx="7.9" ry="1.0" fill="#f4f4f4" fill-opacity="0.7" transform="rotate(1.7 722.6 1221.1)"/>
<ellipse cx="181.1" cy="1217.5" rx="12.6" ry="1.0" fill="#f4f4f4" fill-opacity="0.7" transform="rotate(1.7 181.1 1217.5)"/>
<ellipse cx="364.7" cy="1224.1" rx="10.7" ry="1.3" fill="#f4f4f4" fill-opacity="0.7" transform="rotate(0.6 364.7 1224.1)"/>
</g>
<path d="M530,1222 l4,10 l-3,12 l8,6" stroke="#555" stroke-width="3" fill="none" filter="url(#b1c)"/>
<rect x="72.4" y="1113.9" width="852.1" height="135.1" filter="url(#semNoise)" opacity="0.28"/>
</g>
<text transform="translate(97.0,1146.2)" font-size="30.2" text-anchor="start" fill="#fff" font-weight="normal" >1000 bending cycles</text>
<rect x="458.6" y="1147.0" width="375.1" height="73.0" fill="none" stroke="#ffe293" stroke-width="4.2" stroke-dasharray="17,13.4"/>
<rect x="770" y="1224.8" width="149.2" height="7" fill="#fff"/>
<clipPath id="clip_d3"><rect x="72.4" y="1264.7" width="852.1" height="161.3"/></clipPath>
<g clip-path="url(#clip_d3)">
<polygon points="70.4,1259.7 76.4,1259.7 82.4,1259.7 88.4,1259.7 94.4,1259.7 100.4,1259.7 106.4,1259.7 112.4,1259.7 118.4,1259.7 124.4,1259.7 130.4,1259.7 136.4,1259.7 142.4,1259.7 148.4,1259.7 154.4,1259.7 160.4,1259.7 166.4,1259.7 172.4,1259.7 178.4,1259.7 184.4,1259.7 190.4,1259.7 196.4,1259.7 202.4,1259.7 208.4,1259.7 214.4,1259.7 220.4,1259.7 226.4,1259.7 232.4,1259.7 238.4,1259.7 244.4,1259.7 250.4,1259.7 256.4,1259.7 262.4,1259.7 268.4,1259.7 274.4,1259.7 280.4,1259.7 286.4,1259.7 292.4,1259.7 298.4,1259.7 304.4,1259.7 310.4,1259.7 316.4,1259.7 322.4,1259.7 328.4,1259.7 334.4,1259.7 340.4,1259.7 346.4,1259.7 352.4,1259.7 358.4,1259.7 364.4,1259.7 370.4,1259.7 376.4,1259.7 382.4,1259.7 388.4,1259.7 394.4,1259.7 400.4,1259.7 406.4,1259.7 412.4,1259.7 418.4,1259.7 424.4,1259.7 430.4,1259.7 436.4,1259.7 442.4,1259.7 448.4,1259.7 454.4,1259.7 460.4,1259.7 466.4,1259.7 472.4,1259.7 478.4,1259.7 484.4,1259.7 490.4,1259.7 496.4,1259.7 502.4,1259.7 508.4,1259.7 514.4,1259.7 520.4,1259.7 526.4,1259.7 532.4,1259.7 538.4,1259.7 544.4,1259.7 550.4,1259.7 556.4,1259.7 562.4,1259.7 568.4,1259.7 574.4,1259.7 580.4,1259.7 586.4,1259.7 592.4,1259.7 598.4,1259.7 604.4,1259.7 610.4,1259.7 616.4,1259.7 622.4,1259.7 628.4,1259.7 634.4,1259.7 640.4,1259.7 646.4,1259.7 652.4,1259.7 658.4,1259.7 664.4,1259.7 670.4,1259.7 676.4,1259.7 682.4,1259.7 688.4,1259.7 694.4,1259.7 700.4,1259.7 706.4,1259.7 712.4,1259.7 718.4,1259.7 724.4,1259.7 730.4,1259.7 736.4,1259.7 742.4,1259.7 748.4,1259.7 754.4,1259.7 760.4,1259.7 766.4,1259.7 772.4,1259.7 778.4,1259.7 784.4,1259.7 790.4,1259.7 796.4,1259.7 802.4,1259.7 808.4,1259.7 814.4,1259.7 820.4,1259.7 826.4,1259.7 832.4,1259.7 838.4,1259.7 844.4,1259.7 850.4,1259.7 856.4,1259.7 862.4,1259.7 868.4,1259.7 874.4,1259.7 880.4,1259.7 886.4,1259.7 892.4,1259.7 898.4,1259.7 904.4,1259.7 910.4,1259.7 916.4,1259.7 922.4,1259.7 926.5,1259.7 926.5,1428.0 70.4,1428.0" fill="#575757"/>
<polygon points="70.4,1293.7 84.4,1293.4 98.4,1292.3 112.4,1294.2 126.4,1294.1 140.4,1295.3 154.4,1293.8 168.4,1295.5 182.4,1293.7 196.4,1292.4 210.4,1292.8 224.4,1293.2 238.4,1294.0 252.4,1293.8 266.4,1294.8 280.4,1296.1 294.4,1295.1 308.4,1293.9 322.4,1294.1 336.4,1295.4 350.4,1296.2 364.4,1295.7 378.4,1294.8 392.4,1295.2 406.4,1296.4 420.4,1295.7 434.4,1297.1 448.4,1297.0 462.4,1297.1 476.4,1296.3 490.4,1297.7 504.4,1297.4 518.4,1295.8 532.4,1297.1 546.4,1296.7 560.4,1297.9 574.4,1297.9 588.4,1297.2 602.4,1297.5 616.4,1297.1 630.4,1296.7 644.4,1297.2 658.4,1298.3 672.4,1298.3 686.4,1298.2 700.4,1297.8 714.4,1298.6 728.4,1298.9 742.4,1299.7 756.4,1299.7 770.4,1301.4 784.4,1299.0 798.4,1299.1 812.4,1299.7 826.4,1300.4 840.4,1298.7 854.4,1298.0 868.4,1298.7 882.4,1300.1 896.4,1301.1 910.4,1299.3 924.4,1299.8 926.5,1300.0 926.5,1428.0 70.4,1428.0" fill="#9a9a9a" filter="url(#b2)"/>
<polygon points="70.4,1388.7 76.4,1388.5 82.4,1387.6 88.4,1387.3 94.4,1386.7 100.4,1387.9 106.4,1387.7 112.4,1387.5 118.4,1387.0 124.4,1387.2 130.4,1386.8 136.4,1386.6 142.4,1386.9 148.4,1387.1 154.4,1387.5 160.4,1387.6 166.4,1388.3 172.4,1387.9 178.4,1387.8 184.4,1387.8 190.4,1387.1 196.4,1387.9 202.4,1387.3 208.4,1386.3 214.4,1387.4 220.4,1387.7 226.4,1387.1 232.4,1387.7 238.4,1388.0 244.4,1388.0 250.4,1386.9 256.4,1387.0 262.4,1386.3 268.4,1386.2 274.4,1386.1 280.4,1385.9 286.4,1386.5 292.4,1386.1 298.4,1386.7 304.4,1386.8 310.4,1386.3 316.4,1386.5 322.4,1387.0 328.4,1387.5 334.4,1386.9 340.4,1387.8 346.4,1387.6 352.4,1387.8 358.4,1386.4 364.4,1385.7 370.4,1386.7 376.4,1386.4 382.4,1386.6 388.4,1387.1 394.4,1385.8 400.4,1386.2 406.4,1387.3 412.4,1387.3 418.4,1386.8 424.4,1386.8 430.4,1386.5 436.4,1386.7 442.4,1387.1 448.4,1386.5 454.4,1386.5 460.4,1386.4 466.4,1386.6 472.4,1386.7 478.4,1385.6 484.4,1386.3 490.4,1386.5 496.4,1385.5 502.4,1385.3 508.4,1384.5 514.4,1384.7 520.4,1385.2 526.4,1384.5 532.4,1384.4 538.4,1384.2 544.4,1384.2 550.4,1384.1 556.4,1383.9 562.4,1384.7 568.4,1384.8 574.4,1384.4 580.4,1385.2 586.4,1384.8 592.4,1385.4 598.4,1384.5 604.4,1385.5 610.4,1385.0 616.4,1384.3 622.4,1384.8 628.4,1383.9 634.4,1383.6 640.4,1384.2 646.4,1384.1 652.4,1384.5 658.4,1384.6 664.4,1384.7 670.4,1384.7 676.4,1385.1 682.4,1384.8 688.4,1385.3 694.4,1385.5 700.4,1383.8 706.4,1383.0 712.4,1384.4 718.4,1384.1 724.4,1384.2 730.4,1384.1 736.4,1384.3 742.4,1385.5 748.4,1384.5 754.4,1384.4 760.4,1384.2 766.4,1383.4 772.4,1383.1 778.4,1383.2 784.4,1383.5 790.4,1383.8 796.4,1382.6 802.4,1382.1 808.4,1383.7 814.4,1383.6 820.4,1384.1 826.4,1383.6 832.4,1383.2 838.4,1384.6 844.4,1383.4 850.4,1382.9 856.4,1383.5 862.4,1383.5 868.4,1382.4 874.4,1382.9 880.4,1383.5 886.4,1382.5 892.4,1382.4 898.4,1383.2 904.4,1384.3 910.4,1382.4 916.4,1382.3 922.4,1382.6 926.5,1383.0 926.5,1428.0 70.4,1428.0" fill="#858585" filter="url(#b1)"/>
<polygon points="70.4,1394.5 76.4,1394.1 82.4,1394.2 88.4,1394.8 94.4,1394.2 100.4,1395.0 106.4,1395.4 112.4,1395.7 118.4,1396.3 124.4,1395.3 130.4,1395.1 136.4,1395.5 142.4,1395.9 148.4,1396.0 154.4,1395.2 160.4,1394.6 166.4,1393.8 172.4,1393.8 178.4,1393.6 184.4,1393.6 190.4,1393.7 196.4,1394.5 202.4,1395.0 208.4,1394.7 214.4,1393.9 220.4,1394.0 226.4,1394.4 232.4,1394.8 238.4,1394.7 244.4,1395.0 250.4,1394.3 256.4,1394.6 262.4,1394.9 268.4,1394.3 274.4,1393.8 280.4,1394.6 286.4,1393.8 292.4,1394.3 298.4,1394.0 304.4,1393.7 310.4,1393.6 316.4,1393.5 322.4,1393.6 328.4,1394.7 334.4,1395.2 340.4,1394.6 346.4,1394.5 352.4,1394.7 358.4,1394.0 364.4,1395.0 370.4,1394.5 376.4,1394.5 382.4,1393.5 388.4,1392.9 394.4,1392.5 400.4,1392.5 406.4,1393.5 412.4,1393.3 418.4,1393.9 424.4,1393.4 430.4,1392.8 436.4,1393.1 442.4,1392.9 448.4,1392.1 454.4,1392.5 460.4,1393.5 466.4,1393.2 472.4,1392.5 478.4,1392.3 484.4,1391.9 490.4,1392.2 496.4,1392.0 502.4,1392.3 508.4,1392.7 514.4,1393.6 520.4,1392.6 526.4,1391.5 532.4,1393.0 538.4,1393.2 544.4,1392.8 550.4,1393.1 556.4,1392.4 562.4,1392.3 568.4,1392.9 574.4,1392.6 580.4,1392.7 586.4,1392.9 592.4,1392.9 598.4,1392.6 604.4,1392.9 610.4,1393.5 616.4,1393.9 622.4,1392.8 628.4,1393.1 634.4,1391.7 640.4,1391.1 646.4,1391.8 652.4,1392.3 658.4,1393.1 664.4,1391.7 670.4,1392.6 676.4,1392.1 682.4,1391.8 688.4,1392.2 694.4,1393.0 700.4,1392.1 706.4,1391.0 712.4,1391.1 718.4,1391.4 724.4,1392.3 730.4,1392.4 736.4,1392.0 742.4,1391.6 748.4,1391.4 754.4,1392.2 760.4,1391.0 766.4,1390.9 772.4,1390.7 778.4,1391.8 784.4,1391.8 790.4,1391.3 796.4,1391.9 802.4,1392.9 808.4,1393.0 814.4,1391.6 820.4,1391.5 826.4,1392.1 832.4,1390.8 838.4,1390.3 844.4,1390.5 850.4,1391.1 856.4,1390.7 862.4,1391.0 868.4,1391.0 874.4,1391.3 880.4,1390.6 886.4,1389.5 892.4,1388.9 898.4,1389.9 904.4,1390.9 910.4,1391.3 916.4,1390.2 922.4,1389.5 926.5,1391.0 926.5,1428.0 70.4,1428.0" fill="#666" filter="url(#b1)"/>
<ellipse cx="649.5" cy="1366.3" rx="31.3" ry="19.2" fill="#000" fill-opacity="0.05" filter="url(#b4)"/>
<ellipse cx="367.8" cy="1352.0" rx="35.6" ry="13.0" fill="#fff" fill-opacity="0.05" filter="url(#b4)"/>
<ellipse cx="127.0" cy="1315.3" rx="34.7" ry="23.7" fill="#fff" fill-opacity="0.05" filter="url(#b4)"/>
<ellipse cx="223.3" cy="1364.7" rx="36.5" ry="36.3" fill="#fff" fill-opacity="0.05" filter="url(#b4)"/>
<ellipse cx="781.5" cy="1308.6" rx="18.6" ry="21.3" fill="#000" fill-opacity="0.05" filter="url(#b4)"/>
<ellipse cx="669.8" cy="1358.2" rx="35.6" ry="28.9" fill="#000" fill-opacity="0.05" filter="url(#b4)"/>
<ellipse cx="440.8" cy="1359.6" rx="20.2" ry="34.9" fill="#000" fill-opacity="0.05" filter="url(#b4)"/>
<ellipse cx="377.4" cy="1312.1" rx="27.3" ry="20.9" fill="#000" fill-opacity="0.05" filter="url(#b4)"/>
<ellipse cx="106.6" cy="1326.5" rx="36.8" ry="27.0" fill="#fff" fill-opacity="0.05" filter="url(#b4)"/>
<ellipse cx="326.9" cy="1367.6" rx="22.9" ry="34.8" fill="#fff" fill-opacity="0.05" filter="url(#b4)"/>
<ellipse cx="854.8" cy="1323.6" rx="28.6" ry="29.1" fill="#fff" fill-opacity="0.05" filter="url(#b4)"/>
<ellipse cx="826.0" cy="1313.4" rx="39.0" ry="25.0" fill="#000" fill-opacity="0.05" filter="url(#b4)"/>
<ellipse cx="919.1" cy="1373.1" rx="23.5" ry="16.5" fill="#fff" fill-opacity="0.05" filter="url(#b4)"/>
<ellipse cx="445.0" cy="1370.0" rx="22.9" ry="11.3" fill="#000" fill-opacity="0.05" filter="url(#b4)"/>
<ellipse cx="635.0" cy="1339.6" rx="20.1" ry="15.5" fill="#fff" fill-opacity="0.05" filter="url(#b4)"/>
<ellipse cx="776.4" cy="1352.4" rx="27.3" ry="30.0" fill="#fff" fill-opacity="0.05" filter="url(#b4)"/>
<ellipse cx="510.7" cy="1353.1" rx="26.7" ry="30.0" fill="#000" fill-opacity="0.05" filter="url(#b4)"/>
<ellipse cx="911.6" cy="1363.9" rx="31.9" ry="24.3" fill="#fff" fill-opacity="0.05" filter="url(#b4)"/>
<ellipse cx="524.1" cy="1356.2" rx="39.6" ry="13.0" fill="#000" fill-opacity="0.05" filter="url(#b4)"/>
<ellipse cx="254.2" cy="1323.4" rx="16.8" ry="22.6" fill="#000" fill-opacity="0.05" filter="url(#b4)"/>
<rect x="175" y="1373.2" width="76" height="5.6" rx="2.6" fill="#585858" fill-opacity="0.85" filter="url(#b1)" transform="rotate(0.75 175 1376)"/>
<rect x="266" y="1374.2" width="125" height="5.6" rx="2.6" fill="#585858" fill-opacity="0.85" filter="url(#b1)" transform="rotate(0.46 266 1377)"/>
<rect x="434" y="1373.7" width="126" height="5.6" rx="2.6" fill="#585858" fill-opacity="0.85" filter="url(#b1)" transform="rotate(0.68 434 1376.5)"/>
<rect x="575" y="1375.2" width="125" height="5.6" rx="2.6" fill="#585858" fill-opacity="0.85" filter="url(#b1)" transform="rotate(-0.46 575 1378)"/>
<rect x="720" y="1374.2" width="148" height="5.6" rx="2.6" fill="#585858" fill-opacity="0.85" filter="url(#b1)" transform="rotate(-0.39 720 1377)"/>
<path d="M189,1309 L167,1377" stroke="#666" stroke-width="7.5" fill="none" filter="url(#b1c)" stroke-opacity="0.85"/>
<path d="M886,1308 L872,1374" stroke="#7a7a7a" stroke-width="4" fill="none" filter="url(#b1c)" stroke-opacity="0.7"/>
<polygon points="132,1290 140,1276 200,1275 214,1288 214,1296 132,1296" fill="#8c8c8c" filter="url(#b1)"/>
<ellipse cx="129" cy="1331" rx="4.5" ry="3" fill="#555" filter="url(#b1)"/>
<g filter="url(#b1)">
<ellipse cx="437.0" cy="1410.5" rx="11.7" ry="1.0" fill="#e8e8e8" fill-opacity="0.7" transform="rotate(2.4 437.0 1410.5)"/>
<ellipse cx="603.7" cy="1413.0" rx="16.1" ry="1.0" fill="#e8e8e8" fill-opacity="0.7" transform="rotate(0.9 603.7 1413.0)"/>
<ellipse cx="290.1" cy="1408.9" rx="15.0" ry="1.0" fill="#e8e8e8" fill-opacity="0.7" transform="rotate(-0.2 290.1 1408.9)"/>
<ellipse cx="526.8" cy="1411.3" rx="20.1" ry="1.0" fill="#e8e8e8" fill-opacity="0.7" transform="rotate(-0.7 526.8 1411.3)"/>
<ellipse cx="614.1" cy="1412.7" rx="16.8" ry="1.5" fill="#e8e8e8" fill-opacity="0.7" transform="rotate(-0.5 614.1 1412.7)"/>
<ellipse cx="630.7" cy="1411.9" rx="20.5" ry="1.0" fill="#e8e8e8" fill-opacity="0.7" transform="rotate(-0.0 630.7 1411.9)"/>
<ellipse cx="450.6" cy="1409.1" rx="19.6" ry="1.1" fill="#e8e8e8" fill-opacity="0.7" transform="rotate(-0.7 450.6 1409.1)"/>
<ellipse cx="288.5" cy="1408.5" rx="21.1" ry="1.9" fill="#e8e8e8" fill-opacity="0.7" transform="rotate(1.3 288.5 1408.5)"/>
<ellipse cx="399.1" cy="1407.2" rx="19.1" ry="1.0" fill="#e8e8e8" fill-opacity="0.7" transform="rotate(-0.3 399.1 1407.2)"/>
<ellipse cx="402.7" cy="1413.8" rx="8.1" ry="0.9" fill="#e8e8e8" fill-opacity="0.7" transform="rotate(2.2 402.7 1413.8)"/>
<ellipse cx="223.5" cy="1411.9" rx="7.4" ry="1.2" fill="#e8e8e8" fill-opacity="0.7" transform="rotate(-0.3 223.5 1411.9)"/>
<ellipse cx="404.3" cy="1414.2" rx="19.3" ry="1.4" fill="#e8e8e8" fill-opacity="0.7" transform="rotate(-0.7 404.3 1414.2)"/>
<ellipse cx="293.8" cy="1408.7" rx="18.5" ry="1.9" fill="#e8e8e8" fill-opacity="0.7" transform="rotate(-0.9 293.8 1408.7)"/>
<ellipse cx="360.4" cy="1414.3" rx="7.6" ry="0.9" fill="#e8e8e8" fill-opacity="0.7" transform="rotate(-0.1 360.4 1414.3)"/>
<ellipse cx="593.5" cy="1409.9" rx="17.3" ry="0.9" fill="#e8e8e8" fill-opacity="0.7" transform="rotate(1.3 593.5 1409.9)"/>
<ellipse cx="291.0" cy="1411.1" rx="17.6" ry="1.9" fill="#e8e8e8" fill-opacity="0.7" transform="rotate(0.5 291.0 1411.1)"/>
<ellipse cx="633.6" cy="1411.2" rx="21.1" ry="1.9" fill="#e8e8e8" fill-opacity="0.7" transform="rotate(2.5 633.6 1411.2)"/>
<ellipse cx="264.5" cy="1408.4" rx="16.8" ry="1.9" fill="#e8e8e8" fill-opacity="0.7" transform="rotate(-0.1 264.5 1408.4)"/>
<ellipse cx="542.7" cy="1411.4" rx="5.1" ry="0.9" fill="#e8e8e8" fill-opacity="0.7" transform="rotate(-1.0 542.7 1411.4)"/>
<ellipse cx="316.0" cy="1413.9" rx="16.5" ry="1.8" fill="#e8e8e8" fill-opacity="0.7" transform="rotate(2.2 316.0 1413.9)"/>
<ellipse cx="385.0" cy="1412.4" rx="16.1" ry="1.6" fill="#e8e8e8" fill-opacity="0.7" transform="rotate(-0.7 385.0 1412.4)"/>
<ellipse cx="593.2" cy="1409.0" rx="12.6" ry="1.6" fill="#e8e8e8" fill-opacity="0.7" transform="rotate(1.6 593.2 1409.0)"/>
<ellipse cx="567.1" cy="1410.2" rx="10.1" ry="1.7" fill="#e8e8e8" fill-opacity="0.7" transform="rotate(-0.8 567.1 1410.2)"/>
<ellipse cx="586.9" cy="1410.3" rx="11.7" ry="1.2" fill="#e8e8e8" fill-opacity="0.7" transform="rotate(1.5 586.9 1410.3)"/>
<ellipse cx="293.0" cy="1407.4" rx="6.1" ry="1.0" fill="#e8e8e8" fill-opacity="0.7" transform="rotate(1.2 293.0 1407.4)"/>
<ellipse cx="635.4" cy="1408.0" rx="12.9" ry="1.2" fill="#e8e8e8" fill-opacity="0.7" transform="rotate(0.1 635.4 1408.0)"/>
</g>
<g filter="url(#b1)">
<ellipse cx="617.8" cy="1413.3" rx="16.2" ry="1.5" fill="#dcdcdc" fill-opacity="0.6" transform="rotate(-0.8 617.8 1413.3)"/>
<ellipse cx="528.0" cy="1423.1" rx="23.2" ry="3.0" fill="#dcdcdc" fill-opacity="0.6" transform="rotate(1.8 528.0 1423.1)"/>
<ellipse cx="787.5" cy="1414.7" rx="8.6" ry="3.0" fill="#dcdcdc" fill-opacity="0.6" transform="rotate(1.4 787.5 1414.7)"/>
<ellipse cx="780.9" cy="1413.7" rx="25.0" ry="2.1" fill="#dcdcdc" fill-opacity="0.6" transform="rotate(-0.7 780.9 1413.7)"/>
<ellipse cx="560.5" cy="1423.6" rx="20.9" ry="1.2" fill="#dcdcdc" fill-opacity="0.6" transform="rotate(-0.7 560.5 1423.6)"/>
<ellipse cx="792.7" cy="1416.2" rx="17.5" ry="1.3" fill="#dcdcdc" fill-opacity="0.6" transform="rotate(-0.4 792.7 1416.2)"/>
<ellipse cx="683.8" cy="1417.1" rx="10.5" ry="1.3" fill="#dcdcdc" fill-opacity="0.6" transform="rotate(0.6 683.8 1417.1)"/>
<ellipse cx="518.8" cy="1412.7" rx="17.4" ry="1.1" fill="#dcdcdc" fill-opacity="0.6" transform="rotate(1.6 518.8 1412.7)"/>
<ellipse cx="800.2" cy="1420.5" rx="28.8" ry="1.3" fill="#dcdcdc" fill-opacity="0.6" transform="rotate(0.5 800.2 1420.5)"/>
<ellipse cx="648.4" cy="1412.9" rx="26.6" ry="1.1" fill="#dcdcdc" fill-opacity="0.6" transform="rotate(2.4 648.4 1412.9)"/>
<ellipse cx="760.6" cy="1423.8" rx="7.4" ry="2.8" fill="#dcdcdc" fill-opacity="0.6" transform="rotate(2.4 760.6 1423.8)"/>
<ellipse cx="804.6" cy="1419.0" rx="21.6" ry="2.0" fill="#dcdcdc" fill-opacity="0.6" transform="rotate(2.0 804.6 1419.0)"/>
<ellipse cx="718.7" cy="1418.6" rx="15.7" ry="2.3" fill="#dcdcdc" fill-opacity="0.6" transform="rotate(1.1 718.7 1418.6)"/>
<ellipse cx="874.3" cy="1421.3" rx="13.9" ry="2.4" fill="#dcdcdc" fill-opacity="0.6" transform="rotate(-0.2 874.3 1421.3)"/>
<ellipse cx="677.1" cy="1418.3" rx="23.4" ry="1.1" fill="#dcdcdc" fill-opacity="0.6" transform="rotate(-0.5 677.1 1418.3)"/>
<ellipse cx="548.6" cy="1419.4" rx="10.1" ry="2.1" fill="#dcdcdc" fill-opacity="0.6" transform="rotate(2.1 548.6 1419.4)"/>
<ellipse cx="653.8" cy="1414.7" rx="20.3" ry="1.8" fill="#dcdcdc" fill-opacity="0.6" transform="rotate(0.5 653.8 1414.7)"/>
<ellipse cx="546.6" cy="1420.2" rx="14.3" ry="3.0" fill="#dcdcdc" fill-opacity="0.6" transform="rotate(0.7 546.6 1420.2)"/>
<ellipse cx="763.4" cy="1423.1" rx="29.6" ry="1.0" fill="#dcdcdc" fill-opacity="0.6" transform="rotate(2.2 763.4 1423.1)"/>
<ellipse cx="514.5" cy="1423.4" rx="24.9" ry="1.5" fill="#dcdcdc" fill-opacity="0.6" transform="rotate(1.5 514.5 1423.4)"/>
<ellipse cx="712.1" cy="1417.4" rx="21.0" ry="1.9" fill="#dcdcdc" fill-opacity="0.6" transform="rotate(1.3 712.1 1417.4)"/>
<ellipse cx="768.9" cy="1412.1" rx="21.3" ry="2.4" fill="#dcdcdc" fill-opacity="0.6" transform="rotate(2.0 768.9 1412.1)"/>
<ellipse cx="700.5" cy="1418.5" rx="9.5" ry="1.4" fill="#dcdcdc" fill-opacity="0.6" transform="rotate(2.1 700.5 1418.5)"/>
<ellipse cx="496.7" cy="1422.8" rx="9.0" ry="1.8" fill="#dcdcdc" fill-opacity="0.6" transform="rotate(1.2 496.7 1422.8)"/>
<ellipse cx="482.8" cy="1417.4" rx="25.2" ry="1.8" fill="#dcdcdc" fill-opacity="0.6" transform="rotate(-0.4 482.8 1417.4)"/>
<ellipse cx="495.6" cy="1423.4" rx="8.5" ry="2.3" fill="#dcdcdc" fill-opacity="0.6" transform="rotate(1.2 495.6 1423.4)"/>
<ellipse cx="590.3" cy="1418.7" rx="22.5" ry="1.4" fill="#dcdcdc" fill-opacity="0.6" transform="rotate(-0.1 590.3 1418.7)"/>
<ellipse cx="867.3" cy="1414.5" rx="17.7" ry="1.9" fill="#dcdcdc" fill-opacity="0.6" transform="rotate(1.7 867.3 1414.5)"/>
<ellipse cx="838.5" cy="1421.2" rx="21.0" ry="2.1" fill="#dcdcdc" fill-opacity="0.6" transform="rotate(-0.7 838.5 1421.2)"/>
<ellipse cx="716.9" cy="1417.2" rx="24.1" ry="1.8" fill="#dcdcdc" fill-opacity="0.6" transform="rotate(-0.6 716.9 1417.2)"/>
</g>
<rect x="72.4" y="1264.7" width="852.1" height="161.3" filter="url(#semNoise)" opacity="0.28"/>
</g>
<text transform="translate(94.8,1302.8)" font-size="30.2" text-anchor="start" fill="#fff" font-weight="normal" >2500 bending cycles</text>
<rect x="157.4" y="1342.7" width="747.6" height="52.7" fill="none" stroke="#ffe293" stroke-width="4.2" stroke-dasharray="17,13.4"/>
<rect x="770" y="1413.5" width="149.2" height="7" fill="#fff"/>
<text transform="translate(714.5,1300.4) scale(1.05,1)" font-size="30" text-anchor="start" fill="#ffe090" font-weight="normal" >delamination</text>
<line x1="768.6" y1="1267.4" x2="708" y2="1236" stroke="#fdb600" stroke-width="2.2"/>
<polygon points="695.6,1229.6 714.5,1232.4 708.2,1243.6" fill="#fdb600"/>
<line x1="761" y1="1311.7" x2="714" y2="1332.5" stroke="#fdb600" stroke-width="2.2"/>
<polygon points="701.8,1338 714.2,1325.4 719.4,1337" fill="#fdb600"/>
</g>
<g id="panel_e">
<clipPath id="clip_e1"><rect x="1090" y="925" width="852.3" height="172.7"/></clipPath>
<g clip-path="url(#clip_e1)">
<polygon points="1088.0,920.0 1094.0,920.0 1100.0,920.0 1106.0,920.0 1112.0,920.0 1118.0,920.0 1124.0,920.0 1130.0,920.0 1136.0,920.0 1142.0,920.0 1148.0,920.0 1154.0,920.0 1160.0,920.0 1166.0,920.0 1172.0,920.0 1178.0,920.0 1184.0,920.0 1190.0,920.0 1196.0,920.0 1202.0,920.0 1208.0,920.0 1214.0,920.0 1220.0,920.0 1226.0,920.0 1232.0,920.0 1238.0,920.0 1244.0,920.0 1250.0,920.0 1256.0,920.0 1262.0,920.0 1268.0,920.0 1274.0,920.0 1280.0,920.0 1286.0,920.0 1292.0,920.0 1298.0,920.0 1304.0,920.0 1310.0,920.0 1316.0,920.0 1322.0,920.0 1328.0,920.0 1334.0,920.0 1340.0,920.0 1346.0,920.0 1352.0,920.0 1358.0,920.0 1364.0,920.0 1370.0,920.0 1376.0,920.0 1382.0,920.0 1388.0,920.0 1394.0,920.0 1400.0,920.0 1406.0,920.0 1412.0,920.0 1418.0,920.0 1424.0,920.0 1430.0,920.0 1436.0,920.0 1442.0,920.0 1448.0,920.0 1454.0,920.0 1460.0,920.0 1466.0,920.0 1472.0,920.0 1478.0,920.0 1484.0,920.0 1490.0,920.0 1496.0,920.0 1502.0,920.0 1508.0,920.0 1514.0,920.0 1520.0,920.0 1526.0,920.0 1532.0,920.0 1538.0,920.0 1544.0,920.0 1550.0,920.0 1556.0,920.0 1562.0,920.0 1568.0,920.0 1574.0,920.0 1580.0,920.0 1586.0,920.0 1592.0,920.0 1598.0,920.0 1604.0,920.0 1610.0,920.0 1616.0,920.0 1622.0,920.0 1628.0,920.0 1634.0,920.0 1640.0,920.0 1646.0,920.0 1652.0,920.0 1658.0,920.0 1664.0,920.0 1670.0,920.0 1676.0,920.0 1682.0,920.0 1688.0,920.0 1694.0,920.0 1700.0,920.0 1706.0,920.0 1712.0,920.0 1718.0,920.0 1724.0,920.0 1730.0,920.0 1736.0,920.0 1742.0,920.0 1748.0,920.0 1754.0,920.0 1760.0,920.0 1766.0,920.0 1772.0,920.0 1778.0,920.0 1784.0,920.0 1790.0,920.0 1796.0,920.0 1802.0,920.0 1808.0,920.0 1814.0,920.0 1820.0,920.0 1826.0,920.0 1832.0,920.0 1838.0,920.0 1844.0,920.0 1850.0,920.0 1856.0,920.0 1862.0,920.0 1868.0,920.0 1874.0,920.0 1880.0,920.0 1886.0,920.0 1892.0,920.0 1898.0,920.0 1904.0,920.0 1910.0,920.0 1916.0,920.0 1922.0,920.0 1928.0,920.0 1934.0,920.0 1940.0,920.0 1944.3,920.0 1944.3,1099.7 1088.0,1099.7" fill="#717171"/>
<polygon points="1088.0,974.7 1093.0,975.2 1098.0,975.4 1103.0,976.3 1108.0,976.1 1113.0,976.9 1118.0,977.7 1123.0,976.5 1128.0,975.7 1133.0,974.9 1138.0,975.0 1143.0,974.6 1148.0,975.1 1153.0,975.6 1158.0,976.2 1163.0,975.1 1168.0,976.4 1173.0,976.0 1178.0,975.9 1183.0,975.5 1188.0,974.0 1193.0,975.1 1198.0,974.0 1203.0,975.9 1208.0,976.1 1213.0,977.6 1218.0,977.8 1223.0,977.9 1228.0,978.6 1233.0,977.8 1238.0,978.7 1243.0,977.8 1248.0,977.6 1253.0,976.7 1258.0,977.3 1263.0,977.7 1268.0,977.0 1273.0,975.9 1278.0,976.3 1283.0,977.0 1288.0,977.0 1293.0,976.2 1298.0,976.0 1303.0,976.3 1308.0,974.4 1313.0,975.1 1318.0,977.4 1323.0,976.3 1328.0,976.6 1333.0,978.6 1338.0,978.9 1343.0,979.3 1348.0,978.6 1353.0,977.1 1358.0,980.0 1363.0,979.5 1368.0,979.1 1373.0,980.2 1378.0,980.1 1383.0,979.4 1388.0,977.9 1393.0,978.0 1398.0,978.0 1403.0,977.5 1408.0,977.1 1413.0,976.8 1418.0,977.4 1423.0,977.4 1428.0,978.2 1433.0,979.3 1438.0,979.4 1443.0,979.2 1448.0,980.5 1453.0,980.4 1458.0,978.5 1463.0,978.1 1468.0,978.7 1473.0,978.1 1478.0,979.2 1483.0,977.6 1488.0,976.6 1493.0,978.6 1498.0,979.4 1503.0,978.0 1508.0,978.7 1513.0,980.2 1518.0,979.0 1523.0,978.2 1528.0,977.7 1533.0,977.7 1538.0,977.0 1543.0,977.7 1548.0,977.3 1553.0,978.4 1558.0,981.1 1563.0,979.7 1568.0,980.7 1573.0,981.5 1578.0,979.0 1583.0,979.6 1588.0,979.9 1593.0,979.8 1598.0,980.8 1603.0,980.3 1608.0,980.7 1613.0,980.3 1618.0,980.3 1623.0,979.8 1628.0,982.2 1633.0,981.6 1638.0,980.3 1643.0,982.3 1648.0,983.2 1653.0,982.1 1658.0,981.1 1663.0,980.5 1668.0,981.9 1673.0,981.3 1678.0,980.7 1683.0,981.7 1688.0,981.3 1693.0,981.3 1698.0,983.1 1703.0,983.3 1708.0,983.7 1713.0,983.3 1718.0,983.8 1723.0,982.8 1728.0,983.3 1733.0,983.7 1738.0,982.6 1743.0,981.2 1748.0,982.0 1753.0,981.9 1758.0,982.5 1763.0,981.9 1768.0,982.5 1773.0,983.3 1778.0,985.0 1783.0,985.6 1788.0,984.7 1793.0,985.1 1798.0,983.5 1803.0,984.2 1808.0,983.7 1813.0,984.5 1818.0,984.1 1823.0,983.4 1828.0,982.5 1833.0,983.8 1838.0,983.5 1843.0,984.0 1848.0,984.0 1853.0,981.8 1858.0,982.9 1863.0,982.7 1868.0,983.3 1873.0,983.7 1878.0,982.0 1883.0,982.3 1888.0,982.7 1893.0,983.4 1898.0,984.3 1903.0,983.4 1908.0,983.3 1913.0,984.1 1918.0,982.3 1923.0,984.6 1928.0,983.5 1933.0,984.9 1938.0,984.6 1943.0,986.1 1944.3,984.0 1944.3,1099.7 1088.0,1099.7" fill="#ababab"/>
<polygon points="1088.0,1058.6 1094.0,1058.4 1100.0,1057.2 1106.0,1057.7 1112.0,1058.0 1118.0,1058.4 1124.0,1057.6 1130.0,1057.3 1136.0,1057.2 1142.0,1057.8 1148.0,1057.4 1154.0,1057.7 1160.0,1058.5 1166.0,1058.2 1172.0,1059.0 1178.0,1058.9 1184.0,1058.6 1190.0,1059.1 1196.0,1059.1 1202.0,1058.7 1208.0,1058.2 1214.0,1058.3 1220.0,1058.6 1226.0,1059.2 1232.0,1059.1 1238.0,1058.5 1244.0,1057.8 1250.0,1058.2 1256.0,1058.6 1262.0,1059.3 1268.0,1058.7 1274.0,1057.9 1280.0,1058.7 1286.0,1058.6 1292.0,1058.0 1298.0,1059.3 1304.0,1059.6 1310.0,1059.3 1316.0,1059.3 1322.0,1058.7 1328.0,1059.3 1334.0,1058.9 1340.0,1058.6 1346.0,1058.6 1352.0,1058.1 1358.0,1059.0 1364.0,1060.0 1370.0,1060.1 1376.0,1058.4 1382.0,1058.5 1388.0,1058.4 1394.0,1058.9 1400.0,1057.7 1406.0,1057.0 1412.0,1057.6 1418.0,1058.8 1424.0,1058.9 1430.0,1060.3 1436.0,1059.4 1442.0,1059.4 1448.0,1059.3 1454.0,1058.8 1460.0,1059.7 1466.0,1058.8 1472.0,1058.4 1478.0,1058.6 1484.0,1058.6 1490.0,1059.6 1496.0,1059.2 1502.0,1059.6 1508.0,1059.3 1514.0,1060.2 1520.0,1059.9 1526.0,1059.9 1532.0,1058.8 1538.0,1059.6 1544.0,1059.2 1550.0,1059.9 1556.0,1060.1 1562.0,1060.3 1568.0,1060.7 1574.0,1060.6 1580.0,1059.7 1586.0,1059.8 1592.0,1059.9 1598.0,1059.2 1604.0,1059.8 1610.0,1060.7 1616.0,1060.5 1622.0,1060.3 1628.0,1060.5 1634.0,1060.9 1640.0,1060.2 1646.0,1060.7 1652.0,1060.0 1658.0,1060.3 1664.0,1060.5 1670.0,1059.6 1676.0,1060.2 1682.0,1060.3 1688.0,1059.2 1694.0,1059.3 1700.0,1059.3 1706.0,1059.1 1712.0,1059.8 1718.0,1059.5 1724.0,1059.8 1730.0,1059.4 1736.0,1059.6 1742.0,1061.0 1748.0,1061.0 1754.0,1059.8 1760.0,1059.5 1766.0,1059.8 1772.0,1059.1 1778.0,1060.2 1784.0,1060.3 1790.0,1060.3 1796.0,1060.4 1802.0,1060.1 1808.0,1059.6 1814.0,1058.1 1820.0,1058.2 1826.0,1059.3 1832.0,1060.2 1838.0,1060.3 1844.0,1059.4 1850.0,1059.7 1856.0,1060.1 1862.0,1059.6 1868.0,1060.9 1874.0,1060.2 1880.0,1060.4 1886.0,1059.9 1892.0,1060.8 1898.0,1060.1 1904.0,1059.9 1910.0,1061.0 1916.0,1060.2 1922.0,1060.2 1928.0,1060.8 1934.0,1061.1 1940.0,1060.0 1944.3,1061.0 1944.3,1099.7 1088.0,1099.7" fill="#c2c2c2" filter="url(#b1)"/>
<polygon points="1088.0,1078.4 1094.0,1078.1 1100.0,1078.9 1106.0,1077.4 1112.0,1078.2 1118.0,1078.5 1124.0,1078.1 1130.0,1077.8 1136.0,1078.2 1142.0,1077.8 1148.0,1077.7 1154.0,1077.4 1160.0,1077.8 1166.0,1078.5 1172.0,1077.3 1178.0,1077.7 1184.0,1078.2 1190.0,1079.3 1196.0,1078.4 1202.0,1079.3 1208.0,1078.7 1214.0,1078.9 1220.0,1078.9 1226.0,1078.9 1232.0,1078.5 1238.0,1077.9 1244.0,1079.2 1250.0,1080.0 1256.0,1079.3 1262.0,1078.9 1268.0,1078.7 1274.0,1077.8 1280.0,1077.4 1286.0,1078.2 1292.0,1079.1 1298.0,1078.8 1304.0,1078.1 1310.0,1077.7 1316.0,1077.7 1322.0,1078.6 1328.0,1078.8 1334.0,1077.8 1340.0,1077.4 1346.0,1078.3 1352.0,1078.7 1358.0,1080.1 1364.0,1080.6 1370.0,1080.1 1376.0,1079.2 1382.0,1079.3 1388.0,1078.4 1394.0,1078.2 1400.0,1079.3 1406.0,1079.6 1412.0,1080.1 1418.0,1080.8 1424.0,1079.9 1430.0,1080.2 1436.0,1079.9 1442.0,1079.8 1448.0,1079.8 1454.0,1080.0 1460.0,1078.7 1466.0,1078.0 1472.0,1078.6 1478.0,1079.3 1484.0,1079.0 1490.0,1079.1 1496.0,1078.3 1502.0,1079.4 1508.0,1079.8 1514.0,1080.7 1520.0,1080.0 1526.0,1079.7 1532.0,1079.7 1538.0,1080.6 1544.0,1080.6 1550.0,1080.5 1556.0,1079.0 1562.0,1078.7 1568.0,1078.1 1574.0,1078.6 1580.0,1079.7 1586.0,1079.7 1592.0,1079.1 1598.0,1080.8 1604.0,1079.7 1610.0,1080.7 1616.0,1081.2 1622.0,1080.8 1628.0,1081.4 1634.0,1080.1 1640.0,1079.6 1646.0,1079.6 1652.0,1080.0 1658.0,1079.9 1664.0,1081.1 1670.0,1080.4 1676.0,1080.1 1682.0,1079.3 1688.0,1080.0 1694.0,1080.6 1700.0,1079.9 1706.0,1079.1 1712.0,1078.6 1718.0,1080.1 1724.0,1080.7 1730.0,1080.7 1736.0,1081.1 1742.0,1081.1 1748.0,1081.1 1754.0,1079.7 1760.0,1080.3 1766.0,1080.8 1772.0,1081.5 1778.0,1081.7 1784.0,1080.7 1790.0,1080.8 1796.0,1079.7 1802.0,1081.0 1808.0,1079.9 1814.0,1080.6 1820.0,1080.1 1826.0,1079.7 1832.0,1079.5 1838.0,1079.7 1844.0,1080.4 1850.0,1081.3 1856.0,1080.8 1862.0,1081.4 1868.0,1081.7 1874.0,1082.8 1880.0,1081.6 1886.0,1081.5 1892.0,1081.7 1898.0,1081.5 1904.0,1081.7 1910.0,1080.9 1916.0,1080.7 1922.0,1080.3 1928.0,1080.1 1934.0,1079.9 1940.0,1080.3 1944.3,1081.0 1944.3,1099.7 1088.0,1099.7" fill="#848484" filter="url(#b1)"/>
<ellipse cx="1584.8" cy="1008.2" rx="29.9" ry="27.5" fill="#000" fill-opacity="0.09" filter="url(#b4)"/>
<ellipse cx="1644.8" cy="1011.6" rx="37.3" ry="27.7" fill="#fff" fill-opacity="0.09" filter="url(#b4)"/>
<ellipse cx="1534.7" cy="1035.4" rx="32.4" ry="25.6" fill="#fff" fill-opacity="0.09" filter="url(#b4)"/>
<ellipse cx="1873.1" cy="1009.1" rx="39.9" ry="16.6" fill="#000" fill-opacity="0.09" filter="url(#b4)"/>
<ellipse cx="1839.9" cy="1039.2" rx="33.0" ry="10.6" fill="#000" fill-opacity="0.09" filter="url(#b4)"/>
<ellipse cx="1894.4" cy="1007.4" rx="39.6" ry="25.4" fill="#fff" fill-opacity="0.09" filter="url(#b4)"/>
<ellipse cx="1822.1" cy="1044.2" rx="37.3" ry="26.8" fill="#fff" fill-opacity="0.09" filter="url(#b4)"/>
<ellipse cx="1655.8" cy="1033.3" rx="27.8" ry="30.2" fill="#000" fill-opacity="0.09" filter="url(#b4)"/>
<ellipse cx="1587.9" cy="1046.2" rx="34.2" ry="20.9" fill="#fff" fill-opacity="0.09" filter="url(#b4)"/>
<ellipse cx="1448.3" cy="990.4" rx="17.3" ry="19.7" fill="#000" fill-opacity="0.09" filter="url(#b4)"/>
<ellipse cx="1397.8" cy="1027.7" rx="17.8" ry="21.0" fill="#000" fill-opacity="0.09" filter="url(#b4)"/>
<ellipse cx="1743.6" cy="1043.7" rx="22.3" ry="25.8" fill="#fff" fill-opacity="0.09" filter="url(#b4)"/>
<ellipse cx="1529.8" cy="991.5" rx="25.2" ry="26.8" fill="#000" fill-opacity="0.09" filter="url(#b4)"/>
<ellipse cx="1635.1" cy="1045.2" rx="37.0" ry="15.5" fill="#000" fill-opacity="0.09" filter="url(#b4)"/>
<ellipse cx="1447.3" cy="1010.7" rx="38.4" ry="17.6" fill="#fff" fill-opacity="0.09" filter="url(#b4)"/>
<ellipse cx="1838.4" cy="1010.6" rx="34.6" ry="10.1" fill="#000" fill-opacity="0.09" filter="url(#b4)"/>
<ellipse cx="1394.7" cy="1036.8" rx="32.3" ry="20.9" fill="#fff" fill-opacity="0.09" filter="url(#b4)"/>
<ellipse cx="1829.6" cy="1004.5" rx="29.3" ry="21.3" fill="#fff" fill-opacity="0.09" filter="url(#b4)"/>
<ellipse cx="1854.7" cy="1030.2" rx="19.2" ry="25.4" fill="#fff" fill-opacity="0.09" filter="url(#b4)"/>
<ellipse cx="1469.5" cy="1033.9" rx="25.3" ry="17.0" fill="#000" fill-opacity="0.09" filter="url(#b4)"/>
<ellipse cx="1589.8" cy="1038.3" rx="22.4" ry="29.5" fill="#fff" fill-opacity="0.09" filter="url(#b4)"/>
<ellipse cx="1509.7" cy="1009.9" rx="22.6" ry="19.2" fill="#fff" fill-opacity="0.09" filter="url(#b4)"/>
<ellipse cx="1940.0" cy="1000.7" rx="39.1" ry="28.4" fill="#000" fill-opacity="0.09" filter="url(#b4)"/>
<ellipse cx="1777.3" cy="1047.4" rx="19.6" ry="24.7" fill="#000" fill-opacity="0.09" filter="url(#b4)"/>
<ellipse cx="1931.8" cy="1045.2" rx="37.8" ry="11.7" fill="#000" fill-opacity="0.09" filter="url(#b4)"/>
<ellipse cx="1887.6" cy="1048.0" rx="35.4" ry="28.3" fill="#fff" fill-opacity="0.09" filter="url(#b4)"/>
<path d="M1419.1,983.9 L1414.8,1012.9 L1398.4,1052.3 M1493.7,984.7 L1478.0,1031.1 L1474.4,1052.8 M1550.6,985.4 L1555.8,1016.6 L1555.3,1053.2 M1478.0,1031.1 L1555.8,1016.6 M1603.3,986.0 L1611.1,1012.4 L1614.9,1053.6 M1555.8,1016.6 L1611.1,1012.4 M1663.5,986.7 L1660.5,1014.0 L1655.3,1054.0 M1611.1,1012.4 L1660.5,1014.0 M1731.7,987.5 L1722.2,1009.7 L1711.9,1054.5 M1660.5,1014.0 L1722.2,1009.7 M1783.9,988.1 L1794.3,1025.7 L1798.7,1054.9 M1837.7,988.8 L1843.4,1028.5 L1842.8,1055.3 M1931.9,989.9 L1924.1,1027.4 L1921.6,1055.9" fill="none" stroke="#fff" stroke-opacity="0.42" stroke-width="5" stroke-linejoin="round" filter="url(#b2)"/>
<path d="M1436.5,984.1 L1432.2,1025.1 L1426.2,1052.4 M1503.9,984.9 L1499.1,1028.8 L1493.2,1052.9 M1432.2,1025.1 L1499.1,1028.8 M1575.2,985.7 L1588.4,1011.5 L1595.8,1053.4 M1670.1,986.8 L1676.4,1028.0 L1690.8,1054.1 M1588.4,1011.5 L1676.4,1028.0 M1776.7,988.1 L1780.6,1015.1 L1784.4,1054.8 M1676.4,1028.0 L1780.6,1015.1 M1847.9,988.9 L1850.6,1014.1 L1842.5,1055.3" fill="none" stroke="#fff" stroke-opacity="0.3" stroke-width="3" stroke-linejoin="round" filter="url(#b1)"/>
<path d="M1185.0,981.1 L1179.5,1018.3 L1184.6,1050.7 M1279.9,982.2 L1272.0,1012.4 L1274.3,1051.3 M1440.1,984.1 L1439.0,1009.7 L1428.4,1052.5 M1272.0,1012.4 L1439.0,1009.7 M1579.9,985.7 L1572.9,1022.2 L1565.5,1053.4 M1439.0,1009.7 L1572.9,1022.2 M1740.1,987.6 L1752.3,1020.6 L1755.5,1054.6 M1572.9,1022.2 L1752.3,1020.6 M1838.8,988.8 L1838.0,1021.1 L1852.9,1055.3 M1752.3,1020.6 L1838.0,1021.1" fill="none" stroke="#fff" stroke-opacity="0.16" stroke-width="3" stroke-linejoin="round" filter="url(#b2)"/>
<polyline points="1090.0,974.4 1096.0,974.3 1102.0,974.1 1108.0,972.9 1114.0,975.4 1120.0,974.8 1126.0,976.4 1132.0,976.6 1138.0,977.4 1144.0,977.1 1150.0,977.2 1156.0,976.6 1162.0,976.9 1168.0,975.7 1174.0,976.9 1180.0,975.2 1186.0,975.3 1192.0,975.5 1198.0,976.0 1204.0,976.2 1210.0,975.6 1216.0,976.1 1222.0,974.0 1228.0,974.6 1234.0,975.5 1240.0,975.5 1246.0,977.0 1252.0,977.0 1258.0,977.5 1264.0,976.4 1270.0,977.6 1276.0,978.2 1282.0,976.6 1288.0,978.2 1294.0,977.0 1300.0,976.2 1306.0,977.6 1312.0,979.2 1318.0,979.3 1324.0,978.6 1330.0,977.7 1336.0,977.2 1342.0,977.8 1348.0,978.2 1354.0,977.4 1360.0,978.2 1366.0,976.3 1372.0,977.4 1378.0,977.0 1384.0,976.5 1390.0,979.2 1396.0,979.5 1402.0,979.0 1408.0,977.9 1414.0,979.6 1420.0,979.4 1426.0,978.6 1432.0,976.7 1438.0,978.5 1444.0,979.4 1450.0,979.8 1456.0,978.7 1462.0,977.3 1468.0,979.2 1474.0,979.0 1480.0,979.9 1486.0,977.5 1492.0,978.1 1498.0,979.4 1504.0,979.5 1510.0,981.3 1516.0,981.5 1522.0,981.9 1528.0,981.7 1534.0,980.9 1540.0,979.9 1546.0,979.3 1552.0,980.8 1558.0,980.5 1564.0,978.6 1570.0,979.5 1576.0,980.0 1582.0,979.8 1588.0,980.5 1594.0,979.8 1600.0,982.6 1606.0,981.5 1612.0,980.4 1618.0,980.8 1624.0,981.1 1630.0,981.9 1636.0,981.8 1642.0,982.2 1648.0,981.9 1654.0,981.5 1660.0,980.5 1666.0,980.3 1672.0,980.8 1678.0,980.0 1684.0,981.4 1690.0,981.3 1696.0,982.6 1702.0,983.0 1708.0,982.3 1714.0,984.9 1720.0,985.1 1726.0,983.3 1732.0,983.3 1738.0,982.4 1744.0,981.5 1750.0,982.0 1756.0,981.8 1762.0,982.9 1768.0,981.5 1774.0,982.2 1780.0,983.6 1786.0,983.5 1792.0,985.0 1798.0,985.9 1804.0,983.7 1810.0,983.1 1816.0,982.6 1822.0,984.2 1828.0,983.4 1834.0,981.5 1840.0,981.7 1846.0,982.1 1852.0,982.5 1858.0,982.8 1864.0,983.1 1870.0,982.7 1876.0,983.1 1882.0,982.9 1888.0,982.9 1894.0,983.1 1900.0,984.2 1906.0,984.4 1912.0,984.8 1918.0,983.9 1924.0,982.5 1930.0,983.1 1936.0,984.3 1942.0,984.4 1942.3,984.5" fill="none" stroke="#f6f6f6" stroke-width="6.5" stroke-opacity="0.9" filter="url(#b1)"/>
<g filter="url(#b2)">
<ellipse cx="1681.6" cy="984.9" rx="13.7" ry="2.9" fill="#f4f4f4" fill-opacity="0.7" transform="rotate(0.7 1681.6 984.9)"/>
<ellipse cx="1758.1" cy="982.6" rx="10.3" ry="3.6" fill="#f4f4f4" fill-opacity="0.7" transform="rotate(2.0 1758.1 982.6)"/>
<ellipse cx="1297.8" cy="980.2" rx="7.4" ry="2.4" fill="#f4f4f4" fill-opacity="0.7" transform="rotate(0.7 1297.8 980.2)"/>
<ellipse cx="1642.1" cy="983.7" rx="15.4" ry="2.4" fill="#f4f4f4" fill-opacity="0.7" transform="rotate(0.9 1642.1 983.7)"/>
<ellipse cx="1499.1" cy="979.9" rx="15.1" ry="2.4" fill="#f4f4f4" fill-opacity="0.7" transform="rotate(-0.1 1499.1 979.9)"/>
<ellipse cx="1124.4" cy="978.2" rx="12.2" ry="2.6" fill="#f4f4f4" fill-opacity="0.7" transform="rotate(2.2 1124.4 978.2)"/>
<ellipse cx="1631.1" cy="980.9" rx="15.4" ry="4.1" fill="#f4f4f4" fill-opacity="0.7" transform="rotate(0.1 1631.1 980.9)"/>
<ellipse cx="1827.2" cy="982.6" rx="8.8" ry="3.0" fill="#f4f4f4" fill-opacity="0.7" transform="rotate(2.3 1827.2 982.6)"/>
<ellipse cx="1344.6" cy="979.0" rx="7.3" ry="4.0" fill="#f4f4f4" fill-opacity="0.7" transform="rotate(-0.4 1344.6 979.0)"/>
<ellipse cx="1812.5" cy="983.7" rx="11.0" ry="4.2" fill="#f4f4f4" fill-opacity="0.7" transform="rotate(-0.1 1812.5 983.7)"/>
<ellipse cx="1540.6" cy="982.6" rx="11.4" ry="3.0" fill="#f4f4f4" fill-opacity="0.7" transform="rotate(1.3 1540.6 982.6)"/>
<ellipse cx="1358.1" cy="977.8" rx="5.1" ry="3.5" fill="#f4f4f4" fill-opacity="0.7" transform="rotate(1.0 1358.1 977.8)"/>
<ellipse cx="1771.5" cy="982.1" rx="12.4" ry="3.1" fill="#f4f4f4" fill-opacity="0.7" transform="rotate(0.8 1771.5 982.1)"/>
<ellipse cx="1798.7" cy="984.6" rx="9.8" ry="3.6" fill="#f4f4f4" fill-opacity="0.7" transform="rotate(-0.5 1798.7 984.6)"/>
<ellipse cx="1833.9" cy="985.0" rx="5.5" ry="3.2" fill="#f4f4f4" fill-opacity="0.7" transform="rotate(2.3 1833.9 985.0)"/>
<ellipse cx="1924.2" cy="985.4" rx="7.9" ry="4.3" fill="#f4f4f4" fill-opacity="0.7" transform="rotate(-0.0 1924.2 985.4)"/>
<ellipse cx="1105.3" cy="975.6" rx="10.2" ry="3.7" fill="#f4f4f4" fill-opacity="0.7" transform="rotate(-0.8 1105.3 975.6)"/>
<ellipse cx="1374.9" cy="981.4" rx="8.8" ry="2.4" fill="#f4f4f4" fill-opacity="0.7" transform="rotate(1.5 1374.9 981.4)"/>
<ellipse cx="1462.1" cy="982.1" rx="10.3" ry="4.0" fill="#f4f4f4" fill-opacity="0.7" transform="rotate(0.8 1462.1 982.1)"/>
<ellipse cx="1921.0" cy="987.7" rx="12.9" ry="3.2" fill="#f4f4f4" fill-opacity="0.7" transform="rotate(1.1 1921.0 987.7)"/>
<ellipse cx="1411.0" cy="977.8" rx="14.7" ry="4.0" fill="#f4f4f4" fill-opacity="0.7" transform="rotate(1.7 1411.0 977.8)"/>
<ellipse cx="1822.3" cy="985.0" rx="15.9" ry="3.2" fill="#f4f4f4" fill-opacity="0.7" transform="rotate(2.4 1822.3 985.0)"/>
<ellipse cx="1158.8" cy="977.0" rx="11.3" ry="4.0" fill="#f4f4f4" fill-opacity="0.7" transform="rotate(0.8 1158.8 977.0)"/>
<ellipse cx="1763.5" cy="983.4" rx="12.4" ry="4.0" fill="#f4f4f4" fill-opacity="0.7" transform="rotate(1.1 1763.5 983.4)"/>
<ellipse cx="1107.8" cy="978.1" rx="5.0" ry="2.8" fill="#f4f4f4" fill-opacity="0.7" transform="rotate(-0.6 1107.8 978.1)"/>
<ellipse cx="1740.7" cy="981.9" rx="12.9" ry="2.2" fill="#f4f4f4" fill-opacity="0.7" transform="rotate(-0.3 1740.7 981.9)"/>
<ellipse cx="1682.4" cy="985.8" rx="5.8" ry="3.5" fill="#f4f4f4" fill-opacity="0.7" transform="rotate(0.4 1682.4 985.8)"/>
<ellipse cx="1620.1" cy="980.1" rx="5.2" ry="2.2" fill="#f4f4f4" fill-opacity="0.7" transform="rotate(2.1 1620.1 980.1)"/>
<ellipse cx="1508.1" cy="982.1" rx="6.5" ry="3.7" fill="#f4f4f4" fill-opacity="0.7" transform="rotate(2.2 1508.1 982.1)"/>
<ellipse cx="1258.7" cy="980.5" rx="14.3" ry="4.5" fill="#f4f4f4" fill-opacity="0.7" transform="rotate(1.0 1258.7 980.5)"/>
<ellipse cx="1639.7" cy="981.9" rx="13.6" ry="2.8" fill="#f4f4f4" fill-opacity="0.7" transform="rotate(1.2 1639.7 981.9)"/>
<ellipse cx="1624.1" cy="985.6" rx="13.7" ry="2.2" fill="#f4f4f4" fill-opacity="0.7" transform="rotate(-0.4 1624.1 985.6)"/>
<ellipse cx="1394.4" cy="979.6" rx="12.9" ry="2.6" fill="#f4f4f4" fill-opacity="0.7" transform="rotate(1.0 1394.4 979.6)"/>
<ellipse cx="1475.3" cy="979.9" rx="12.1" ry="3.1" fill="#f4f4f4" fill-opacity="0.7" transform="rotate(2.4 1475.3 979.9)"/>
</g>
<g filter="url(#b1)">
<ellipse cx="1444.0" cy="1074.9" rx="10.0" ry="1.9" fill="#f0f0f0" fill-opacity="0.55" transform="rotate(-0.7 1444.0 1074.9)"/>
<ellipse cx="1740.2" cy="1075.2" rx="6.8" ry="2.4" fill="#f0f0f0" fill-opacity="0.55" transform="rotate(0.9 1740.2 1075.2)"/>
<ellipse cx="1421.7" cy="1074.1" rx="6.4" ry="2.0" fill="#f0f0f0" fill-opacity="0.55" transform="rotate(1.7 1421.7 1074.1)"/>
<ellipse cx="1871.3" cy="1076.9" rx="7.0" ry="2.7" fill="#f0f0f0" fill-opacity="0.55" transform="rotate(-0.5 1871.3 1076.9)"/>
<ellipse cx="1685.7" cy="1068.5" rx="12.5" ry="2.4" fill="#f0f0f0" fill-opacity="0.55" transform="rotate(1.3 1685.7 1068.5)"/>
<ellipse cx="1834.0" cy="1067.7" rx="7.9" ry="1.2" fill="#f0f0f0" fill-opacity="0.55" transform="rotate(0.2 1834.0 1067.7)"/>
<ellipse cx="1484.2" cy="1072.4" rx="4.4" ry="2.8" fill="#f0f0f0" fill-opacity="0.55" transform="rotate(1.1 1484.2 1072.4)"/>
<ellipse cx="1625.3" cy="1062.9" rx="7.9" ry="2.1" fill="#f0f0f0" fill-opacity="0.55" transform="rotate(-0.5 1625.3 1062.9)"/>
<ellipse cx="1928.9" cy="1068.4" rx="7.8" ry="1.6" fill="#f0f0f0" fill-opacity="0.55" transform="rotate(0.3 1928.9 1068.4)"/>
<ellipse cx="1528.2" cy="1074.7" rx="3.8" ry="1.7" fill="#f0f0f0" fill-opacity="0.55" transform="rotate(1.1 1528.2 1074.7)"/>
<ellipse cx="1644.4" cy="1066.5" rx="8.3" ry="1.1" fill="#f0f0f0" fill-opacity="0.55" transform="rotate(0.1 1644.4 1066.5)"/>
<ellipse cx="1619.0" cy="1073.8" rx="7.7" ry="1.8" fill="#f0f0f0" fill-opacity="0.55" transform="rotate(1.3 1619.0 1073.8)"/>
<ellipse cx="1528.3" cy="1069.7" rx="5.1" ry="2.2" fill="#f0f0f0" fill-opacity="0.55" transform="rotate(0.9 1528.3 1069.7)"/>
<ellipse cx="1744.3" cy="1076.4" rx="11.7" ry="3.0" fill="#f0f0f0" fill-opacity="0.55" transform="rotate(-0.2 1744.3 1076.4)"/>
<ellipse cx="1915.9" cy="1069.9" rx="7.0" ry="1.9" fill="#f0f0f0" fill-opacity="0.55" transform="rotate(2.2 1915.9 1069.9)"/>
<ellipse cx="1916.2" cy="1076.3" rx="6.3" ry="1.2" fill="#f0f0f0" fill-opacity="0.55" transform="rotate(-0.3 1916.2 1076.3)"/>
<ellipse cx="1754.7" cy="1073.5" rx="3.7" ry="1.0" fill="#f0f0f0" fill-opacity="0.55" transform="rotate(2.5 1754.7 1073.5)"/>
<ellipse cx="1563.4" cy="1061.4" rx="8.1" ry="1.2" fill="#f0f0f0" fill-opacity="0.55" transform="rotate(1.9 1563.4 1061.4)"/>
<ellipse cx="1673.0" cy="1071.5" rx="13.2" ry="1.2" fill="#f0f0f0" fill-opacity="0.55" transform="rotate(-0.2 1673.0 1071.5)"/>
<ellipse cx="1820.3" cy="1072.2" rx="7.8" ry="1.7" fill="#f0f0f0" fill-opacity="0.55" transform="rotate(1.2 1820.3 1072.2)"/>
<ellipse cx="1910.6" cy="1078.9" rx="13.1" ry="3.0" fill="#f0f0f0" fill-opacity="0.55" transform="rotate(-0.5 1910.6 1078.9)"/>
<ellipse cx="1386.1" cy="1073.4" rx="5.7" ry="2.0" fill="#f0f0f0" fill-opacity="0.55" transform="rotate(0.6 1386.1 1073.4)"/>
<ellipse cx="1927.3" cy="1069.9" rx="4.5" ry="1.4" fill="#f0f0f0" fill-opacity="0.55" transform="rotate(2.2 1927.3 1069.9)"/>
<ellipse cx="1836.9" cy="1064.1" rx="13.6" ry="1.7" fill="#f0f0f0" fill-opacity="0.55" transform="rotate(1.5 1836.9 1064.1)"/>
<ellipse cx="1693.1" cy="1075.8" rx="8.4" ry="1.1" fill="#f0f0f0" fill-opacity="0.55" transform="rotate(1.0 1693.1 1075.8)"/>
<ellipse cx="1857.2" cy="1069.0" rx="12.1" ry="1.9" fill="#f0f0f0" fill-opacity="0.55" transform="rotate(0.3 1857.2 1069.0)"/>
<ellipse cx="1575.5" cy="1064.5" rx="8.5" ry="2.9" fill="#f0f0f0" fill-opacity="0.55" transform="rotate(1.1 1575.5 1064.5)"/>
<ellipse cx="1809.3" cy="1064.7" rx="7.1" ry="2.2" fill="#f0f0f0" fill-opacity="0.55" transform="rotate(0.3 1809.3 1064.7)"/>
<ellipse cx="1375.0" cy="1073.9" rx="4.4" ry="2.3" fill="#f0f0f0" fill-opacity="0.55" transform="rotate(2.4 1375.0 1073.9)"/>
<ellipse cx="1535.7" cy="1065.1" rx="6.6" ry="2.1" fill="#f0f0f0" fill-opacity="0.55" transform="rotate(2.4 1535.7 1065.1)"/>
<ellipse cx="1452.8" cy="1064.3" rx="12.9" ry="1.6" fill="#f0f0f0" fill-opacity="0.55" transform="rotate(1.3 1452.8 1064.3)"/>
<ellipse cx="1783.0" cy="1061.5" rx="3.3" ry="2.5" fill="#f0f0f0" fill-opacity="0.55" transform="rotate(2.2 1783.0 1061.5)"/>
<ellipse cx="1767.6" cy="1069.5" rx="4.1" ry="2.1" fill="#f0f0f0" fill-opacity="0.55" transform="rotate(-0.6 1767.6 1069.5)"/>
<ellipse cx="1555.6" cy="1061.2" rx="8.7" ry="1.9" fill="#f0f0f0" fill-opacity="0.55" transform="rotate(-0.0 1555.6 1061.2)"/>
<ellipse cx="1496.7" cy="1061.5" rx="3.3" ry="1.3" fill="#f0f0f0" fill-opacity="0.55" transform="rotate(2.4 1496.7 1061.5)"/>
<ellipse cx="1389.0" cy="1071.6" rx="8.0" ry="2.2" fill="#f0f0f0" fill-opacity="0.55" transform="rotate(0.1 1389.0 1071.6)"/>
<ellipse cx="1931.3" cy="1076.5" rx="7.5" ry="1.9" fill="#f0f0f0" fill-opacity="0.55" transform="rotate(2.2 1931.3 1076.5)"/>
<ellipse cx="1459.5" cy="1074.6" rx="9.8" ry="2.1" fill="#f0f0f0" fill-opacity="0.55" transform="rotate(0.9 1459.5 1074.6)"/>
<ellipse cx="1708.2" cy="1062.7" rx="5.7" ry="1.7" fill="#f0f0f0" fill-opacity="0.55" transform="rotate(-0.2 1708.2 1062.7)"/>
<ellipse cx="1419.0" cy="1071.7" rx="7.6" ry="2.5" fill="#f0f0f0" fill-opacity="0.55" transform="rotate(0.4 1419.0 1071.7)"/>
<ellipse cx="1908.9" cy="1066.3" rx="8.6" ry="1.8" fill="#f0f0f0" fill-opacity="0.55" transform="rotate(1.8 1908.9 1066.3)"/>
<ellipse cx="1444.9" cy="1069.1" rx="8.0" ry="2.2" fill="#f0f0f0" fill-opacity="0.55" transform="rotate(-0.2 1444.9 1069.1)"/>
<ellipse cx="1680.6" cy="1077.9" rx="4.1" ry="2.9" fill="#f0f0f0" fill-opacity="0.55" transform="rotate(2.4 1680.6 1077.9)"/>
<ellipse cx="1626.5" cy="1062.3" rx="8.5" ry="2.9" fill="#f0f0f0" fill-opacity="0.55" transform="rotate(-1.0 1626.5 1062.3)"/>
<ellipse cx="1800.8" cy="1075.2" rx="4.3" ry="2.2" fill="#f0f0f0" fill-opacity="0.55" transform="rotate(-0.5 1800.8 1075.2)"/>
<ellipse cx="1427.0" cy="1068.6" rx="6.3" ry="2.3" fill="#f0f0f0" fill-opacity="0.55" transform="rotate(0.8 1427.0 1068.6)"/>
<ellipse cx="1501.3" cy="1075.6" rx="3.1" ry="2.6" fill="#f0f0f0" fill-opacity="0.55" transform="rotate(-0.0 1501.3 1075.6)"/>
<ellipse cx="1884.6" cy="1072.6" rx="8.0" ry="1.4" fill="#f0f0f0" fill-opacity="0.55" transform="rotate(2.0 1884.6 1072.6)"/>
<ellipse cx="1860.9" cy="1078.7" rx="9.5" ry="2.8" fill="#f0f0f0" fill-opacity="0.55" transform="rotate(2.1 1860.9 1078.7)"/>
<ellipse cx="1751.4" cy="1067.2" rx="9.6" ry="1.7" fill="#f0f0f0" fill-opacity="0.55" transform="rotate(1.8 1751.4 1067.2)"/>
<ellipse cx="1686.4" cy="1075.9" rx="12.8" ry="2.5" fill="#f0f0f0" fill-opacity="0.55" transform="rotate(-0.3 1686.4 1075.9)"/>
<ellipse cx="1561.8" cy="1062.1" rx="6.7" ry="1.3" fill="#f0f0f0" fill-opacity="0.55" transform="rotate(0.0 1561.8 1062.1)"/>
<ellipse cx="1824.4" cy="1063.7" rx="13.1" ry="2.8" fill="#f0f0f0" fill-opacity="0.55" transform="rotate(1.7 1824.4 1063.7)"/>
<ellipse cx="1506.3" cy="1065.3" rx="8.0" ry="2.2" fill="#f0f0f0" fill-opacity="0.55" transform="rotate(2.2 1506.3 1065.3)"/>
<ellipse cx="1381.6" cy="1061.4" rx="12.0" ry="1.0" fill="#f0f0f0" fill-opacity="0.55" transform="rotate(2.1 1381.6 1061.4)"/>
<ellipse cx="1476.6" cy="1076.4" rx="8.2" ry="2.2" fill="#f0f0f0" fill-opacity="0.55" transform="rotate(1.9 1476.6 1076.4)"/>
<ellipse cx="1841.2" cy="1069.0" rx="8.1" ry="2.6" fill="#f0f0f0" fill-opacity="0.55" transform="rotate(-0.1 1841.2 1069.0)"/>
<ellipse cx="1544.3" cy="1075.1" rx="12.7" ry="2.7" fill="#f0f0f0" fill-opacity="0.55" transform="rotate(0.2 1544.3 1075.1)"/>
<ellipse cx="1566.2" cy="1062.4" rx="12.2" ry="1.1" fill="#f0f0f0" fill-opacity="0.55" transform="rotate(-0.4 1566.2 1062.4)"/>
<ellipse cx="1383.8" cy="1067.4" rx="14.0" ry="1.1" fill="#f0f0f0" fill-opacity="0.55" transform="rotate(-0.1 1383.8 1067.4)"/>
<ellipse cx="1523.5" cy="1072.1" rx="6.9" ry="1.3" fill="#f0f0f0" fill-opacity="0.55" transform="rotate(1.4 1523.5 1072.1)"/>
<ellipse cx="1885.3" cy="1064.7" rx="3.7" ry="1.8" fill="#f0f0f0" fill-opacity="0.55" transform="rotate(2.3 1885.3 1064.7)"/>
<ellipse cx="1404.0" cy="1062.3" rx="10.1" ry="2.5" fill="#f0f0f0" fill-opacity="0.55" transform="rotate(0.6 1404.0 1062.3)"/>
<ellipse cx="1395.8" cy="1069.0" rx="4.1" ry="1.1" fill="#f0f0f0" fill-opacity="0.55" transform="rotate(-0.8 1395.8 1069.0)"/>
<ellipse cx="1906.2" cy="1063.7" rx="8.2" ry="2.6" fill="#f0f0f0" fill-opacity="0.55" transform="rotate(-0.3 1906.2 1063.7)"/>
<ellipse cx="1593.2" cy="1074.1" rx="9.2" ry="1.4" fill="#f0f0f0" fill-opacity="0.55" transform="rotate(0.9 1593.2 1074.1)"/>
<ellipse cx="1939.3" cy="1076.7" rx="13.6" ry="1.0" fill="#f0f0f0" fill-opacity="0.55" transform="rotate(-0.8 1939.3 1076.7)"/>
<ellipse cx="1657.7" cy="1061.2" rx="13.6" ry="1.6" fill="#f0f0f0" fill-opacity="0.55" transform="rotate(0.9 1657.7 1061.2)"/>
<ellipse cx="1872.1" cy="1069.3" rx="11.4" ry="1.3" fill="#f0f0f0" fill-opacity="0.55" transform="rotate(0.6 1872.1 1069.3)"/>
<ellipse cx="1785.7" cy="1069.6" rx="5.0" ry="2.7" fill="#f0f0f0" fill-opacity="0.55" transform="rotate(0.3 1785.7 1069.6)"/>
<ellipse cx="1892.3" cy="1067.4" rx="12.1" ry="1.2" fill="#f0f0f0" fill-opacity="0.55" transform="rotate(1.4 1892.3 1067.4)"/>
<ellipse cx="1914.6" cy="1073.1" rx="7.6" ry="3.0" fill="#f0f0f0" fill-opacity="0.55" transform="rotate(2.4 1914.6 1073.1)"/>
<ellipse cx="1840.6" cy="1065.6" rx="4.0" ry="2.2" fill="#f0f0f0" fill-opacity="0.55" transform="rotate(-0.5 1840.6 1065.6)"/>
<ellipse cx="1404.6" cy="1069.1" rx="13.4" ry="1.5" fill="#f0f0f0" fill-opacity="0.55" transform="rotate(1.9 1404.6 1069.1)"/>
<ellipse cx="1919.8" cy="1078.8" rx="3.9" ry="1.3" fill="#f0f0f0" fill-opacity="0.55" transform="rotate(2.3 1919.8 1078.8)"/>
<ellipse cx="1922.4" cy="1065.0" rx="5.0" ry="2.4" fill="#f0f0f0" fill-opacity="0.55" transform="rotate(-0.7 1922.4 1065.0)"/>
<ellipse cx="1429.5" cy="1062.8" rx="9.4" ry="1.7" fill="#f0f0f0" fill-opacity="0.55" transform="rotate(1.9 1429.5 1062.8)"/>
<ellipse cx="1457.5" cy="1074.9" rx="11.7" ry="1.7" fill="#f0f0f0" fill-opacity="0.55" transform="rotate(1.1 1457.5 1074.9)"/>
<ellipse cx="1757.3" cy="1063.5" rx="13.3" ry="1.9" fill="#f0f0f0" fill-opacity="0.55" transform="rotate(0.8 1757.3 1063.5)"/>
<ellipse cx="1857.7" cy="1062.1" rx="5.9" ry="1.1" fill="#f0f0f0" fill-opacity="0.55" transform="rotate(1.6 1857.7 1062.1)"/>
<ellipse cx="1495.1" cy="1072.2" rx="10.9" ry="3.0" fill="#f0f0f0" fill-opacity="0.55" transform="rotate(-0.4 1495.1 1072.2)"/>
<ellipse cx="1606.9" cy="1074.1" rx="7.9" ry="1.4" fill="#f0f0f0" fill-opacity="0.55" transform="rotate(1.4 1606.9 1074.1)"/>
<ellipse cx="1824.6" cy="1069.5" rx="7.2" ry="1.3" fill="#f0f0f0" fill-opacity="0.55" transform="rotate(0.4 1824.6 1069.5)"/>
<ellipse cx="1850.8" cy="1067.9" rx="13.5" ry="1.7" fill="#f0f0f0" fill-opacity="0.55" transform="rotate(0.7 1850.8 1067.9)"/>
<ellipse cx="1815.8" cy="1077.6" rx="12.3" ry="1.8" fill="#f0f0f0" fill-opacity="0.55" transform="rotate(0.6 1815.8 1077.6)"/>
<ellipse cx="1444.2" cy="1069.0" rx="12.0" ry="1.4" fill="#f0f0f0" fill-opacity="0.55" transform="rotate(0.1 1444.2 1069.0)"/>
<ellipse cx="1407.6" cy="1067.5" rx="8.3" ry="3.0" fill="#f0f0f0" fill-opacity="0.55" transform="rotate(1.3 1407.6 1067.5)"/>
<ellipse cx="1895.3" cy="1065.4" rx="7.8" ry="2.4" fill="#f0f0f0" fill-opacity="0.55" transform="rotate(-0.7 1895.3 1065.4)"/>
<ellipse cx="1696.8" cy="1071.9" rx="3.3" ry="1.4" fill="#f0f0f0" fill-opacity="0.55" transform="rotate(1.7 1696.8 1071.9)"/>
<ellipse cx="1462.6" cy="1070.7" rx="7.6" ry="1.8" fill="#f0f0f0" fill-opacity="0.55" transform="rotate(2.1 1462.6 1070.7)"/>
<ellipse cx="1596.9" cy="1075.6" rx="12.0" ry="2.1" fill="#f0f0f0" fill-opacity="0.55" transform="rotate(-0.6 1596.9 1075.6)"/>
<ellipse cx="1561.0" cy="1076.6" rx="5.9" ry="2.2" fill="#f0f0f0" fill-opacity="0.55" transform="rotate(-0.3 1561.0 1076.6)"/>
<ellipse cx="1789.1" cy="1073.5" rx="12.8" ry="2.2" fill="#f0f0f0" fill-opacity="0.55" transform="rotate(-0.6 1789.1 1073.5)"/>
<ellipse cx="1825.6" cy="1071.7" rx="13.4" ry="2.0" fill="#f0f0f0" fill-opacity="0.55" transform="rotate(0.1 1825.6 1071.7)"/>
<ellipse cx="1623.6" cy="1070.4" rx="10.7" ry="2.3" fill="#f0f0f0" fill-opacity="0.55" transform="rotate(2.0 1623.6 1070.4)"/>
<ellipse cx="1676.7" cy="1064.6" rx="12.4" ry="2.4" fill="#f0f0f0" fill-opacity="0.55" transform="rotate(-0.4 1676.7 1064.6)"/>
<ellipse cx="1633.7" cy="1075.3" rx="9.3" ry="1.2" fill="#f0f0f0" fill-opacity="0.55" transform="rotate(2.0 1633.7 1075.3)"/>
<ellipse cx="1788.4" cy="1064.9" rx="10.6" ry="2.7" fill="#f0f0f0" fill-opacity="0.55" transform="rotate(1.0 1788.4 1064.9)"/>
<ellipse cx="1912.7" cy="1071.5" rx="3.1" ry="2.3" fill="#f0f0f0" fill-opacity="0.55" transform="rotate(1.9 1912.7 1071.5)"/>
<ellipse cx="1894.4" cy="1075.3" rx="13.4" ry="2.6" fill="#f0f0f0" fill-opacity="0.55" transform="rotate(0.7 1894.4 1075.3)"/>
<ellipse cx="1404.6" cy="1062.8" rx="3.5" ry="2.9" fill="#f0f0f0" fill-opacity="0.55" transform="rotate(1.8 1404.6 1062.8)"/>
<ellipse cx="1888.7" cy="1075.7" rx="8.0" ry="2.1" fill="#f0f0f0" fill-opacity="0.55" transform="rotate(-0.9 1888.7 1075.7)"/>
<ellipse cx="1461.7" cy="1066.9" rx="3.6" ry="1.6" fill="#f0f0f0" fill-opacity="0.55" transform="rotate(0.8 1461.7 1066.9)"/>
<ellipse cx="1462.4" cy="1063.2" rx="3.9" ry="1.9" fill="#f0f0f0" fill-opacity="0.55" transform="rotate(1.9 1462.4 1063.2)"/>
<ellipse cx="1626.0" cy="1072.8" rx="10.9" ry="2.6" fill="#f0f0f0" fill-opacity="0.55" transform="rotate(1.8 1626.0 1072.8)"/>
<ellipse cx="1656.5" cy="1061.8" rx="4.9" ry="1.6" fill="#f0f0f0" fill-opacity="0.55" transform="rotate(0.2 1656.5 1061.8)"/>
<ellipse cx="1712.7" cy="1069.8" rx="6.2" ry="1.3" fill="#f0f0f0" fill-opacity="0.55" transform="rotate(1.6 1712.7 1069.8)"/>
<ellipse cx="1939.7" cy="1074.6" rx="4.5" ry="2.4" fill="#f0f0f0" fill-opacity="0.55" transform="rotate(1.8 1939.7 1074.6)"/>
<ellipse cx="1677.8" cy="1071.9" rx="12.5" ry="2.0" fill="#f0f0f0" fill-opacity="0.55" transform="rotate(1.5 1677.8 1071.9)"/>
<ellipse cx="1466.8" cy="1074.0" rx="9.3" ry="1.4" fill="#f0f0f0" fill-opacity="0.55" transform="rotate(1.2 1466.8 1074.0)"/>
</g>
<g filter="url(#b1)">
<ellipse cx="1321.0" cy="1087.9" rx="6.4" ry="1.7" fill="#e8e8e8" fill-opacity="0.6" transform="rotate(2.5 1321.0 1087.9)"/>
<ellipse cx="1359.1" cy="1086.3" rx="8.3" ry="1.3" fill="#e8e8e8" fill-opacity="0.6" transform="rotate(-0.5 1359.1 1086.3)"/>
<ellipse cx="1242.9" cy="1085.1" rx="8.3" ry="1.8" fill="#e8e8e8" fill-opacity="0.6" transform="rotate(0.9 1242.9 1085.1)"/>
<ellipse cx="1367.1" cy="1084.8" rx="5.0" ry="0.9" fill="#e8e8e8" fill-opacity="0.6" transform="rotate(1.5 1367.1 1084.8)"/>
<ellipse cx="1170.1" cy="1083.6" rx="10.0" ry="2.0" fill="#e8e8e8" fill-opacity="0.6" transform="rotate(1.6 1170.1 1083.6)"/>
<ellipse cx="1358.0" cy="1095.0" rx="8.8" ry="1.1" fill="#e8e8e8" fill-opacity="0.6" transform="rotate(1.7 1358.0 1095.0)"/>
<ellipse cx="1151.0" cy="1081.4" rx="7.1" ry="1.7" fill="#e8e8e8" fill-opacity="0.6" transform="rotate(1.2 1151.0 1081.4)"/>
<ellipse cx="1204.9" cy="1082.6" rx="4.9" ry="1.5" fill="#e8e8e8" fill-opacity="0.6" transform="rotate(0.7 1204.9 1082.6)"/>
<ellipse cx="1241.9" cy="1091.5" rx="9.3" ry="1.8" fill="#e8e8e8" fill-opacity="0.6" transform="rotate(2.2 1241.9 1091.5)"/>
<ellipse cx="1235.3" cy="1086.1" rx="8.5" ry="1.1" fill="#e8e8e8" fill-opacity="0.6" transform="rotate(-0.4 1235.3 1086.1)"/>
<ellipse cx="1291.7" cy="1087.6" rx="3.2" ry="1.3" fill="#e8e8e8" fill-opacity="0.6" transform="rotate(0.1 1291.7 1087.6)"/>
<ellipse cx="1107.0" cy="1080.4" rx="9.8" ry="1.8" fill="#e8e8e8" fill-opacity="0.6" transform="rotate(1.9 1107.0 1080.4)"/>
<ellipse cx="1257.2" cy="1084.4" rx="10.0" ry="1.1" fill="#e8e8e8" fill-opacity="0.6" transform="rotate(-0.2 1257.2 1084.4)"/>
<ellipse cx="1182.1" cy="1082.5" rx="4.2" ry="2.0" fill="#e8e8e8" fill-opacity="0.6" transform="rotate(-0.7 1182.1 1082.5)"/>
<ellipse cx="1361.9" cy="1091.6" rx="11.2" ry="0.9" fill="#e8e8e8" fill-opacity="0.6" transform="rotate(1.4 1361.9 1091.6)"/>
<ellipse cx="1146.0" cy="1087.5" rx="8.0" ry="1.9" fill="#e8e8e8" fill-opacity="0.6" transform="rotate(-0.6 1146.0 1087.5)"/>
<ellipse cx="1092.0" cy="1088.2" rx="8.8" ry="1.6" fill="#e8e8e8" fill-opacity="0.6" transform="rotate(-0.7 1092.0 1088.2)"/>
<ellipse cx="1193.8" cy="1090.7" rx="9.5" ry="1.2" fill="#e8e8e8" fill-opacity="0.6" transform="rotate(-1.0 1193.8 1090.7)"/>
<ellipse cx="1102.4" cy="1092.6" rx="6.0" ry="0.9" fill="#e8e8e8" fill-opacity="0.6" transform="rotate(0.0 1102.4 1092.6)"/>
<ellipse cx="1149.1" cy="1088.0" rx="3.5" ry="1.4" fill="#e8e8e8" fill-opacity="0.6" transform="rotate(1.3 1149.1 1088.0)"/>
<ellipse cx="1240.1" cy="1089.4" rx="5.7" ry="1.3" fill="#e8e8e8" fill-opacity="0.6" transform="rotate(1.6 1240.1 1089.4)"/>
<ellipse cx="1169.9" cy="1092.1" rx="5.1" ry="1.4" fill="#e8e8e8" fill-opacity="0.6" transform="rotate(2.1 1169.9 1092.1)"/>
<ellipse cx="1275.8" cy="1085.2" rx="7.0" ry="1.1" fill="#e8e8e8" fill-opacity="0.6" transform="rotate(1.6 1275.8 1085.2)"/>
<ellipse cx="1192.2" cy="1092.5" rx="10.7" ry="1.8" fill="#e8e8e8" fill-opacity="0.6" transform="rotate(0.9 1192.2 1092.5)"/>
<ellipse cx="1169.0" cy="1090.2" rx="7.8" ry="0.9" fill="#e8e8e8" fill-opacity="0.6" transform="rotate(0.6 1169.0 1090.2)"/>
<ellipse cx="1142.2" cy="1081.4" rx="5.9" ry="1.9" fill="#e8e8e8" fill-opacity="0.6" transform="rotate(1.3 1142.2 1081.4)"/>
<ellipse cx="1211.5" cy="1089.0" rx="7.3" ry="1.5" fill="#e8e8e8" fill-opacity="0.6" transform="rotate(-0.1 1211.5 1089.0)"/>
<ellipse cx="1329.4" cy="1092.8" rx="7.9" ry="1.5" fill="#e8e8e8" fill-opacity="0.6" transform="rotate(0.3 1329.4 1092.8)"/>
</g>
<g filter="url(#b1)">
<ellipse cx="1811.1" cy="1094.9" rx="17.0" ry="0.9" fill="#d8d8d8" fill-opacity="0.5" transform="rotate(2.2 1811.1 1094.9)"/>
<ellipse cx="1495.0" cy="1085.7" rx="9.8" ry="1.6" fill="#d8d8d8" fill-opacity="0.5" transform="rotate(-0.6 1495.0 1085.7)"/>
<ellipse cx="1738.4" cy="1096.3" rx="14.9" ry="1.8" fill="#d8d8d8" fill-opacity="0.5" transform="rotate(-0.4 1738.4 1096.3)"/>
<ellipse cx="1562.7" cy="1087.6" rx="9.2" ry="1.9" fill="#d8d8d8" fill-opacity="0.5" transform="rotate(2.5 1562.7 1087.6)"/>
<ellipse cx="1521.3" cy="1091.1" rx="12.5" ry="2.0" fill="#d8d8d8" fill-opacity="0.5" transform="rotate(0.6 1521.3 1091.1)"/>
<ellipse cx="1437.4" cy="1085.4" rx="6.0" ry="1.4" fill="#d8d8d8" fill-opacity="0.5" transform="rotate(-0.7 1437.4 1085.4)"/>
<ellipse cx="1766.3" cy="1087.6" rx="4.6" ry="1.7" fill="#d8d8d8" fill-opacity="0.5" transform="rotate(0.6 1766.3 1087.6)"/>
<ellipse cx="1802.5" cy="1092.0" rx="9.3" ry="0.9" fill="#d8d8d8" fill-opacity="0.5" transform="rotate(2.0 1802.5 1092.0)"/>
<ellipse cx="1758.9" cy="1088.3" rx="5.2" ry="1.6" fill="#d8d8d8" fill-opacity="0.5" transform="rotate(2.3 1758.9 1088.3)"/>
<ellipse cx="1795.2" cy="1095.9" rx="17.9" ry="1.0" fill="#d8d8d8" fill-opacity="0.5" transform="rotate(-0.4 1795.2 1095.9)"/>
<ellipse cx="1636.8" cy="1086.2" rx="10.8" ry="1.8" fill="#d8d8d8" fill-opacity="0.5" transform="rotate(-0.1 1636.8 1086.2)"/>
<ellipse cx="1837.9" cy="1088.5" rx="15.4" ry="0.9" fill="#d8d8d8" fill-opacity="0.5" transform="rotate(-0.6 1837.9 1088.5)"/>
<ellipse cx="1396.4" cy="1091.0" rx="4.3" ry="1.6" fill="#d8d8d8" fill-opacity="0.5" transform="rotate(0.5 1396.4 1091.0)"/>
<ellipse cx="1887.8" cy="1090.1" rx="15.7" ry="1.7" fill="#d8d8d8" fill-opacity="0.5" transform="rotate(0.3 1887.8 1090.1)"/>
<ellipse cx="1815.9" cy="1092.3" rx="12.3" ry="1.3" fill="#d8d8d8" fill-opacity="0.5" transform="rotate(-0.5 1815.9 1092.3)"/>
<ellipse cx="1669.1" cy="1091.0" rx="10.1" ry="2.0" fill="#d8d8d8" fill-opacity="0.5" transform="rotate(-0.4 1669.1 1091.0)"/>
<ellipse cx="1891.4" cy="1092.0" rx="5.4" ry="1.5" fill="#d8d8d8" fill-opacity="0.5" transform="rotate(-0.3 1891.4 1092.0)"/>
<ellipse cx="1653.7" cy="1090.5" rx="14.8" ry="1.9" fill="#d8d8d8" fill-opacity="0.5" transform="rotate(-0.7 1653.7 1090.5)"/>
<ellipse cx="1871.8" cy="1096.2" rx="6.1" ry="0.9" fill="#d8d8d8" fill-opacity="0.5" transform="rotate(0.6 1871.8 1096.2)"/>
<ellipse cx="1388.2" cy="1085.6" rx="11.2" ry="1.1" fill="#d8d8d8" fill-opacity="0.5" transform="rotate(1.1 1388.2 1085.6)"/>
<ellipse cx="1489.0" cy="1092.3" rx="12.7" ry="0.9" fill="#d8d8d8" fill-opacity="0.5" transform="rotate(1.4 1489.0 1092.3)"/>
<ellipse cx="1898.0" cy="1096.9" rx="4.6" ry="1.6" fill="#d8d8d8" fill-opacity="0.5" transform="rotate(0.1 1898.0 1096.9)"/>
<ellipse cx="1608.6" cy="1090.2" rx="4.7" ry="1.6" fill="#d8d8d8" fill-opacity="0.5" transform="rotate(-0.5 1608.6 1090.2)"/>
<ellipse cx="1859.7" cy="1086.8" rx="12.7" ry="1.5" fill="#d8d8d8" fill-opacity="0.5" transform="rotate(-0.9 1859.7 1086.8)"/>
</g>
<rect x="1090" y="978" width="280.5" height="74.4" fill="#d88a56" fill-opacity="0.88"/>
<rect x="1090" y="1053.4" width="280.5" height="10.4" fill="#a9c8e4" fill-opacity="0.92"/>
<rect x="1090" y="1063.8" width="280.5" height="14" fill="#cddcc0" fill-opacity="0.92"/>
<rect x="1090" y="925" width="852.3" height="172.7" filter="url(#semNoise)" opacity="0.3"/>
</g>
<text transform="translate(1109.0,960.4)" font-size="30.4" text-anchor="start" fill="#fff" font-weight="normal" >0 bending cycle</text>
<text transform="translate(1199.0,1025.3)" font-size="25" text-anchor="start" fill="#fff" font-weight="normal" >OIHP</text>
<text transform="translate(1191.3,1059.4)" font-size="25" text-anchor="start" fill="#fff" font-weight="normal" >FI-SnO<tspan font-size="16" dy="5.5">2</tspan></text>
<text transform="translate(1208.3,1092.1)" font-size="25" text-anchor="start" fill="#fff" font-weight="normal" >ITO</text>
<text transform="translate(1806.8,1072.7) scale(1.05,1)" font-size="26" text-anchor="start" fill="#fff" font-weight="normal" >1000 nm</text>
<rect x="1786.4" y="1085" width="149.8" height="6.2" fill="#fff"/>
<clipPath id="clip_e2"><rect x="1092.4" y="1113.3" width="852.1" height="137.3"/></clipPath>
<g clip-path="url(#clip_e2)">
<polygon points="1090.4,1108.3 1096.4,1108.3 1102.4,1108.3 1108.4,1108.3 1114.4,1108.3 1120.4,1108.3 1126.4,1108.3 1132.4,1108.3 1138.4,1108.3 1144.4,1108.3 1150.4,1108.3 1156.4,1108.3 1162.4,1108.3 1168.4,1108.3 1174.4,1108.3 1180.4,1108.3 1186.4,1108.3 1192.4,1108.3 1198.4,1108.3 1204.4,1108.3 1210.4,1108.3 1216.4,1108.3 1222.4,1108.3 1228.4,1108.3 1234.4,1108.3 1240.4,1108.3 1246.4,1108.3 1252.4,1108.3 1258.4,1108.3 1264.4,1108.3 1270.4,1108.3 1276.4,1108.3 1282.4,1108.3 1288.4,1108.3 1294.4,1108.3 1300.4,1108.3 1306.4,1108.3 1312.4,1108.3 1318.4,1108.3 1324.4,1108.3 1330.4,1108.3 1336.4,1108.3 1342.4,1108.3 1348.4,1108.3 1354.4,1108.3 1360.4,1108.3 1366.4,1108.3 1372.4,1108.3 1378.4,1108.3 1384.4,1108.3 1390.4,1108.3 1396.4,1108.3 1402.4,1108.3 1408.4,1108.3 1414.4,1108.3 1420.4,1108.3 1426.4,1108.3 1432.4,1108.3 1438.4,1108.3 1444.4,1108.3 1450.4,1108.3 1456.4,1108.3 1462.4,1108.3 1468.4,1108.3 1474.4,1108.3 1480.4,1108.3 1486.4,1108.3 1492.4,1108.3 1498.4,1108.3 1504.4,1108.3 1510.4,1108.3 1516.4,1108.3 1522.4,1108.3 1528.4,1108.3 1534.4,1108.3 1540.4,1108.3 1546.4,1108.3 1552.4,1108.3 1558.4,1108.3 1564.4,1108.3 1570.4,1108.3 1576.4,1108.3 1582.4,1108.3 1588.4,1108.3 1594.4,1108.3 1600.4,1108.3 1606.4,1108.3 1612.4,1108.3 1618.4,1108.3 1624.4,1108.3 1630.4,1108.3 1636.4,1108.3 1642.4,1108.3 1648.4,1108.3 1654.4,1108.3 1660.4,1108.3 1666.4,1108.3 1672.4,1108.3 1678.4,1108.3 1684.4,1108.3 1690.4,1108.3 1696.4,1108.3 1702.4,1108.3 1708.4,1108.3 1714.4,1108.3 1720.4,1108.3 1726.4,1108.3 1732.4,1108.3 1738.4,1108.3 1744.4,1108.3 1750.4,1108.3 1756.4,1108.3 1762.4,1108.3 1768.4,1108.3 1774.4,1108.3 1780.4,1108.3 1786.4,1108.3 1792.4,1108.3 1798.4,1108.3 1804.4,1108.3 1810.4,1108.3 1816.4,1108.3 1822.4,1108.3 1828.4,1108.3 1834.4,1108.3 1840.4,1108.3 1846.4,1108.3 1852.4,1108.3 1858.4,1108.3 1864.4,1108.3 1870.4,1108.3 1876.4,1108.3 1882.4,1108.3 1888.4,1108.3 1894.4,1108.3 1900.4,1108.3 1906.4,1108.3 1912.4,1108.3 1918.4,1108.3 1924.4,1108.3 1930.4,1108.3 1936.4,1108.3 1942.4,1108.3 1946.5,1108.3 1946.5,1252.6 1090.4,1252.6" fill="#8d8d8d"/>
<polygon points="1090.4,1124.9 1098.4,1124.6 1106.4,1124.9 1114.4,1125.5 1122.4,1124.6 1130.4,1124.5 1138.4,1124.6 1146.4,1124.8 1154.4,1124.8 1162.4,1125.2 1170.4,1125.4 1178.4,1124.9 1186.4,1124.7 1194.4,1125.2 1202.4,1124.5 1210.4,1124.3 1218.4,1123.5 1226.4,1123.5 1234.4,1125.0 1242.4,1126.0 1250.4,1125.4 1258.4,1126.1 1266.4,1125.9 1274.4,1125.7 1282.4,1125.3 1290.4,1125.8 1298.4,1124.7 1306.4,1125.6 1314.4,1125.5 1322.4,1125.3 1330.4,1124.4 1338.4,1125.9 1346.4,1126.0 1354.4,1125.8 1362.4,1125.6 1370.4,1125.9 1378.4,1125.4 1386.4,1125.5 1394.4,1125.8 1402.4,1125.3 1410.4,1125.0 1418.4,1125.7 1426.4,1125.1 1434.4,1124.8 1442.4,1125.3 1450.4,1126.4 1458.4,1126.9 1466.4,1125.9 1474.4,1126.7 1482.4,1125.6 1490.4,1125.3 1498.4,1125.6 1506.4,1126.1 1514.4,1126.2 1522.4,1126.2 1530.4,1125.1 1538.4,1124.5 1546.4,1124.9 1554.4,1125.5 1562.4,1125.6 1570.4,1125.3 1578.4,1125.6 1586.4,1126.1 1594.4,1124.5 1602.4,1125.6 1610.4,1126.6 1618.4,1126.6 1626.4,1126.0 1634.4,1125.9 1642.4,1125.9 1650.4,1126.9 1658.4,1126.7 1666.4,1126.8 1674.4,1127.0 1682.4,1126.6 1690.4,1126.1 1698.4,1125.2 1706.4,1125.2 1714.4,1125.9 1722.4,1126.4 1730.4,1125.3 1738.4,1125.4 1746.4,1125.7 1754.4,1126.2 1762.4,1126.0 1770.4,1125.8 1778.4,1125.9 1786.4,1126.2 1794.4,1126.2 1802.4,1125.8 1810.4,1125.8 1818.4,1126.0 1826.4,1125.8 1834.4,1125.9 1842.4,1125.9 1850.4,1125.3 1858.4,1126.6 1866.4,1126.4 1874.4,1126.8 1882.4,1127.6 1890.4,1127.3 1898.4,1126.5 1906.4,1126.5 1914.4,1126.0 1922.4,1126.0 1930.4,1126.6 1938.4,1126.2 1946.4,1126.6 1946.5,1126.4 1946.5,1252.6 1090.4,1252.6" fill="#b5b5b5" filter="url(#b1)"/>
<polygon points="1090.4,1205.1 1096.4,1205.9 1102.4,1205.8 1108.4,1206.0 1114.4,1206.0 1120.4,1205.4 1126.4,1205.2 1132.4,1204.7 1138.4,1204.3 1144.4,1205.7 1150.4,1205.0 1156.4,1205.7 1162.4,1205.4 1168.4,1204.8 1174.4,1205.0 1180.4,1205.6 1186.4,1205.9 1192.4,1206.3 1198.4,1205.9 1204.4,1205.9 1210.4,1205.3 1216.4,1205.0 1222.4,1205.5 1228.4,1205.9 1234.4,1205.6 1240.4,1205.5 1246.4,1205.2 1252.4,1205.3 1258.4,1204.8 1264.4,1205.1 1270.4,1205.2 1276.4,1205.3 1282.4,1206.4 1288.4,1205.6 1294.4,1205.7 1300.4,1206.0 1306.4,1205.4 1312.4,1205.9 1318.4,1205.3 1324.4,1205.6 1330.4,1205.7 1336.4,1206.4 1342.4,1205.3 1348.4,1206.2 1354.4,1207.4 1360.4,1207.0 1366.4,1205.9 1372.4,1205.9 1378.4,1205.2 1384.4,1205.8 1390.4,1205.9 1396.4,1205.2 1402.4,1206.3 1408.4,1206.0 1414.4,1206.7 1420.4,1206.2 1426.4,1205.8 1432.4,1205.2 1438.4,1205.6 1444.4,1205.6 1450.4,1205.3 1456.4,1206.4 1462.4,1206.1 1468.4,1207.1 1474.4,1206.8 1480.4,1205.5 1486.4,1204.9 1492.4,1205.5 1498.4,1206.5 1504.4,1206.2 1510.4,1205.6 1516.4,1205.4 1522.4,1206.2 1528.4,1206.9 1534.4,1206.4 1540.4,1205.8 1546.4,1205.3 1552.4,1206.0 1558.4,1205.5 1564.4,1205.7 1570.4,1205.8 1576.4,1206.8 1582.4,1205.6 1588.4,1205.2 1594.4,1205.3 1600.4,1206.3 1606.4,1206.0 1612.4,1206.6 1618.4,1206.1 1624.4,1205.1 1630.4,1205.1 1636.4,1206.2 1642.4,1205.9 1648.4,1205.5 1654.4,1205.7 1660.4,1205.5 1666.4,1205.9 1672.4,1206.2 1678.4,1206.7 1684.4,1206.8 1690.4,1207.8 1696.4,1206.4 1702.4,1207.0 1708.4,1205.1 1714.4,1206.0 1720.4,1205.8 1726.4,1205.8 1732.4,1205.8 1738.4,1206.2 1744.4,1206.2 1750.4,1206.7 1756.4,1206.6 1762.4,1207.1 1768.4,1208.1 1774.4,1207.7 1780.4,1207.4 1786.4,1206.7 1792.4,1206.8 1798.4,1206.6 1804.4,1206.1 1810.4,1205.9 1816.4,1207.3 1822.4,1206.1 1828.4,1205.6 1834.4,1205.5 1840.4,1205.9 1846.4,1206.1 1852.4,1206.6 1858.4,1206.8 1864.4,1206.8 1870.4,1206.3 1876.4,1206.2 1882.4,1206.9 1888.4,1207.4 1894.4,1207.0 1900.4,1207.2 1906.4,1206.7 1912.4,1206.3 1918.4,1205.8 1924.4,1206.7 1930.4,1207.8 1936.4,1207.6 1942.4,1207.6 1946.5,1207.0 1946.5,1252.6 1090.4,1252.6" fill="#bfbfbf" filter="url(#b1)"/>
<polygon points="1090.4,1216.3 1096.4,1216.1 1102.4,1215.2 1108.4,1216.0 1114.4,1216.2 1120.4,1216.7 1126.4,1216.4 1132.4,1216.1 1138.4,1217.0 1144.4,1217.4 1150.4,1217.1 1156.4,1216.2 1162.4,1215.9 1168.4,1215.6 1174.4,1215.9 1180.4,1216.0 1186.4,1216.0 1192.4,1216.4 1198.4,1215.7 1204.4,1215.2 1210.4,1215.6 1216.4,1216.0 1222.4,1216.2 1228.4,1217.0 1234.4,1216.5 1240.4,1216.3 1246.4,1216.2 1252.4,1215.8 1258.4,1216.4 1264.4,1216.5 1270.4,1217.0 1276.4,1216.0 1282.4,1215.6 1288.4,1216.3 1294.4,1216.5 1300.4,1216.4 1306.4,1216.5 1312.4,1216.8 1318.4,1216.4 1324.4,1216.9 1330.4,1217.0 1336.4,1216.7 1342.4,1216.5 1348.4,1217.0 1354.4,1216.8 1360.4,1216.4 1366.4,1215.9 1372.4,1216.0 1378.4,1216.2 1384.4,1216.0 1390.4,1216.0 1396.4,1216.7 1402.4,1216.3 1408.4,1216.7 1414.4,1216.9 1420.4,1215.7 1426.4,1216.3 1432.4,1216.4 1438.4,1216.0 1444.4,1216.1 1450.4,1216.1 1456.4,1216.2 1462.4,1216.2 1468.4,1216.8 1474.4,1216.9 1480.4,1217.2 1486.4,1217.5 1492.4,1216.9 1498.4,1217.0 1504.4,1217.1 1510.4,1216.5 1516.4,1217.2 1522.4,1217.2 1528.4,1217.0 1534.4,1217.2 1540.4,1216.7 1546.4,1216.9 1552.4,1217.4 1558.4,1217.8 1564.4,1217.6 1570.4,1217.4 1576.4,1217.1 1582.4,1216.1 1588.4,1216.3 1594.4,1216.4 1600.4,1216.9 1606.4,1216.9 1612.4,1216.9 1618.4,1217.4 1624.4,1217.4 1630.4,1217.5 1636.4,1216.8 1642.4,1216.7 1648.4,1216.4 1654.4,1217.0 1660.4,1216.9 1666.4,1216.7 1672.4,1216.8 1678.4,1216.7 1684.4,1217.4 1690.4,1217.8 1696.4,1217.8 1702.4,1217.6 1708.4,1218.1 1714.4,1218.1 1720.4,1218.1 1726.4,1217.4 1732.4,1217.3 1738.4,1217.4 1744.4,1216.7 1750.4,1216.5 1756.4,1217.0 1762.4,1216.5 1768.4,1217.1 1774.4,1217.3 1780.4,1217.3 1786.4,1217.1 1792.4,1217.1 1798.4,1217.8 1804.4,1217.0 1810.4,1217.1 1816.4,1217.4 1822.4,1217.5 1828.4,1217.3 1834.4,1217.1 1840.4,1217.2 1846.4,1217.7 1852.4,1217.5 1858.4,1217.3 1864.4,1217.0 1870.4,1217.6 1876.4,1217.1 1882.4,1217.4 1888.4,1217.4 1894.4,1217.3 1900.4,1217.7 1906.4,1218.1 1912.4,1218.0 1918.4,1218.3 1924.4,1218.0 1930.4,1217.8 1936.4,1217.4 1942.4,1217.2 1946.5,1217.5 1946.5,1252.6 1090.4,1252.6" fill="url(#e2sub)" filter="url(#b1)"/>
<ellipse cx="1748.7" cy="1183.1" rx="17.4" ry="15.8" fill="#fff" fill-opacity="0.045" filter="url(#b4)"/>
<ellipse cx="1286.7" cy="1176.3" rx="30.3" ry="29.6" fill="#fff" fill-opacity="0.045" filter="url(#b4)"/>
<ellipse cx="1152.0" cy="1136.2" rx="25.0" ry="31.2" fill="#fff" fill-opacity="0.045" filter="url(#b4)"/>
<ellipse cx="1732.0" cy="1158.9" rx="19.1" ry="19.1" fill="#fff" fill-opacity="0.045" filter="url(#b4)"/>
<ellipse cx="1152.7" cy="1155.2" rx="39.5" ry="31.9" fill="#fff" fill-opacity="0.045" filter="url(#b4)"/>
<ellipse cx="1672.1" cy="1157.4" rx="25.1" ry="21.8" fill="#fff" fill-opacity="0.045" filter="url(#b4)"/>
<ellipse cx="1373.0" cy="1140.1" rx="20.8" ry="17.0" fill="#000" fill-opacity="0.045" filter="url(#b4)"/>
<ellipse cx="1205.2" cy="1144.6" rx="26.3" ry="18.2" fill="#fff" fill-opacity="0.045" filter="url(#b4)"/>
<ellipse cx="1359.9" cy="1134.8" rx="18.8" ry="18.7" fill="#fff" fill-opacity="0.045" filter="url(#b4)"/>
<ellipse cx="1933.8" cy="1182.3" rx="15.1" ry="21.8" fill="#000" fill-opacity="0.045" filter="url(#b4)"/>
<ellipse cx="1303.3" cy="1181.8" rx="32.0" ry="22.2" fill="#fff" fill-opacity="0.045" filter="url(#b4)"/>
<ellipse cx="1324.0" cy="1194.2" rx="22.4" ry="29.2" fill="#000" fill-opacity="0.045" filter="url(#b4)"/>
<ellipse cx="1399.7" cy="1184.2" rx="35.9" ry="28.1" fill="#000" fill-opacity="0.045" filter="url(#b4)"/>
<ellipse cx="1839.6" cy="1169.4" rx="18.4" ry="23.3" fill="#000" fill-opacity="0.045" filter="url(#b4)"/>
<ellipse cx="1780.3" cy="1143.8" rx="25.6" ry="24.3" fill="#000" fill-opacity="0.045" filter="url(#b4)"/>
<ellipse cx="1527.3" cy="1165.9" rx="25.8" ry="29.5" fill="#fff" fill-opacity="0.045" filter="url(#b4)"/>
<ellipse cx="1201.2" cy="1183.7" rx="25.3" ry="19.1" fill="#fff" fill-opacity="0.045" filter="url(#b4)"/>
<ellipse cx="1701.1" cy="1152.3" rx="25.2" ry="31.2" fill="#fff" fill-opacity="0.045" filter="url(#b4)"/>
<ellipse cx="1338.6" cy="1167.8" rx="21.7" ry="29.7" fill="#fff" fill-opacity="0.045" filter="url(#b4)"/>
<ellipse cx="1241.1" cy="1138.9" rx="39.7" ry="20.0" fill="#fff" fill-opacity="0.045" filter="url(#b4)"/>
<ellipse cx="1439.2" cy="1191.5" rx="19.0" ry="25.7" fill="#000" fill-opacity="0.045" filter="url(#b4)"/>
<ellipse cx="1223.0" cy="1155.3" rx="17.7" ry="28.9" fill="#fff" fill-opacity="0.045" filter="url(#b4)"/>
<ellipse cx="1603.8" cy="1148.1" rx="35.8" ry="14.1" fill="#000" fill-opacity="0.045" filter="url(#b4)"/>
<ellipse cx="1878.7" cy="1184.8" rx="21.5" ry="27.7" fill="#000" fill-opacity="0.045" filter="url(#b4)"/>
<ellipse cx="1798.6" cy="1136.5" rx="36.3" ry="25.7" fill="#fff" fill-opacity="0.045" filter="url(#b4)"/>
<ellipse cx="1813.7" cy="1153.0" rx="34.2" ry="30.6" fill="#fff" fill-opacity="0.045" filter="url(#b4)"/>
<ellipse cx="1692.3" cy="1156.7" rx="24.3" ry="16.6" fill="#fff" fill-opacity="0.045" filter="url(#b4)"/>
<ellipse cx="1351.2" cy="1147.4" rx="26.6" ry="15.0" fill="#000" fill-opacity="0.045" filter="url(#b4)"/>
<ellipse cx="1267.0" cy="1171.4" rx="16.5" ry="27.9" fill="#000" fill-opacity="0.045" filter="url(#b4)"/>
<ellipse cx="1358.1" cy="1145.3" rx="39.2" ry="19.3" fill="#fff" fill-opacity="0.045" filter="url(#b4)"/>
<path d="M1148.7,1130.1 L1146.1,1166.0 L1155.5,1198.2 M1248.3,1130.4 L1240.4,1159.2 L1241.9,1198.5 M1325.1,1130.5 L1329.3,1156.2 L1340.3,1198.8 M1240.4,1159.2 L1329.3,1156.2 M1402.6,1130.7 L1409.0,1171.7 L1413.9,1199.1 M1329.3,1156.2 L1409.0,1171.7 M1472.6,1130.9 L1473.9,1168.0 L1483.5,1199.3 M1535.7,1131.0 L1533.9,1156.9 L1540.4,1199.6 M1613.0,1131.2 L1601.9,1168.1 L1596.2,1199.8 M1659.8,1131.3 L1669.5,1162.8 L1679.6,1200.0 M1749.2,1131.5 L1738.7,1178.3 L1733.6,1200.3 M1669.5,1162.8 L1738.7,1178.3 M1868.5,1131.8 L1877.8,1161.6 L1887.6,1200.7" fill="none" stroke="#fff" stroke-opacity="0.28" stroke-width="3.6" stroke-linejoin="round" filter="url(#b2)"/>
<g filter="url(#b1)">
<ellipse cx="1753.1" cy="1208.8" rx="4.0" ry="0.9" fill="#dedede" fill-opacity="0.4" transform="rotate(-0.6 1753.1 1208.8)"/>
<ellipse cx="1178.8" cy="1209.4" rx="7.8" ry="1.4" fill="#dedede" fill-opacity="0.4" transform="rotate(1.0 1178.8 1209.4)"/>
<ellipse cx="1738.1" cy="1206.8" rx="9.4" ry="1.0" fill="#dedede" fill-opacity="0.4" transform="rotate(1.6 1738.1 1206.8)"/>
<ellipse cx="1828.7" cy="1207.7" rx="8.6" ry="1.0" fill="#dedede" fill-opacity="0.4" transform="rotate(0.9 1828.7 1207.7)"/>
<ellipse cx="1257.7" cy="1212.7" rx="6.2" ry="1.9" fill="#dedede" fill-opacity="0.4" transform="rotate(0.9 1257.7 1212.7)"/>
<ellipse cx="1805.4" cy="1209.5" rx="10.6" ry="0.9" fill="#dedede" fill-opacity="0.4" transform="rotate(1.7 1805.4 1209.5)"/>
<ellipse cx="1821.6" cy="1207.6" rx="7.9" ry="1.0" fill="#dedede" fill-opacity="0.4" transform="rotate(-0.3 1821.6 1207.6)"/>
<ellipse cx="1813.0" cy="1207.9" rx="10.1" ry="1.4" fill="#dedede" fill-opacity="0.4" transform="rotate(-0.5 1813.0 1207.9)"/>
<ellipse cx="1326.0" cy="1211.7" rx="4.7" ry="1.6" fill="#dedede" fill-opacity="0.4" transform="rotate(2.4 1326.0 1211.7)"/>
<ellipse cx="1937.2" cy="1207.9" rx="3.4" ry="1.2" fill="#dedede" fill-opacity="0.4" transform="rotate(1.9 1937.2 1207.9)"/>
<ellipse cx="1876.7" cy="1211.2" rx="6.2" ry="1.2" fill="#dedede" fill-opacity="0.4" transform="rotate(1.8 1876.7 1211.2)"/>
<ellipse cx="1647.0" cy="1210.1" rx="8.2" ry="1.4" fill="#dedede" fill-opacity="0.4" transform="rotate(1.8 1647.0 1210.1)"/>
<ellipse cx="1828.6" cy="1215.5" rx="10.0" ry="1.5" fill="#dedede" fill-opacity="0.4" transform="rotate(1.8 1828.6 1215.5)"/>
<ellipse cx="1278.9" cy="1213.5" rx="4.3" ry="1.8" fill="#dedede" fill-opacity="0.4" transform="rotate(1.6 1278.9 1213.5)"/>
<ellipse cx="1233.4" cy="1213.5" rx="6.6" ry="1.4" fill="#dedede" fill-opacity="0.4" transform="rotate(-0.5 1233.4 1213.5)"/>
<ellipse cx="1459.5" cy="1210.7" rx="7.5" ry="1.3" fill="#dedede" fill-opacity="0.4" transform="rotate(-1.0 1459.5 1210.7)"/>
<ellipse cx="1719.7" cy="1215.1" rx="6.6" ry="1.6" fill="#dedede" fill-opacity="0.4" transform="rotate(1.7 1719.7 1215.1)"/>
<ellipse cx="1250.0" cy="1211.6" rx="8.6" ry="1.8" fill="#dedede" fill-opacity="0.4" transform="rotate(1.5 1250.0 1211.6)"/>
<ellipse cx="1557.9" cy="1208.5" rx="3.3" ry="0.9" fill="#dedede" fill-opacity="0.4" transform="rotate(2.0 1557.9 1208.5)"/>
<ellipse cx="1876.3" cy="1209.1" rx="9.7" ry="1.1" fill="#dedede" fill-opacity="0.4" transform="rotate(0.7 1876.3 1209.1)"/>
<ellipse cx="1223.7" cy="1210.1" rx="4.1" ry="1.7" fill="#dedede" fill-opacity="0.4" transform="rotate(0.7 1223.7 1210.1)"/>
<ellipse cx="1299.9" cy="1214.3" rx="5.0" ry="1.1" fill="#dedede" fill-opacity="0.4" transform="rotate(1.0 1299.9 1214.3)"/>
<ellipse cx="1255.4" cy="1214.8" rx="6.4" ry="1.0" fill="#dedede" fill-opacity="0.4" transform="rotate(-0.3 1255.4 1214.8)"/>
<ellipse cx="1338.0" cy="1215.0" rx="4.3" ry="1.2" fill="#dedede" fill-opacity="0.4" transform="rotate(-0.8 1338.0 1215.0)"/>
<ellipse cx="1896.5" cy="1213.2" rx="3.1" ry="1.7" fill="#dedede" fill-opacity="0.4" transform="rotate(0.0 1896.5 1213.2)"/>
<ellipse cx="1495.6" cy="1207.2" rx="3.5" ry="1.7" fill="#dedede" fill-opacity="0.4" transform="rotate(1.4 1495.6 1207.2)"/>
<ellipse cx="1627.2" cy="1212.5" rx="9.2" ry="1.0" fill="#dedede" fill-opacity="0.4" transform="rotate(0.6 1627.2 1212.5)"/>
<ellipse cx="1503.1" cy="1210.1" rx="9.9" ry="1.2" fill="#dedede" fill-opacity="0.4" transform="rotate(1.2 1503.1 1210.1)"/>
<ellipse cx="1095.9" cy="1206.6" rx="7.7" ry="1.7" fill="#dedede" fill-opacity="0.4" transform="rotate(2.0 1095.9 1206.6)"/>
<ellipse cx="1920.3" cy="1210.3" rx="10.3" ry="1.8" fill="#dedede" fill-opacity="0.4" transform="rotate(1.7 1920.3 1210.3)"/>
<ellipse cx="1422.2" cy="1211.1" rx="9.1" ry="1.1" fill="#dedede" fill-opacity="0.4" transform="rotate(-0.1 1422.2 1211.1)"/>
<ellipse cx="1117.6" cy="1213.9" rx="6.0" ry="0.9" fill="#dedede" fill-opacity="0.4" transform="rotate(0.7 1117.6 1213.9)"/>
<ellipse cx="1391.9" cy="1206.9" rx="9.6" ry="1.5" fill="#dedede" fill-opacity="0.4" transform="rotate(1.1 1391.9 1206.9)"/>
<ellipse cx="1898.4" cy="1213.3" rx="5.2" ry="1.7" fill="#dedede" fill-opacity="0.4" transform="rotate(2.4 1898.4 1213.3)"/>
<ellipse cx="1646.0" cy="1210.8" rx="6.7" ry="0.9" fill="#dedede" fill-opacity="0.4" transform="rotate(1.7 1646.0 1210.8)"/>
<ellipse cx="1714.2" cy="1208.3" rx="5.2" ry="1.3" fill="#dedede" fill-opacity="0.4" transform="rotate(1.6 1714.2 1208.3)"/>
<ellipse cx="1268.8" cy="1213.5" rx="11.2" ry="1.0" fill="#dedede" fill-opacity="0.4" transform="rotate(-0.2 1268.8 1213.5)"/>
<ellipse cx="1166.2" cy="1210.2" rx="9.6" ry="0.9" fill="#dedede" fill-opacity="0.4" transform="rotate(0.2 1166.2 1210.2)"/>
<ellipse cx="1398.8" cy="1209.9" rx="6.7" ry="0.8" fill="#dedede" fill-opacity="0.4" transform="rotate(1.9 1398.8 1209.9)"/>
<ellipse cx="1780.2" cy="1207.4" rx="3.8" ry="1.0" fill="#dedede" fill-opacity="0.4" transform="rotate(1.8 1780.2 1207.4)"/>
<ellipse cx="1122.9" cy="1212.9" rx="6.0" ry="1.9" fill="#dedede" fill-opacity="0.4" transform="rotate(0.2 1122.9 1212.9)"/>
<ellipse cx="1761.3" cy="1207.1" rx="6.3" ry="1.0" fill="#dedede" fill-opacity="0.4" transform="rotate(0.8 1761.3 1207.1)"/>
<ellipse cx="1876.7" cy="1214.1" rx="6.4" ry="1.1" fill="#dedede" fill-opacity="0.4" transform="rotate(-0.7 1876.7 1214.1)"/>
<ellipse cx="1635.6" cy="1214.0" rx="6.8" ry="1.9" fill="#dedede" fill-opacity="0.4" transform="rotate(-0.5 1635.6 1214.0)"/>
<ellipse cx="1232.7" cy="1207.1" rx="7.6" ry="0.9" fill="#dedede" fill-opacity="0.4" transform="rotate(1.5 1232.7 1207.1)"/>
<ellipse cx="1762.8" cy="1209.3" rx="11.5" ry="0.8" fill="#dedede" fill-opacity="0.4" transform="rotate(1.5 1762.8 1209.3)"/>
<ellipse cx="1559.2" cy="1210.8" rx="6.1" ry="1.9" fill="#dedede" fill-opacity="0.4" transform="rotate(-0.8 1559.2 1210.8)"/>
<ellipse cx="1732.4" cy="1211.3" rx="8.1" ry="0.9" fill="#dedede" fill-opacity="0.4" transform="rotate(1.6 1732.4 1211.3)"/>
<ellipse cx="1462.3" cy="1208.3" rx="7.1" ry="1.6" fill="#dedede" fill-opacity="0.4" transform="rotate(1.2 1462.3 1208.3)"/>
<ellipse cx="1938.5" cy="1212.8" rx="12.0" ry="0.8" fill="#dedede" fill-opacity="0.4" transform="rotate(1.3 1938.5 1212.8)"/>
<ellipse cx="1837.3" cy="1210.1" rx="4.6" ry="0.9" fill="#dedede" fill-opacity="0.4" transform="rotate(0.1 1837.3 1210.1)"/>
<ellipse cx="1733.9" cy="1208.3" rx="5.9" ry="1.3" fill="#dedede" fill-opacity="0.4" transform="rotate(-0.8 1733.9 1208.3)"/>
<ellipse cx="1223.1" cy="1208.9" rx="10.0" ry="1.7" fill="#dedede" fill-opacity="0.4" transform="rotate(0.2 1223.1 1208.9)"/>
<ellipse cx="1360.0" cy="1208.6" rx="7.3" ry="1.6" fill="#dedede" fill-opacity="0.4" transform="rotate(2.0 1360.0 1208.6)"/>
<ellipse cx="1906.2" cy="1210.2" rx="6.3" ry="1.1" fill="#dedede" fill-opacity="0.4" transform="rotate(0.7 1906.2 1210.2)"/>
<ellipse cx="1154.9" cy="1209.1" rx="3.6" ry="1.2" fill="#dedede" fill-opacity="0.4" transform="rotate(2.0 1154.9 1209.1)"/>
<ellipse cx="1435.6" cy="1215.4" rx="10.6" ry="1.6" fill="#dedede" fill-opacity="0.4" transform="rotate(2.2 1435.6 1215.4)"/>
<ellipse cx="1567.2" cy="1214.6" rx="5.3" ry="1.1" fill="#dedede" fill-opacity="0.4" transform="rotate(2.1 1567.2 1214.6)"/>
<ellipse cx="1655.8" cy="1211.8" rx="5.4" ry="1.4" fill="#dedede" fill-opacity="0.4" transform="rotate(0.0 1655.8 1211.8)"/>
<ellipse cx="1135.9" cy="1212.5" rx="9.3" ry="1.4" fill="#dedede" fill-opacity="0.4" transform="rotate(2.3 1135.9 1212.5)"/>
<ellipse cx="1157.0" cy="1212.4" rx="3.9" ry="1.7" fill="#dedede" fill-opacity="0.4" transform="rotate(2.2 1157.0 1212.4)"/>
<ellipse cx="1106.1" cy="1214.2" rx="9.2" ry="1.4" fill="#dedede" fill-opacity="0.4" transform="rotate(1.0 1106.1 1214.2)"/>
<ellipse cx="1124.6" cy="1206.2" rx="8.4" ry="1.0" fill="#dedede" fill-opacity="0.4" transform="rotate(-0.5 1124.6 1206.2)"/>
<ellipse cx="1410.0" cy="1211.1" rx="9.8" ry="1.6" fill="#dedede" fill-opacity="0.4" transform="rotate(1.0 1410.0 1211.1)"/>
<ellipse cx="1102.5" cy="1214.0" rx="3.1" ry="2.0" fill="#dedede" fill-opacity="0.4" transform="rotate(0.6 1102.5 1214.0)"/>
<ellipse cx="1708.7" cy="1212.1" rx="6.2" ry="1.6" fill="#dedede" fill-opacity="0.4" transform="rotate(1.6 1708.7 1212.1)"/>
<ellipse cx="1306.9" cy="1213.6" rx="6.7" ry="1.1" fill="#dedede" fill-opacity="0.4" transform="rotate(0.1 1306.9 1213.6)"/>
<ellipse cx="1678.2" cy="1208.8" rx="6.0" ry="0.8" fill="#dedede" fill-opacity="0.4" transform="rotate(-0.9 1678.2 1208.8)"/>
<ellipse cx="1894.5" cy="1210.7" rx="10.9" ry="1.7" fill="#dedede" fill-opacity="0.4" transform="rotate(2.0 1894.5 1210.7)"/>
<ellipse cx="1274.1" cy="1210.7" rx="11.0" ry="1.3" fill="#dedede" fill-opacity="0.4" transform="rotate(-0.1 1274.1 1210.7)"/>
<ellipse cx="1848.9" cy="1211.7" rx="9.5" ry="1.1" fill="#dedede" fill-opacity="0.4" transform="rotate(1.7 1848.9 1211.7)"/>
<ellipse cx="1451.1" cy="1214.2" rx="7.4" ry="1.3" fill="#dedede" fill-opacity="0.4" transform="rotate(-0.5 1451.1 1214.2)"/>
<ellipse cx="1802.7" cy="1209.6" rx="8.9" ry="1.5" fill="#dedede" fill-opacity="0.4" transform="rotate(0.6 1802.7 1209.6)"/>
<ellipse cx="1490.0" cy="1208.8" rx="3.7" ry="1.1" fill="#dedede" fill-opacity="0.4" transform="rotate(-0.2 1490.0 1208.8)"/>
<ellipse cx="1289.8" cy="1214.5" rx="11.4" ry="1.3" fill="#dedede" fill-opacity="0.4" transform="rotate(2.5 1289.8 1214.5)"/>
<ellipse cx="1097.3" cy="1206.7" rx="7.4" ry="1.1" fill="#dedede" fill-opacity="0.4" transform="rotate(1.3 1097.3 1206.7)"/>
<ellipse cx="1476.7" cy="1208.3" rx="3.6" ry="1.9" fill="#dedede" fill-opacity="0.4" transform="rotate(0.0 1476.7 1208.3)"/>
<ellipse cx="1737.3" cy="1211.5" rx="3.2" ry="1.8" fill="#dedede" fill-opacity="0.4" transform="rotate(-0.2 1737.3 1211.5)"/>
<ellipse cx="1320.8" cy="1206.8" rx="6.9" ry="1.9" fill="#dedede" fill-opacity="0.4" transform="rotate(-0.8 1320.8 1206.8)"/>
<ellipse cx="1240.1" cy="1209.8" rx="8.9" ry="1.2" fill="#dedede" fill-opacity="0.4" transform="rotate(0.8 1240.1 1209.8)"/>
<ellipse cx="1320.8" cy="1215.1" rx="6.1" ry="1.9" fill="#dedede" fill-opacity="0.4" transform="rotate(-0.1 1320.8 1215.1)"/>
<ellipse cx="1913.1" cy="1212.6" rx="11.9" ry="0.9" fill="#dedede" fill-opacity="0.4" transform="rotate(-0.8 1913.1 1212.6)"/>
<ellipse cx="1940.8" cy="1207.6" rx="5.4" ry="1.9" fill="#dedede" fill-opacity="0.4" transform="rotate(-0.6 1940.8 1207.6)"/>
<ellipse cx="1664.8" cy="1208.7" rx="6.6" ry="1.0" fill="#dedede" fill-opacity="0.4" transform="rotate(1.7 1664.8 1208.7)"/>
<ellipse cx="1245.1" cy="1210.0" rx="4.0" ry="1.7" fill="#dedede" fill-opacity="0.4" transform="rotate(2.1 1245.1 1210.0)"/>
<ellipse cx="1499.1" cy="1213.7" rx="9.7" ry="1.6" fill="#dedede" fill-opacity="0.4" transform="rotate(2.1 1499.1 1213.7)"/>
<ellipse cx="1943.3" cy="1210.4" rx="7.1" ry="1.9" fill="#dedede" fill-opacity="0.4" transform="rotate(0.7 1943.3 1210.4)"/>
<ellipse cx="1233.9" cy="1213.2" rx="3.1" ry="2.0" fill="#dedede" fill-opacity="0.4" transform="rotate(1.6 1233.9 1213.2)"/>
<ellipse cx="1908.6" cy="1213.9" rx="6.3" ry="1.8" fill="#dedede" fill-opacity="0.4" transform="rotate(0.8 1908.6 1213.9)"/>
<ellipse cx="1196.7" cy="1208.0" rx="6.6" ry="1.5" fill="#dedede" fill-opacity="0.4" transform="rotate(0.3 1196.7 1208.0)"/>
</g>
<polyline points="1092.4,1126.4 1100.4,1126.0 1108.4,1125.7 1116.4,1124.9 1124.4,1125.8 1132.4,1126.5 1140.4,1125.2 1148.4,1124.4 1156.4,1124.4 1164.4,1124.5 1172.4,1124.4 1180.4,1125.1 1188.4,1125.8 1196.4,1125.9 1204.4,1125.0 1212.4,1125.0 1220.4,1125.2 1228.4,1125.2 1236.4,1125.1 1244.4,1125.3 1252.4,1126.2 1260.4,1126.1 1268.4,1125.7 1276.4,1127.0 1284.4,1126.8 1292.4,1127.1 1300.4,1126.7 1308.4,1126.2 1316.4,1126.3 1324.4,1126.2 1332.4,1126.0 1340.4,1125.9 1348.4,1126.5 1356.4,1126.4 1364.4,1126.6 1372.4,1126.4 1380.4,1127.4 1388.4,1126.8 1396.4,1126.9 1404.4,1126.5 1412.4,1126.5 1420.4,1125.7 1428.4,1125.7 1436.4,1125.9 1444.4,1125.8 1452.4,1127.0 1460.4,1126.7 1468.4,1126.9 1476.4,1126.2 1484.4,1127.1 1492.4,1126.2 1500.4,1125.6 1508.4,1126.1 1516.4,1126.3 1524.4,1127.0 1532.4,1127.0 1540.4,1127.5 1548.4,1127.1 1556.4,1127.3 1564.4,1127.0 1572.4,1126.4 1580.4,1127.3 1588.4,1126.5 1596.4,1127.0 1604.4,1126.8 1612.4,1126.0 1620.4,1126.8 1628.4,1127.5 1636.4,1127.2 1644.4,1127.1 1652.4,1127.1 1660.4,1126.9 1668.4,1127.4 1676.4,1127.3 1684.4,1127.0 1692.4,1126.4 1700.4,1126.0 1708.4,1126.4 1716.4,1127.1 1724.4,1127.4 1732.4,1126.9 1740.4,1127.0 1748.4,1126.3 1756.4,1126.8 1764.4,1127.4 1772.4,1126.9 1780.4,1126.2 1788.4,1125.7 1796.4,1125.7 1804.4,1126.4 1812.4,1127.1 1820.4,1127.9 1828.4,1127.1 1836.4,1127.1 1844.4,1127.1 1852.4,1127.3 1860.4,1126.8 1868.4,1126.9 1876.4,1128.6 1884.4,1128.1 1892.4,1127.2 1900.4,1127.0 1908.4,1126.8 1916.4,1127.7 1924.4,1127.0 1932.4,1127.5 1940.4,1127.8 1944.5,1127.5" fill="none" stroke="#d0d0d0" stroke-width="3" stroke-opacity="0.6" filter="url(#b1)"/>
<rect x="1092.4" y="1113.3" width="852.1" height="137.3" filter="url(#semNoise)" opacity="0.25"/>
</g>
<text transform="translate(1113.8,1143.0)" font-size="30.2" text-anchor="start" fill="#fff" font-weight="normal" >1000 bending cycles</text>
<rect x="1786.4" y="1235" width="149.6" height="6.7" fill="#fff"/>
<clipPath id="clip_e3"><rect x="1092.4" y="1267" width="852.1" height="159.0"/></clipPath>
<g clip-path="url(#clip_e3)">
<polygon points="1090.4,1262.0 1096.4,1262.0 1102.4,1262.0 1108.4,1262.0 1114.4,1262.0 1120.4,1262.0 1126.4,1262.0 1132.4,1262.0 1138.4,1262.0 1144.4,1262.0 1150.4,1262.0 1156.4,1262.0 1162.4,1262.0 1168.4,1262.0 1174.4,1262.0 1180.4,1262.0 1186.4,1262.0 1192.4,1262.0 1198.4,1262.0 1204.4,1262.0 1210.4,1262.0 1216.4,1262.0 1222.4,1262.0 1228.4,1262.0 1234.4,1262.0 1240.4,1262.0 1246.4,1262.0 1252.4,1262.0 1258.4,1262.0 1264.4,1262.0 1270.4,1262.0 1276.4,1262.0 1282.4,1262.0 1288.4,1262.0 1294.4,1262.0 1300.4,1262.0 1306.4,1262.0 1312.4,1262.0 1318.4,1262.0 1324.4,1262.0 1330.4,1262.0 1336.4,1262.0 1342.4,1262.0 1348.4,1262.0 1354.4,1262.0 1360.4,1262.0 1366.4,1262.0 1372.4,1262.0 1378.4,1262.0 1384.4,1262.0 1390.4,1262.0 1396.4,1262.0 1402.4,1262.0 1408.4,1262.0 1414.4,1262.0 1420.4,1262.0 1426.4,1262.0 1432.4,1262.0 1438.4,1262.0 1444.4,1262.0 1450.4,1262.0 1456.4,1262.0 1462.4,1262.0 1468.4,1262.0 1474.4,1262.0 1480.4,1262.0 1486.4,1262.0 1492.4,1262.0 1498.4,1262.0 1504.4,1262.0 1510.4,1262.0 1516.4,1262.0 1522.4,1262.0 1528.4,1262.0 1534.4,1262.0 1540.4,1262.0 1546.4,1262.0 1552.4,1262.0 1558.4,1262.0 1564.4,1262.0 1570.4,1262.0 1576.4,1262.0 1582.4,1262.0 1588.4,1262.0 1594.4,1262.0 1600.4,1262.0 1606.4,1262.0 1612.4,1262.0 1618.4,1262.0 1624.4,1262.0 1630.4,1262.0 1636.4,1262.0 1642.4,1262.0 1648.4,1262.0 1654.4,1262.0 1660.4,1262.0 1666.4,1262.0 1672.4,1262.0 1678.4,1262.0 1684.4,1262.0 1690.4,1262.0 1696.4,1262.0 1702.4,1262.0 1708.4,1262.0 1714.4,1262.0 1720.4,1262.0 1726.4,1262.0 1732.4,1262.0 1738.4,1262.0 1744.4,1262.0 1750.4,1262.0 1756.4,1262.0 1762.4,1262.0 1768.4,1262.0 1774.4,1262.0 1780.4,1262.0 1786.4,1262.0 1792.4,1262.0 1798.4,1262.0 1804.4,1262.0 1810.4,1262.0 1816.4,1262.0 1822.4,1262.0 1828.4,1262.0 1834.4,1262.0 1840.4,1262.0 1846.4,1262.0 1852.4,1262.0 1858.4,1262.0 1864.4,1262.0 1870.4,1262.0 1876.4,1262.0 1882.4,1262.0 1888.4,1262.0 1894.4,1262.0 1900.4,1262.0 1906.4,1262.0 1912.4,1262.0 1918.4,1262.0 1924.4,1262.0 1930.4,1262.0 1936.4,1262.0 1942.4,1262.0 1946.5,1262.0 1946.5,1428.0 1090.4,1428.0" fill="url(#e3top)"/>
<polygon points="1090.4,1298.2 1104.4,1299.2 1118.4,1299.7 1132.4,1299.9 1146.4,1299.9 1160.4,1299.0 1174.4,1300.6 1188.4,1300.6 1202.4,1301.2 1216.4,1300.7 1230.4,1300.4 1244.4,1300.3 1258.4,1301.4 1272.4,1301.2 1286.4,1302.5 1300.4,1302.2 1314.4,1300.8 1328.4,1301.7 1342.4,1302.0 1356.4,1302.2 1370.4,1304.8 1384.4,1304.5 1398.4,1302.7 1412.4,1303.1 1426.4,1303.7 1440.4,1303.4 1454.4,1305.3 1468.4,1304.8 1482.4,1303.9 1496.4,1303.4 1510.4,1302.8 1524.4,1303.5 1538.4,1304.5 1552.4,1305.3 1566.4,1304.1 1580.4,1305.2 1594.4,1304.2 1608.4,1304.1 1622.4,1305.8 1636.4,1304.8 1650.4,1306.8 1664.4,1307.6 1678.4,1308.2 1692.4,1306.7 1706.4,1308.3 1720.4,1308.1 1734.4,1307.4 1748.4,1308.1 1762.4,1308.1 1776.4,1309.4 1790.4,1308.6 1804.4,1308.4 1818.4,1308.0 1832.4,1308.5 1846.4,1309.5 1860.4,1308.3 1874.4,1308.5 1888.4,1310.3 1902.4,1310.7 1916.4,1310.4 1930.4,1311.5 1944.4,1310.7 1946.5,1310.0 1946.5,1428.0 1090.4,1428.0" fill="#9f9f9f" filter="url(#b2)"/>
<polygon points="1090.4,1388.4 1096.4,1388.5 1102.4,1388.2 1108.4,1387.2 1114.4,1387.6 1120.4,1388.3 1126.4,1387.7 1132.4,1388.1 1138.4,1389.0 1144.4,1388.4 1150.4,1388.6 1156.4,1388.8 1162.4,1388.1 1168.4,1388.8 1174.4,1388.6 1180.4,1389.0 1186.4,1389.4 1192.4,1389.2 1198.4,1388.5 1204.4,1388.5 1210.4,1388.4 1216.4,1388.7 1222.4,1388.9 1228.4,1389.9 1234.4,1390.3 1240.4,1390.6 1246.4,1390.7 1252.4,1390.2 1258.4,1390.4 1264.4,1390.4 1270.4,1389.2 1276.4,1389.4 1282.4,1390.0 1288.4,1389.8 1294.4,1390.0 1300.4,1390.3 1306.4,1390.3 1312.4,1390.0 1318.4,1390.2 1324.4,1392.0 1330.4,1391.5 1336.4,1390.8 1342.4,1390.1 1348.4,1390.5 1354.4,1389.8 1360.4,1389.7 1366.4,1389.7 1372.4,1390.2 1378.4,1390.8 1384.4,1390.8 1390.4,1390.2 1396.4,1390.6 1402.4,1390.2 1408.4,1391.3 1414.4,1391.7 1420.4,1392.5 1426.4,1392.7 1432.4,1392.7 1438.4,1392.3 1444.4,1391.1 1450.4,1391.2 1456.4,1391.4 1462.4,1391.4 1468.4,1391.6 1474.4,1391.5 1480.4,1391.5 1486.4,1392.2 1492.4,1392.4 1498.4,1392.0 1504.4,1392.0 1510.4,1392.6 1516.4,1392.6 1522.4,1393.0 1528.4,1392.6 1534.4,1392.9 1540.4,1392.8 1546.4,1393.1 1552.4,1392.4 1558.4,1392.3 1564.4,1392.6 1570.4,1393.4 1576.4,1392.2 1582.4,1391.8 1588.4,1392.7 1594.4,1392.9 1600.4,1394.0 1606.4,1393.5 1612.4,1393.6 1618.4,1393.9 1624.4,1393.4 1630.4,1393.6 1636.4,1393.5 1642.4,1394.1 1648.4,1393.5 1654.4,1393.5 1660.4,1394.3 1666.4,1394.3 1672.4,1394.5 1678.4,1395.5 1684.4,1395.2 1690.4,1395.1 1696.4,1394.6 1702.4,1394.9 1708.4,1394.8 1714.4,1394.6 1720.4,1395.3 1726.4,1394.8 1732.4,1394.8 1738.4,1394.4 1744.4,1394.3 1750.4,1394.6 1756.4,1394.8 1762.4,1394.3 1768.4,1394.7 1774.4,1395.3 1780.4,1395.6 1786.4,1395.5 1792.4,1393.9 1798.4,1393.5 1804.4,1394.7 1810.4,1394.8 1816.4,1394.8 1822.4,1395.8 1828.4,1394.9 1834.4,1395.4 1840.4,1395.8 1846.4,1396.3 1852.4,1396.6 1858.4,1396.3 1864.4,1396.1 1870.4,1395.7 1876.4,1395.0 1882.4,1395.6 1888.4,1396.6 1894.4,1396.5 1900.4,1396.9 1906.4,1396.8 1912.4,1396.6 1918.4,1397.1 1924.4,1396.2 1930.4,1397.7 1936.4,1398.0 1942.4,1398.4 1946.5,1397.0 1946.5,1428.0 1090.4,1428.0" fill="#8a8a8a" filter="url(#b2)"/>
<polygon points="1090.4,1392.9 1096.4,1392.3 1102.4,1391.7 1108.4,1392.4 1114.4,1393.9 1120.4,1393.9 1126.4,1393.5 1132.4,1393.8 1138.4,1394.6 1144.4,1394.2 1150.4,1395.0 1156.4,1394.6 1162.4,1394.5 1168.4,1395.6 1174.4,1393.9 1180.4,1393.0 1186.4,1393.9 1192.4,1394.1 1198.4,1394.3 1204.4,1394.3 1210.4,1394.2 1216.4,1394.7 1222.4,1393.9 1228.4,1394.2 1234.4,1394.0 1240.4,1394.6 1246.4,1394.4 1252.4,1395.0 1258.4,1394.5 1264.4,1393.7 1270.4,1393.8 1276.4,1394.2 1282.4,1395.0 1288.4,1395.0 1294.4,1394.8 1300.4,1394.2 1306.4,1394.3 1312.4,1394.7 1318.4,1394.7 1324.4,1395.7 1330.4,1396.8 1336.4,1396.1 1342.4,1395.3 1348.4,1395.7 1354.4,1395.4 1360.4,1395.7 1366.4,1396.2 1372.4,1395.6 1378.4,1395.7 1384.4,1396.1 1390.4,1396.1 1396.4,1396.1 1402.4,1396.2 1408.4,1396.2 1414.4,1396.4 1420.4,1396.4 1426.4,1397.5 1432.4,1397.5 1438.4,1396.9 1444.4,1396.4 1450.4,1396.6 1456.4,1397.6 1462.4,1398.0 1468.4,1398.6 1474.4,1398.1 1480.4,1396.9 1486.4,1398.4 1492.4,1397.8 1498.4,1397.7 1504.4,1397.5 1510.4,1397.4 1516.4,1397.7 1522.4,1396.8 1528.4,1397.6 1534.4,1398.0 1540.4,1397.3 1546.4,1397.5 1552.4,1397.8 1558.4,1397.7 1564.4,1397.5 1570.4,1397.6 1576.4,1397.9 1582.4,1398.2 1588.4,1398.0 1594.4,1398.3 1600.4,1398.9 1606.4,1399.1 1612.4,1399.2 1618.4,1399.5 1624.4,1398.8 1630.4,1399.4 1636.4,1399.2 1642.4,1398.8 1648.4,1397.8 1654.4,1397.5 1660.4,1396.8 1666.4,1397.8 1672.4,1397.7 1678.4,1398.5 1684.4,1397.7 1690.4,1398.6 1696.4,1398.8 1702.4,1399.6 1708.4,1399.3 1714.4,1399.5 1720.4,1398.8 1726.4,1399.5 1732.4,1400.2 1738.4,1400.7 1744.4,1400.5 1750.4,1400.3 1756.4,1400.4 1762.4,1399.7 1768.4,1399.8 1774.4,1400.7 1780.4,1400.8 1786.4,1401.3 1792.4,1400.8 1798.4,1400.4 1804.4,1401.0 1810.4,1400.5 1816.4,1401.0 1822.4,1400.9 1828.4,1400.0 1834.4,1400.4 1840.4,1401.9 1846.4,1402.1 1852.4,1401.6 1858.4,1401.0 1864.4,1401.3 1870.4,1402.1 1876.4,1401.9 1882.4,1401.6 1888.4,1401.0 1894.4,1401.2 1900.4,1402.0 1906.4,1402.5 1912.4,1402.3 1918.4,1402.1 1924.4,1402.3 1930.4,1402.4 1936.4,1401.3 1942.4,1401.1 1946.5,1402.0 1946.5,1428.0 1090.4,1428.0" fill="url(#e3bot)" filter="url(#b1)"/>
<ellipse cx="1216.1" cy="1373.9" rx="29.4" ry="33.5" fill="#000" fill-opacity="0.04" filter="url(#b4)"/>
<ellipse cx="1241.0" cy="1330.9" rx="22.3" ry="35.2" fill="#000" fill-opacity="0.04" filter="url(#b4)"/>
<ellipse cx="1180.1" cy="1379.4" rx="29.7" ry="33.2" fill="#000" fill-opacity="0.04" filter="url(#b4)"/>
<ellipse cx="1098.3" cy="1321.0" rx="24.1" ry="13.9" fill="#000" fill-opacity="0.04" filter="url(#b4)"/>
<ellipse cx="1183.1" cy="1333.3" rx="30.7" ry="23.7" fill="#000" fill-opacity="0.04" filter="url(#b4)"/>
<ellipse cx="1326.3" cy="1318.5" rx="30.5" ry="25.0" fill="#fff" fill-opacity="0.04" filter="url(#b4)"/>
<ellipse cx="1369.2" cy="1333.0" rx="38.8" ry="14.4" fill="#000" fill-opacity="0.04" filter="url(#b4)"/>
<ellipse cx="1265.1" cy="1360.7" rx="30.5" ry="27.5" fill="#000" fill-opacity="0.04" filter="url(#b4)"/>
<ellipse cx="1315.3" cy="1341.2" rx="22.0" ry="28.9" fill="#fff" fill-opacity="0.04" filter="url(#b4)"/>
<ellipse cx="1851.6" cy="1328.6" rx="39.1" ry="31.0" fill="#fff" fill-opacity="0.04" filter="url(#b4)"/>
<ellipse cx="1719.6" cy="1361.2" rx="21.6" ry="27.1" fill="#fff" fill-opacity="0.04" filter="url(#b4)"/>
<ellipse cx="1753.5" cy="1323.6" rx="32.1" ry="17.4" fill="#fff" fill-opacity="0.04" filter="url(#b4)"/>
<ellipse cx="1093.9" cy="1342.7" rx="30.1" ry="34.6" fill="#fff" fill-opacity="0.04" filter="url(#b4)"/>
<ellipse cx="1490.2" cy="1331.9" rx="29.6" ry="28.4" fill="#000" fill-opacity="0.04" filter="url(#b4)"/>
<ellipse cx="1331.4" cy="1317.8" rx="39.0" ry="30.6" fill="#000" fill-opacity="0.04" filter="url(#b4)"/>
<ellipse cx="1443.1" cy="1331.0" rx="31.9" ry="19.1" fill="#000" fill-opacity="0.04" filter="url(#b4)"/>
<path d="M1222,1310 Q1232,1340 1250,1352" stroke="#707070" stroke-width="4.2" fill="none" filter="url(#b1c)" stroke-opacity="0.8"/>
<path d="M1290,1316 Q1280,1326 1276,1338" stroke="#7c7c7c" stroke-width="3.4" fill="none" filter="url(#b1c)" stroke-opacity="0.7"/>
<path d="M1853,1312 Q1852,1345 1847,1378" stroke="#6c6c6c" stroke-width="4.6" fill="none" filter="url(#b1c)" stroke-opacity="0.85"/>
<g filter="url(#b1)">
<ellipse cx="1206.2" cy="1417.7" rx="18.0" ry="0.7" fill="#e0e0e0" fill-opacity="0.6" transform="rotate(-0.1 1206.2 1417.7)"/>
<ellipse cx="1215.7" cy="1423.8" rx="14.0" ry="0.9" fill="#e0e0e0" fill-opacity="0.6" transform="rotate(0.5 1215.7 1423.8)"/>
<ellipse cx="1266.3" cy="1418.1" rx="12.4" ry="0.9" fill="#e0e0e0" fill-opacity="0.6" transform="rotate(1.3 1266.3 1418.1)"/>
<ellipse cx="1255.6" cy="1419.3" rx="8.3" ry="1.4" fill="#e0e0e0" fill-opacity="0.6" transform="rotate(0.5 1255.6 1419.3)"/>
<ellipse cx="1281.8" cy="1421.0" rx="10.2" ry="1.1" fill="#e0e0e0" fill-opacity="0.6" transform="rotate(1.8 1281.8 1421.0)"/>
<ellipse cx="1192.5" cy="1420.5" rx="15.0" ry="1.3" fill="#e0e0e0" fill-opacity="0.6" transform="rotate(0.0 1192.5 1420.5)"/>
<ellipse cx="1343.7" cy="1422.3" rx="5.8" ry="1.6" fill="#e0e0e0" fill-opacity="0.6" transform="rotate(2.0 1343.7 1422.3)"/>
<ellipse cx="1212.1" cy="1417.6" rx="16.5" ry="1.5" fill="#e0e0e0" fill-opacity="0.6" transform="rotate(0.6 1212.1 1417.6)"/>
<ellipse cx="1263.0" cy="1416.3" rx="6.5" ry="1.4" fill="#e0e0e0" fill-opacity="0.6" transform="rotate(1.0 1263.0 1416.3)"/>
<ellipse cx="1157.0" cy="1418.5" rx="15.0" ry="1.0" fill="#e0e0e0" fill-opacity="0.6" transform="rotate(1.4 1157.0 1418.5)"/>
</g>
<g filter="url(#b1)">
<ellipse cx="1888.8" cy="1418.7" rx="7.2" ry="2.4" fill="#e4e4e4" fill-opacity="0.6" transform="rotate(2.3 1888.8 1418.7)"/>
<ellipse cx="1855.6" cy="1421.7" rx="23.7" ry="1.6" fill="#e4e4e4" fill-opacity="0.6" transform="rotate(-0.5 1855.6 1421.7)"/>
<ellipse cx="1900.6" cy="1421.9" rx="9.7" ry="1.1" fill="#e4e4e4" fill-opacity="0.6" transform="rotate(1.8 1900.6 1421.9)"/>
<ellipse cx="1876.7" cy="1419.7" rx="14.8" ry="2.4" fill="#e4e4e4" fill-opacity="0.6" transform="rotate(-0.5 1876.7 1419.7)"/>
<ellipse cx="1836.6" cy="1423.3" rx="21.1" ry="2.3" fill="#e4e4e4" fill-opacity="0.6" transform="rotate(0.6 1836.6 1423.3)"/>
<ellipse cx="1861.1" cy="1424.3" rx="21.6" ry="1.4" fill="#e4e4e4" fill-opacity="0.6" transform="rotate(0.6 1861.1 1424.3)"/>
<ellipse cx="1818.4" cy="1423.3" rx="24.5" ry="1.1" fill="#e4e4e4" fill-opacity="0.6" transform="rotate(2.0 1818.4 1423.3)"/>
<ellipse cx="1795.5" cy="1424.7" rx="12.6" ry="1.8" fill="#e4e4e4" fill-opacity="0.6" transform="rotate(1.3 1795.5 1424.7)"/>
<ellipse cx="1891.0" cy="1424.5" rx="21.0" ry="2.2" fill="#e4e4e4" fill-opacity="0.6" transform="rotate(-0.4 1891.0 1424.5)"/>
<ellipse cx="1871.7" cy="1420.8" rx="7.7" ry="1.0" fill="#e4e4e4" fill-opacity="0.6" transform="rotate(2.4 1871.7 1420.8)"/>
<ellipse cx="1785.2" cy="1423.0" rx="25.0" ry="2.2" fill="#e4e4e4" fill-opacity="0.6" transform="rotate(-0.3 1785.2 1423.0)"/>
<ellipse cx="1889.5" cy="1418.9" rx="14.1" ry="1.1" fill="#e4e4e4" fill-opacity="0.6" transform="rotate(-0.8 1889.5 1418.9)"/>
<ellipse cx="1768.4" cy="1423.9" rx="8.0" ry="1.8" fill="#e4e4e4" fill-opacity="0.6" transform="rotate(1.4 1768.4 1423.9)"/>
<ellipse cx="1896.6" cy="1424.9" rx="8.9" ry="1.1" fill="#e4e4e4" fill-opacity="0.6" transform="rotate(0.9 1896.6 1424.9)"/>
</g>
<rect x="1092.4" y="1267" width="852.1" height="159.0" filter="url(#semNoise)" opacity="0.3"/>
</g>
<text transform="translate(1111.2,1299.3)" font-size="30.2" text-anchor="start" fill="#fff" font-weight="normal" >2500 bending cycles</text>
<rect x="1205.2" y="1307.2" width="99.4" height="56.9" fill="none" stroke="#ffe293" stroke-width="4.2" stroke-dasharray="17,13.4"/>
<rect x="1802.2" y="1300.4" width="82.7" height="83.3" fill="none" stroke="#ffe293" stroke-width="4.2" stroke-dasharray="17,13.4"/>
<text transform="translate(1512.5,1352.4)" font-size="28.6" text-anchor="start" fill="#ffe090" font-weight="normal" >cracks</text>
<line x1="1466.9" y1="1342" x2="1366" y2="1339.6" stroke="#ffe090" stroke-width="3"/>
<polygon points="1341.6,1339.3 1369.8,1333.6 1369.3,1345.4" fill="#ffe090"/>
<line x1="1631.2" y1="1346.4" x2="1724" y2="1346.4" stroke="#ffe090" stroke-width="3"/>
<polygon points="1749,1346.4 1721,1340.6 1721,1352.2" fill="#ffe090"/>
<rect x="1786.4" y="1406.5" width="149.6" height="6.7" fill="#fff"/>
</g>
</svg>
</body></html>
